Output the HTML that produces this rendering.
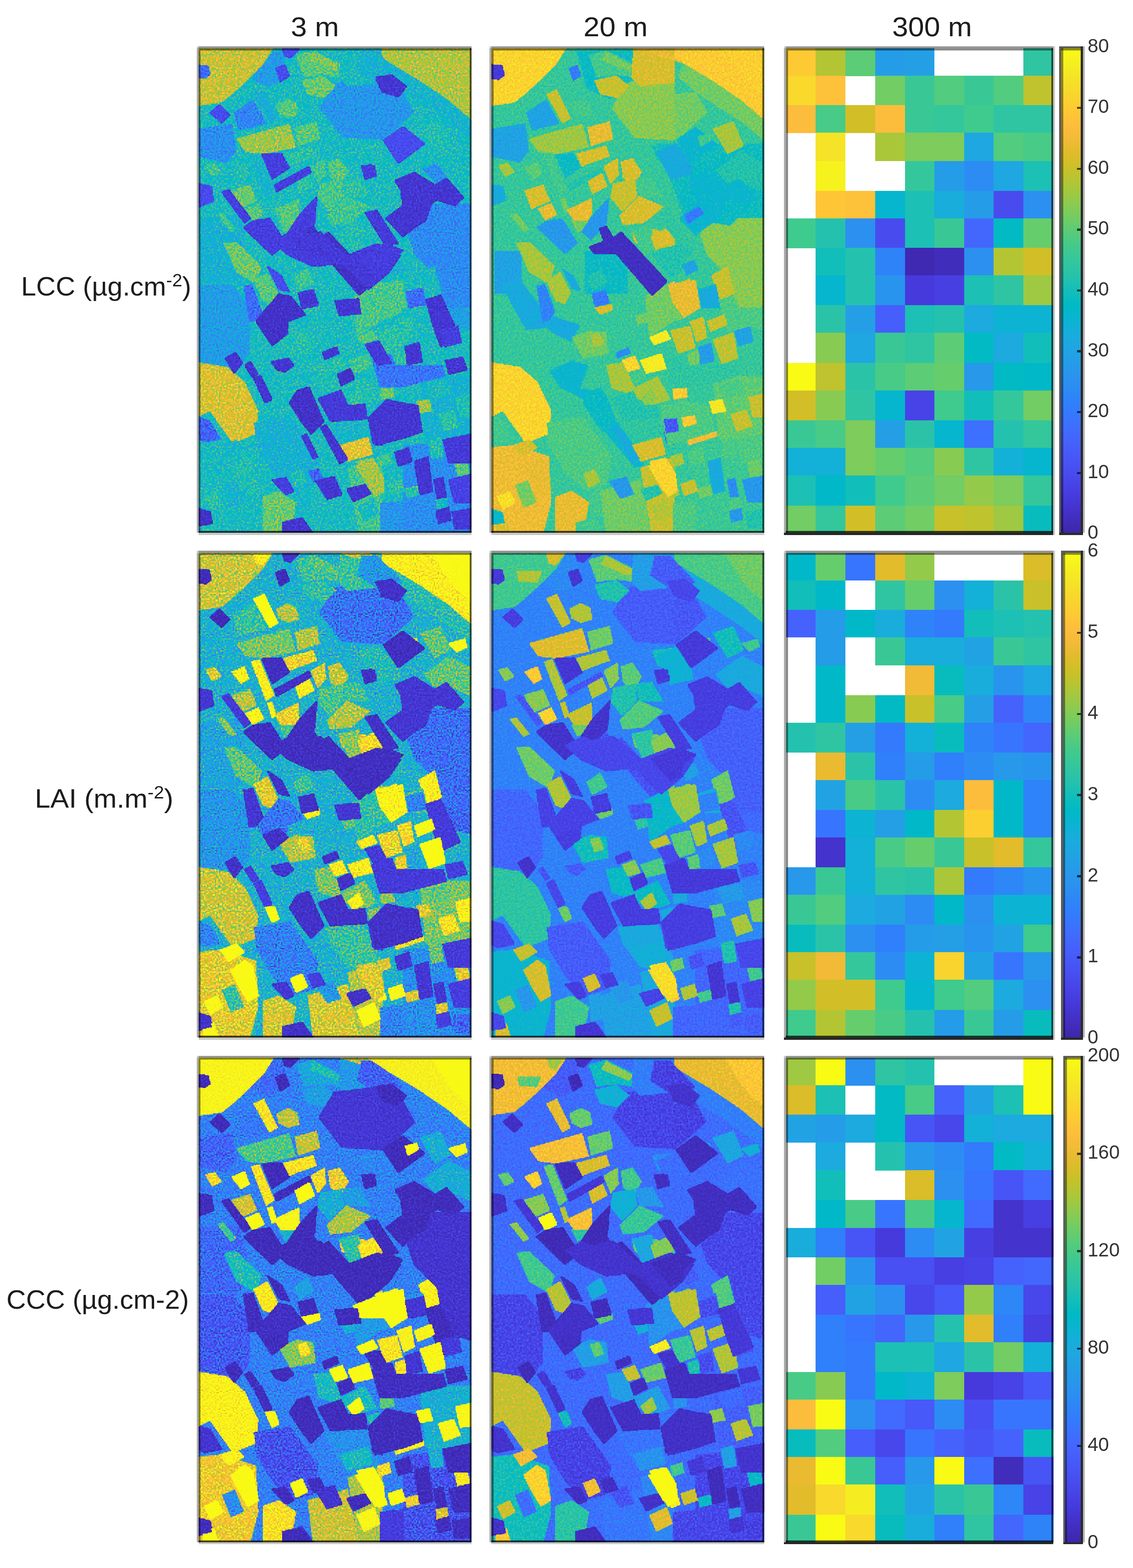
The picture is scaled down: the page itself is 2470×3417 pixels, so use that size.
<!DOCTYPE html>
<html lang="en"><head><meta charset="utf-8"><title>LCC, LAI and CCC maps at 3 m, 20 m and 300 m</title>
<style>html,body{margin:0;padding:0;background:#fff}body{width:2470px;height:3417px;overflow:hidden}svg{display:block}text{font-family:"Liberation Sans",sans-serif;fill:#1c1c1c}.t{font-size:59px}.l{font-size:57px}.k{font-size:42px;fill:#333}</style>
</head><body>
<svg width="2470" height="3417" viewBox="0 0 2470 3417">
<rect width="2470" height="3417" fill="#fff"/>
<defs><filter id="fNlcc3" filterUnits="userSpaceOnUse" primitiveUnits="userSpaceOnUse" x="0" y="0" width="600" height="1064" color-interpolation-filters="sRGB"><feTurbulence type="fractalNoise" baseFrequency="0.31" numOctaves="1" seed="3" stitchTiles="noStitch" result="t"/><feColorMatrix in="t" type="matrix" values="1 0 0 0 0 1 0 0 0 0 1 0 0 0 0 0 0 0 0 1" result="n"/><feComposite in="SourceGraphic" in2="n" operator="arithmetic" k1="0" k2="1" k3="0.75" k4="-0.375" result="s0"/><feComposite in="s0" in2="SourceGraphic" operator="in" result="s"/><feFlood x="1" y="1" width="1" height="1" flood-color="#fff" flood-opacity="1" result="d"/><feOffset in="d" dx="0" dy="0" x="0" y="0" width="4" height="4" result="c"/><feTile in="c" result="g"/><feComposite in="s" in2="g" operator="in" result="m"/><feMorphology in="m" operator="dilate" radius="1" result="b"/><feOffset in="b" dx="1" dy="0" result="b1"/><feMerge result="p"><feMergeNode in="b1"/><feMergeNode in="b"/></feMerge><feOffset in="p" dx="0" dy="1" result="p1"/><feMerge result="q"><feMergeNode in="p1"/><feMergeNode in="p"/></feMerge><feComponentTransfer in="q"><feFuncR type="table" tableValues="0.242 0.250 0.258 0.265 0.271 0.275 0.278 0.280 0.281 0.281 0.280 0.276 0.270 0.260 0.244 0.221 0.196 0.183 0.179 0.176 0.169 0.154 0.146 0.138 0.125 0.111 0.095 0.069 0.030 0.004 0.007 0.043 0.096 0.141 0.172 0.194 0.216 0.247 0.291 0.341 0.391 0.446 0.504 0.562 0.617 0.672 0.724 0.774 0.820 0.863 0.903 0.939 0.973 0.996 0.997 0.995 0.989 0.979 0.968 0.961 0.960 0.963 0.969 0.977"/><feFuncG type="table" tableValues="0.150 0.165 0.182 0.198 0.215 0.234 0.256 0.278 0.301 0.323 0.345 0.367 0.389 0.412 0.436 0.460 0.485 0.507 0.529 0.550 0.570 0.590 0.609 0.628 0.646 0.663 0.680 0.695 0.708 0.720 0.731 0.741 0.750 0.758 0.767 0.776 0.784 0.792 0.797 0.801 0.803 0.802 0.799 0.794 0.788 0.779 0.770 0.760 0.750 0.741 0.733 0.729 0.730 0.743 0.766 0.789 0.814 0.839 0.864 0.889 0.913 0.937 0.961 0.984"/><feFuncB type="table" tableValues="0.660 0.708 0.751 0.795 0.836 0.871 0.899 0.922 0.941 0.958 0.972 0.983 0.991 0.995 0.999 0.997 0.989 0.980 0.968 0.952 0.936 0.922 0.908 0.897 0.888 0.876 0.860 0.839 0.816 0.792 0.766 0.739 0.712 0.684 0.655 0.625 0.592 0.557 0.519 0.479 0.435 0.391 0.348 0.304 0.261 0.223 0.191 0.165 0.153 0.160 0.177 0.210 0.239 0.237 0.220 0.203 0.189 0.177 0.164 0.154 0.142 0.127 0.106 0.081"/></feComponentTransfer></filter><filter id="fQlcc3" filterUnits="userSpaceOnUse" primitiveUnits="userSpaceOnUse" x="0" y="0" width="600" height="1064" color-interpolation-filters="sRGB"><feTurbulence type="fractalNoise" baseFrequency="0.31" numOctaves="1" seed="4" stitchTiles="noStitch" result="t"/><feColorMatrix in="t" type="matrix" values="1 0 0 0 0 1 0 0 0 0 1 0 0 0 0 0 0 0 0 1" result="n"/><feComposite in="SourceGraphic" in2="n" operator="arithmetic" k1="0" k2="1" k3="0.28" k4="-0.14" result="s0"/><feComposite in="s0" in2="SourceGraphic" operator="in" result="s"/><feFlood x="1" y="1" width="1" height="1" flood-color="#fff" flood-opacity="1" result="d"/><feOffset in="d" dx="0" dy="0" x="0" y="0" width="4" height="4" result="c"/><feTile in="c" result="g"/><feComposite in="s" in2="g" operator="in" result="m"/><feMorphology in="m" operator="dilate" radius="1" result="b"/><feOffset in="b" dx="1" dy="0" result="b1"/><feMerge result="p"><feMergeNode in="b1"/><feMergeNode in="b"/></feMerge><feOffset in="p" dx="0" dy="1" result="p1"/><feMerge result="q"><feMergeNode in="p1"/><feMergeNode in="p"/></feMerge><feComponentTransfer in="q"><feFuncR type="table" tableValues="0.242 0.250 0.258 0.265 0.271 0.275 0.278 0.280 0.281 0.281 0.280 0.276 0.270 0.260 0.244 0.221 0.196 0.183 0.179 0.176 0.169 0.154 0.146 0.138 0.125 0.111 0.095 0.069 0.030 0.004 0.007 0.043 0.096 0.141 0.172 0.194 0.216 0.247 0.291 0.341 0.391 0.446 0.504 0.562 0.617 0.672 0.724 0.774 0.820 0.863 0.903 0.939 0.973 0.996 0.997 0.995 0.989 0.979 0.968 0.961 0.960 0.963 0.969 0.977"/><feFuncG type="table" tableValues="0.150 0.165 0.182 0.198 0.215 0.234 0.256 0.278 0.301 0.323 0.345 0.367 0.389 0.412 0.436 0.460 0.485 0.507 0.529 0.550 0.570 0.590 0.609 0.628 0.646 0.663 0.680 0.695 0.708 0.720 0.731 0.741 0.750 0.758 0.767 0.776 0.784 0.792 0.797 0.801 0.803 0.802 0.799 0.794 0.788 0.779 0.770 0.760 0.750 0.741 0.733 0.729 0.730 0.743 0.766 0.789 0.814 0.839 0.864 0.889 0.913 0.937 0.961 0.984"/><feFuncB type="table" tableValues="0.660 0.708 0.751 0.795 0.836 0.871 0.899 0.922 0.941 0.958 0.972 0.983 0.991 0.995 0.999 0.997 0.989 0.980 0.968 0.952 0.936 0.922 0.908 0.897 0.888 0.876 0.860 0.839 0.816 0.792 0.766 0.739 0.712 0.684 0.655 0.625 0.592 0.557 0.519 0.479 0.435 0.391 0.348 0.304 0.261 0.223 0.191 0.165 0.153 0.160 0.177 0.210 0.239 0.237 0.220 0.203 0.189 0.177 0.164 0.154 0.142 0.127 0.106 0.081"/></feComponentTransfer></filter><filter id="fNlai3" filterUnits="userSpaceOnUse" primitiveUnits="userSpaceOnUse" x="0" y="0" width="600" height="1064" color-interpolation-filters="sRGB"><feTurbulence type="fractalNoise" baseFrequency="0.31" numOctaves="1" seed="5" stitchTiles="noStitch" result="t"/><feColorMatrix in="t" type="matrix" values="1 0 0 0 0 1 0 0 0 0 1 0 0 0 0 0 0 0 0 1" result="n"/><feComposite in="SourceGraphic" in2="n" operator="arithmetic" k1="0" k2="1" k3="1.1" k4="-0.55" result="s0"/><feComposite in="s0" in2="SourceGraphic" operator="in" result="s"/><feFlood x="1" y="1" width="1" height="1" flood-color="#fff" flood-opacity="1" result="d"/><feOffset in="d" dx="0" dy="0" x="0" y="0" width="4" height="4" result="c"/><feTile in="c" result="g"/><feComposite in="s" in2="g" operator="in" result="m"/><feMorphology in="m" operator="dilate" radius="1" result="b"/><feOffset in="b" dx="1" dy="0" result="b1"/><feMerge result="p"><feMergeNode in="b1"/><feMergeNode in="b"/></feMerge><feOffset in="p" dx="0" dy="1" result="p1"/><feMerge result="q"><feMergeNode in="p1"/><feMergeNode in="p"/></feMerge><feComponentTransfer in="q"><feFuncR type="table" tableValues="0.242 0.250 0.258 0.265 0.271 0.275 0.278 0.280 0.281 0.281 0.280 0.276 0.270 0.260 0.244 0.221 0.196 0.183 0.179 0.176 0.169 0.154 0.146 0.138 0.125 0.111 0.095 0.069 0.030 0.004 0.007 0.043 0.096 0.141 0.172 0.194 0.216 0.247 0.291 0.341 0.391 0.446 0.504 0.562 0.617 0.672 0.724 0.774 0.820 0.863 0.903 0.939 0.973 0.996 0.997 0.995 0.989 0.979 0.968 0.961 0.960 0.963 0.969 0.977"/><feFuncG type="table" tableValues="0.150 0.165 0.182 0.198 0.215 0.234 0.256 0.278 0.301 0.323 0.345 0.367 0.389 0.412 0.436 0.460 0.485 0.507 0.529 0.550 0.570 0.590 0.609 0.628 0.646 0.663 0.680 0.695 0.708 0.720 0.731 0.741 0.750 0.758 0.767 0.776 0.784 0.792 0.797 0.801 0.803 0.802 0.799 0.794 0.788 0.779 0.770 0.760 0.750 0.741 0.733 0.729 0.730 0.743 0.766 0.789 0.814 0.839 0.864 0.889 0.913 0.937 0.961 0.984"/><feFuncB type="table" tableValues="0.660 0.708 0.751 0.795 0.836 0.871 0.899 0.922 0.941 0.958 0.972 0.983 0.991 0.995 0.999 0.997 0.989 0.980 0.968 0.952 0.936 0.922 0.908 0.897 0.888 0.876 0.860 0.839 0.816 0.792 0.766 0.739 0.712 0.684 0.655 0.625 0.592 0.557 0.519 0.479 0.435 0.391 0.348 0.304 0.261 0.223 0.191 0.165 0.153 0.160 0.177 0.210 0.239 0.237 0.220 0.203 0.189 0.177 0.164 0.154 0.142 0.127 0.106 0.081"/></feComponentTransfer></filter><filter id="fQlai3" filterUnits="userSpaceOnUse" primitiveUnits="userSpaceOnUse" x="0" y="0" width="600" height="1064" color-interpolation-filters="sRGB"><feTurbulence type="fractalNoise" baseFrequency="0.31" numOctaves="1" seed="6" stitchTiles="noStitch" result="t"/><feColorMatrix in="t" type="matrix" values="1 0 0 0 0 1 0 0 0 0 1 0 0 0 0 0 0 0 0 1" result="n"/><feComposite in="SourceGraphic" in2="n" operator="arithmetic" k1="0" k2="1" k3="0.28" k4="-0.14" result="s0"/><feComposite in="s0" in2="SourceGraphic" operator="in" result="s"/><feFlood x="1" y="1" width="1" height="1" flood-color="#fff" flood-opacity="1" result="d"/><feOffset in="d" dx="0" dy="0" x="0" y="0" width="4" height="4" result="c"/><feTile in="c" result="g"/><feComposite in="s" in2="g" operator="in" result="m"/><feMorphology in="m" operator="dilate" radius="1" result="b"/><feOffset in="b" dx="1" dy="0" result="b1"/><feMerge result="p"><feMergeNode in="b1"/><feMergeNode in="b"/></feMerge><feOffset in="p" dx="0" dy="1" result="p1"/><feMerge result="q"><feMergeNode in="p1"/><feMergeNode in="p"/></feMerge><feComponentTransfer in="q"><feFuncR type="table" tableValues="0.242 0.250 0.258 0.265 0.271 0.275 0.278 0.280 0.281 0.281 0.280 0.276 0.270 0.260 0.244 0.221 0.196 0.183 0.179 0.176 0.169 0.154 0.146 0.138 0.125 0.111 0.095 0.069 0.030 0.004 0.007 0.043 0.096 0.141 0.172 0.194 0.216 0.247 0.291 0.341 0.391 0.446 0.504 0.562 0.617 0.672 0.724 0.774 0.820 0.863 0.903 0.939 0.973 0.996 0.997 0.995 0.989 0.979 0.968 0.961 0.960 0.963 0.969 0.977"/><feFuncG type="table" tableValues="0.150 0.165 0.182 0.198 0.215 0.234 0.256 0.278 0.301 0.323 0.345 0.367 0.389 0.412 0.436 0.460 0.485 0.507 0.529 0.550 0.570 0.590 0.609 0.628 0.646 0.663 0.680 0.695 0.708 0.720 0.731 0.741 0.750 0.758 0.767 0.776 0.784 0.792 0.797 0.801 0.803 0.802 0.799 0.794 0.788 0.779 0.770 0.760 0.750 0.741 0.733 0.729 0.730 0.743 0.766 0.789 0.814 0.839 0.864 0.889 0.913 0.937 0.961 0.984"/><feFuncB type="table" tableValues="0.660 0.708 0.751 0.795 0.836 0.871 0.899 0.922 0.941 0.958 0.972 0.983 0.991 0.995 0.999 0.997 0.989 0.980 0.968 0.952 0.936 0.922 0.908 0.897 0.888 0.876 0.860 0.839 0.816 0.792 0.766 0.739 0.712 0.684 0.655 0.625 0.592 0.557 0.519 0.479 0.435 0.391 0.348 0.304 0.261 0.223 0.191 0.165 0.153 0.160 0.177 0.210 0.239 0.237 0.220 0.203 0.189 0.177 0.164 0.154 0.142 0.127 0.106 0.081"/></feComponentTransfer></filter><filter id="fNccc3" filterUnits="userSpaceOnUse" primitiveUnits="userSpaceOnUse" x="0" y="0" width="600" height="1064" color-interpolation-filters="sRGB"><feTurbulence type="fractalNoise" baseFrequency="0.31" numOctaves="1" seed="7" stitchTiles="noStitch" result="t"/><feColorMatrix in="t" type="matrix" values="1 0 0 0 0 1 0 0 0 0 1 0 0 0 0 0 0 0 0 1" result="n"/><feComposite in="SourceGraphic" in2="n" operator="arithmetic" k1="0" k2="1" k3="0.9" k4="-0.45" result="s0"/><feComposite in="s0" in2="SourceGraphic" operator="in" result="s"/><feFlood x="1" y="1" width="1" height="1" flood-color="#fff" flood-opacity="1" result="d"/><feOffset in="d" dx="0" dy="0" x="0" y="0" width="4" height="4" result="c"/><feTile in="c" result="g"/><feComposite in="s" in2="g" operator="in" result="m"/><feMorphology in="m" operator="dilate" radius="1" result="b"/><feOffset in="b" dx="1" dy="0" result="b1"/><feMerge result="p"><feMergeNode in="b1"/><feMergeNode in="b"/></feMerge><feOffset in="p" dx="0" dy="1" result="p1"/><feMerge result="q"><feMergeNode in="p1"/><feMergeNode in="p"/></feMerge><feComponentTransfer in="q"><feFuncR type="table" tableValues="0.242 0.250 0.258 0.265 0.271 0.275 0.278 0.280 0.281 0.281 0.280 0.276 0.270 0.260 0.244 0.221 0.196 0.183 0.179 0.176 0.169 0.154 0.146 0.138 0.125 0.111 0.095 0.069 0.030 0.004 0.007 0.043 0.096 0.141 0.172 0.194 0.216 0.247 0.291 0.341 0.391 0.446 0.504 0.562 0.617 0.672 0.724 0.774 0.820 0.863 0.903 0.939 0.973 0.996 0.997 0.995 0.989 0.979 0.968 0.961 0.960 0.963 0.969 0.977"/><feFuncG type="table" tableValues="0.150 0.165 0.182 0.198 0.215 0.234 0.256 0.278 0.301 0.323 0.345 0.367 0.389 0.412 0.436 0.460 0.485 0.507 0.529 0.550 0.570 0.590 0.609 0.628 0.646 0.663 0.680 0.695 0.708 0.720 0.731 0.741 0.750 0.758 0.767 0.776 0.784 0.792 0.797 0.801 0.803 0.802 0.799 0.794 0.788 0.779 0.770 0.760 0.750 0.741 0.733 0.729 0.730 0.743 0.766 0.789 0.814 0.839 0.864 0.889 0.913 0.937 0.961 0.984"/><feFuncB type="table" tableValues="0.660 0.708 0.751 0.795 0.836 0.871 0.899 0.922 0.941 0.958 0.972 0.983 0.991 0.995 0.999 0.997 0.989 0.980 0.968 0.952 0.936 0.922 0.908 0.897 0.888 0.876 0.860 0.839 0.816 0.792 0.766 0.739 0.712 0.684 0.655 0.625 0.592 0.557 0.519 0.479 0.435 0.391 0.348 0.304 0.261 0.223 0.191 0.165 0.153 0.160 0.177 0.210 0.239 0.237 0.220 0.203 0.189 0.177 0.164 0.154 0.142 0.127 0.106 0.081"/></feComponentTransfer></filter><filter id="fQccc3" filterUnits="userSpaceOnUse" primitiveUnits="userSpaceOnUse" x="0" y="0" width="600" height="1064" color-interpolation-filters="sRGB"><feTurbulence type="fractalNoise" baseFrequency="0.31" numOctaves="1" seed="8" stitchTiles="noStitch" result="t"/><feColorMatrix in="t" type="matrix" values="1 0 0 0 0 1 0 0 0 0 1 0 0 0 0 0 0 0 0 1" result="n"/><feComposite in="SourceGraphic" in2="n" operator="arithmetic" k1="0" k2="1" k3="0.28" k4="-0.14" result="s0"/><feComposite in="s0" in2="SourceGraphic" operator="in" result="s"/><feFlood x="1" y="1" width="1" height="1" flood-color="#fff" flood-opacity="1" result="d"/><feOffset in="d" dx="0" dy="0" x="0" y="0" width="4" height="4" result="c"/><feTile in="c" result="g"/><feComposite in="s" in2="g" operator="in" result="m"/><feMorphology in="m" operator="dilate" radius="1" result="b"/><feOffset in="b" dx="1" dy="0" result="b1"/><feMerge result="p"><feMergeNode in="b1"/><feMergeNode in="b"/></feMerge><feOffset in="p" dx="0" dy="1" result="p1"/><feMerge result="q"><feMergeNode in="p1"/><feMergeNode in="p"/></feMerge><feComponentTransfer in="q"><feFuncR type="table" tableValues="0.242 0.250 0.258 0.265 0.271 0.275 0.278 0.280 0.281 0.281 0.280 0.276 0.270 0.260 0.244 0.221 0.196 0.183 0.179 0.176 0.169 0.154 0.146 0.138 0.125 0.111 0.095 0.069 0.030 0.004 0.007 0.043 0.096 0.141 0.172 0.194 0.216 0.247 0.291 0.341 0.391 0.446 0.504 0.562 0.617 0.672 0.724 0.774 0.820 0.863 0.903 0.939 0.973 0.996 0.997 0.995 0.989 0.979 0.968 0.961 0.960 0.963 0.969 0.977"/><feFuncG type="table" tableValues="0.150 0.165 0.182 0.198 0.215 0.234 0.256 0.278 0.301 0.323 0.345 0.367 0.389 0.412 0.436 0.460 0.485 0.507 0.529 0.550 0.570 0.590 0.609 0.628 0.646 0.663 0.680 0.695 0.708 0.720 0.731 0.741 0.750 0.758 0.767 0.776 0.784 0.792 0.797 0.801 0.803 0.802 0.799 0.794 0.788 0.779 0.770 0.760 0.750 0.741 0.733 0.729 0.730 0.743 0.766 0.789 0.814 0.839 0.864 0.889 0.913 0.937 0.961 0.984"/><feFuncB type="table" tableValues="0.660 0.708 0.751 0.795 0.836 0.871 0.899 0.922 0.941 0.958 0.972 0.983 0.991 0.995 0.999 0.997 0.989 0.980 0.968 0.952 0.936 0.922 0.908 0.897 0.888 0.876 0.860 0.839 0.816 0.792 0.766 0.739 0.712 0.684 0.655 0.625 0.592 0.557 0.519 0.479 0.435 0.391 0.348 0.304 0.261 0.223 0.191 0.165 0.153 0.160 0.177 0.210 0.239 0.237 0.220 0.203 0.189 0.177 0.164 0.154 0.142 0.127 0.106 0.081"/></feComponentTransfer></filter><filter id="fNlcc20" filterUnits="userSpaceOnUse" primitiveUnits="userSpaceOnUse" x="0" y="0" width="600" height="1064" color-interpolation-filters="sRGB"><feTurbulence type="fractalNoise" baseFrequency="0.27" numOctaves="1" seed="9" stitchTiles="noStitch" result="t"/><feColorMatrix in="t" type="matrix" values="1 0 0 0 0 1 0 0 0 0 1 0 0 0 0 0 0 0 0 1" result="n"/><feComposite in="SourceGraphic" in2="n" operator="arithmetic" k1="0" k2="1" k3="0.35" k4="-0.175" result="s0"/><feComposite in="s0" in2="SourceGraphic" operator="in" result="s"/><feFlood x="1" y="1" width="1" height="1" flood-color="#fff" flood-opacity="1" result="d"/><feOffset in="d" dx="0" dy="0" x="0" y="0" width="4" height="4" result="c"/><feTile in="c" result="g"/><feComposite in="s" in2="g" operator="in" result="m"/><feMorphology in="m" operator="dilate" radius="1" result="b"/><feOffset in="b" dx="1" dy="0" result="b1"/><feMerge result="p"><feMergeNode in="b1"/><feMergeNode in="b"/></feMerge><feOffset in="p" dx="0" dy="1" result="p1"/><feMerge result="q"><feMergeNode in="p1"/><feMergeNode in="p"/></feMerge><feComponentTransfer in="q"><feFuncR type="table" tableValues="0.242 0.250 0.258 0.265 0.271 0.275 0.278 0.280 0.281 0.281 0.280 0.276 0.270 0.260 0.244 0.221 0.196 0.183 0.179 0.176 0.169 0.154 0.146 0.138 0.125 0.111 0.095 0.069 0.030 0.004 0.007 0.043 0.096 0.141 0.172 0.194 0.216 0.247 0.291 0.341 0.391 0.446 0.504 0.562 0.617 0.672 0.724 0.774 0.820 0.863 0.903 0.939 0.973 0.996 0.997 0.995 0.989 0.979 0.968 0.961 0.960 0.963 0.969 0.977"/><feFuncG type="table" tableValues="0.150 0.165 0.182 0.198 0.215 0.234 0.256 0.278 0.301 0.323 0.345 0.367 0.389 0.412 0.436 0.460 0.485 0.507 0.529 0.550 0.570 0.590 0.609 0.628 0.646 0.663 0.680 0.695 0.708 0.720 0.731 0.741 0.750 0.758 0.767 0.776 0.784 0.792 0.797 0.801 0.803 0.802 0.799 0.794 0.788 0.779 0.770 0.760 0.750 0.741 0.733 0.729 0.730 0.743 0.766 0.789 0.814 0.839 0.864 0.889 0.913 0.937 0.961 0.984"/><feFuncB type="table" tableValues="0.660 0.708 0.751 0.795 0.836 0.871 0.899 0.922 0.941 0.958 0.972 0.983 0.991 0.995 0.999 0.997 0.989 0.980 0.968 0.952 0.936 0.922 0.908 0.897 0.888 0.876 0.860 0.839 0.816 0.792 0.766 0.739 0.712 0.684 0.655 0.625 0.592 0.557 0.519 0.479 0.435 0.391 0.348 0.304 0.261 0.223 0.191 0.165 0.153 0.160 0.177 0.210 0.239 0.237 0.220 0.203 0.189 0.177 0.164 0.154 0.142 0.127 0.106 0.081"/></feComponentTransfer></filter><filter id="fQlcc20" filterUnits="userSpaceOnUse" primitiveUnits="userSpaceOnUse" x="0" y="0" width="600" height="1064" color-interpolation-filters="sRGB"><feTurbulence type="fractalNoise" baseFrequency="0.27" numOctaves="1" seed="10" stitchTiles="noStitch" result="t"/><feColorMatrix in="t" type="matrix" values="1 0 0 0 0 1 0 0 0 0 1 0 0 0 0 0 0 0 0 1" result="n"/><feComposite in="SourceGraphic" in2="n" operator="arithmetic" k1="0" k2="1" k3="0.15" k4="-0.075" result="s0"/><feComposite in="s0" in2="SourceGraphic" operator="in" result="s"/><feFlood x="1" y="1" width="1" height="1" flood-color="#fff" flood-opacity="1" result="d"/><feOffset in="d" dx="0" dy="0" x="0" y="0" width="4" height="4" result="c"/><feTile in="c" result="g"/><feComposite in="s" in2="g" operator="in" result="m"/><feMorphology in="m" operator="dilate" radius="1" result="b"/><feOffset in="b" dx="1" dy="0" result="b1"/><feMerge result="p"><feMergeNode in="b1"/><feMergeNode in="b"/></feMerge><feOffset in="p" dx="0" dy="1" result="p1"/><feMerge result="q"><feMergeNode in="p1"/><feMergeNode in="p"/></feMerge><feComponentTransfer in="q"><feFuncR type="table" tableValues="0.242 0.250 0.258 0.265 0.271 0.275 0.278 0.280 0.281 0.281 0.280 0.276 0.270 0.260 0.244 0.221 0.196 0.183 0.179 0.176 0.169 0.154 0.146 0.138 0.125 0.111 0.095 0.069 0.030 0.004 0.007 0.043 0.096 0.141 0.172 0.194 0.216 0.247 0.291 0.341 0.391 0.446 0.504 0.562 0.617 0.672 0.724 0.774 0.820 0.863 0.903 0.939 0.973 0.996 0.997 0.995 0.989 0.979 0.968 0.961 0.960 0.963 0.969 0.977"/><feFuncG type="table" tableValues="0.150 0.165 0.182 0.198 0.215 0.234 0.256 0.278 0.301 0.323 0.345 0.367 0.389 0.412 0.436 0.460 0.485 0.507 0.529 0.550 0.570 0.590 0.609 0.628 0.646 0.663 0.680 0.695 0.708 0.720 0.731 0.741 0.750 0.758 0.767 0.776 0.784 0.792 0.797 0.801 0.803 0.802 0.799 0.794 0.788 0.779 0.770 0.760 0.750 0.741 0.733 0.729 0.730 0.743 0.766 0.789 0.814 0.839 0.864 0.889 0.913 0.937 0.961 0.984"/><feFuncB type="table" tableValues="0.660 0.708 0.751 0.795 0.836 0.871 0.899 0.922 0.941 0.958 0.972 0.983 0.991 0.995 0.999 0.997 0.989 0.980 0.968 0.952 0.936 0.922 0.908 0.897 0.888 0.876 0.860 0.839 0.816 0.792 0.766 0.739 0.712 0.684 0.655 0.625 0.592 0.557 0.519 0.479 0.435 0.391 0.348 0.304 0.261 0.223 0.191 0.165 0.153 0.160 0.177 0.210 0.239 0.237 0.220 0.203 0.189 0.177 0.164 0.154 0.142 0.127 0.106 0.081"/></feComponentTransfer></filter><filter id="fNlai20" filterUnits="userSpaceOnUse" primitiveUnits="userSpaceOnUse" x="0" y="0" width="600" height="1064" color-interpolation-filters="sRGB"><feTurbulence type="fractalNoise" baseFrequency="0.27" numOctaves="1" seed="11" stitchTiles="noStitch" result="t"/><feColorMatrix in="t" type="matrix" values="1 0 0 0 0 1 0 0 0 0 1 0 0 0 0 0 0 0 0 1" result="n"/><feComposite in="SourceGraphic" in2="n" operator="arithmetic" k1="0" k2="1" k3="0.3" k4="-0.15" result="s0"/><feComposite in="s0" in2="SourceGraphic" operator="in" result="s"/><feFlood x="1" y="1" width="1" height="1" flood-color="#fff" flood-opacity="1" result="d"/><feOffset in="d" dx="0" dy="0" x="0" y="0" width="4" height="4" result="c"/><feTile in="c" result="g"/><feComposite in="s" in2="g" operator="in" result="m"/><feMorphology in="m" operator="dilate" radius="1" result="b"/><feOffset in="b" dx="1" dy="0" result="b1"/><feMerge result="p"><feMergeNode in="b1"/><feMergeNode in="b"/></feMerge><feOffset in="p" dx="0" dy="1" result="p1"/><feMerge result="q"><feMergeNode in="p1"/><feMergeNode in="p"/></feMerge><feComponentTransfer in="q"><feFuncR type="table" tableValues="0.242 0.250 0.258 0.265 0.271 0.275 0.278 0.280 0.281 0.281 0.280 0.276 0.270 0.260 0.244 0.221 0.196 0.183 0.179 0.176 0.169 0.154 0.146 0.138 0.125 0.111 0.095 0.069 0.030 0.004 0.007 0.043 0.096 0.141 0.172 0.194 0.216 0.247 0.291 0.341 0.391 0.446 0.504 0.562 0.617 0.672 0.724 0.774 0.820 0.863 0.903 0.939 0.973 0.996 0.997 0.995 0.989 0.979 0.968 0.961 0.960 0.963 0.969 0.977"/><feFuncG type="table" tableValues="0.150 0.165 0.182 0.198 0.215 0.234 0.256 0.278 0.301 0.323 0.345 0.367 0.389 0.412 0.436 0.460 0.485 0.507 0.529 0.550 0.570 0.590 0.609 0.628 0.646 0.663 0.680 0.695 0.708 0.720 0.731 0.741 0.750 0.758 0.767 0.776 0.784 0.792 0.797 0.801 0.803 0.802 0.799 0.794 0.788 0.779 0.770 0.760 0.750 0.741 0.733 0.729 0.730 0.743 0.766 0.789 0.814 0.839 0.864 0.889 0.913 0.937 0.961 0.984"/><feFuncB type="table" tableValues="0.660 0.708 0.751 0.795 0.836 0.871 0.899 0.922 0.941 0.958 0.972 0.983 0.991 0.995 0.999 0.997 0.989 0.980 0.968 0.952 0.936 0.922 0.908 0.897 0.888 0.876 0.860 0.839 0.816 0.792 0.766 0.739 0.712 0.684 0.655 0.625 0.592 0.557 0.519 0.479 0.435 0.391 0.348 0.304 0.261 0.223 0.191 0.165 0.153 0.160 0.177 0.210 0.239 0.237 0.220 0.203 0.189 0.177 0.164 0.154 0.142 0.127 0.106 0.081"/></feComponentTransfer></filter><filter id="fQlai20" filterUnits="userSpaceOnUse" primitiveUnits="userSpaceOnUse" x="0" y="0" width="600" height="1064" color-interpolation-filters="sRGB"><feTurbulence type="fractalNoise" baseFrequency="0.27" numOctaves="1" seed="12" stitchTiles="noStitch" result="t"/><feColorMatrix in="t" type="matrix" values="1 0 0 0 0 1 0 0 0 0 1 0 0 0 0 0 0 0 0 1" result="n"/><feComposite in="SourceGraphic" in2="n" operator="arithmetic" k1="0" k2="1" k3="0.15" k4="-0.075" result="s0"/><feComposite in="s0" in2="SourceGraphic" operator="in" result="s"/><feFlood x="1" y="1" width="1" height="1" flood-color="#fff" flood-opacity="1" result="d"/><feOffset in="d" dx="0" dy="0" x="0" y="0" width="4" height="4" result="c"/><feTile in="c" result="g"/><feComposite in="s" in2="g" operator="in" result="m"/><feMorphology in="m" operator="dilate" radius="1" result="b"/><feOffset in="b" dx="1" dy="0" result="b1"/><feMerge result="p"><feMergeNode in="b1"/><feMergeNode in="b"/></feMerge><feOffset in="p" dx="0" dy="1" result="p1"/><feMerge result="q"><feMergeNode in="p1"/><feMergeNode in="p"/></feMerge><feComponentTransfer in="q"><feFuncR type="table" tableValues="0.242 0.250 0.258 0.265 0.271 0.275 0.278 0.280 0.281 0.281 0.280 0.276 0.270 0.260 0.244 0.221 0.196 0.183 0.179 0.176 0.169 0.154 0.146 0.138 0.125 0.111 0.095 0.069 0.030 0.004 0.007 0.043 0.096 0.141 0.172 0.194 0.216 0.247 0.291 0.341 0.391 0.446 0.504 0.562 0.617 0.672 0.724 0.774 0.820 0.863 0.903 0.939 0.973 0.996 0.997 0.995 0.989 0.979 0.968 0.961 0.960 0.963 0.969 0.977"/><feFuncG type="table" tableValues="0.150 0.165 0.182 0.198 0.215 0.234 0.256 0.278 0.301 0.323 0.345 0.367 0.389 0.412 0.436 0.460 0.485 0.507 0.529 0.550 0.570 0.590 0.609 0.628 0.646 0.663 0.680 0.695 0.708 0.720 0.731 0.741 0.750 0.758 0.767 0.776 0.784 0.792 0.797 0.801 0.803 0.802 0.799 0.794 0.788 0.779 0.770 0.760 0.750 0.741 0.733 0.729 0.730 0.743 0.766 0.789 0.814 0.839 0.864 0.889 0.913 0.937 0.961 0.984"/><feFuncB type="table" tableValues="0.660 0.708 0.751 0.795 0.836 0.871 0.899 0.922 0.941 0.958 0.972 0.983 0.991 0.995 0.999 0.997 0.989 0.980 0.968 0.952 0.936 0.922 0.908 0.897 0.888 0.876 0.860 0.839 0.816 0.792 0.766 0.739 0.712 0.684 0.655 0.625 0.592 0.557 0.519 0.479 0.435 0.391 0.348 0.304 0.261 0.223 0.191 0.165 0.153 0.160 0.177 0.210 0.239 0.237 0.220 0.203 0.189 0.177 0.164 0.154 0.142 0.127 0.106 0.081"/></feComponentTransfer></filter><filter id="fNccc20" filterUnits="userSpaceOnUse" primitiveUnits="userSpaceOnUse" x="0" y="0" width="600" height="1064" color-interpolation-filters="sRGB"><feTurbulence type="fractalNoise" baseFrequency="0.27" numOctaves="1" seed="13" stitchTiles="noStitch" result="t"/><feColorMatrix in="t" type="matrix" values="1 0 0 0 0 1 0 0 0 0 1 0 0 0 0 0 0 0 0 1" result="n"/><feComposite in="SourceGraphic" in2="n" operator="arithmetic" k1="0" k2="1" k3="0.35" k4="-0.175" result="s0"/><feComposite in="s0" in2="SourceGraphic" operator="in" result="s"/><feFlood x="1" y="1" width="1" height="1" flood-color="#fff" flood-opacity="1" result="d"/><feOffset in="d" dx="0" dy="0" x="0" y="0" width="4" height="4" result="c"/><feTile in="c" result="g"/><feComposite in="s" in2="g" operator="in" result="m"/><feMorphology in="m" operator="dilate" radius="1" result="b"/><feOffset in="b" dx="1" dy="0" result="b1"/><feMerge result="p"><feMergeNode in="b1"/><feMergeNode in="b"/></feMerge><feOffset in="p" dx="0" dy="1" result="p1"/><feMerge result="q"><feMergeNode in="p1"/><feMergeNode in="p"/></feMerge><feComponentTransfer in="q"><feFuncR type="table" tableValues="0.242 0.250 0.258 0.265 0.271 0.275 0.278 0.280 0.281 0.281 0.280 0.276 0.270 0.260 0.244 0.221 0.196 0.183 0.179 0.176 0.169 0.154 0.146 0.138 0.125 0.111 0.095 0.069 0.030 0.004 0.007 0.043 0.096 0.141 0.172 0.194 0.216 0.247 0.291 0.341 0.391 0.446 0.504 0.562 0.617 0.672 0.724 0.774 0.820 0.863 0.903 0.939 0.973 0.996 0.997 0.995 0.989 0.979 0.968 0.961 0.960 0.963 0.969 0.977"/><feFuncG type="table" tableValues="0.150 0.165 0.182 0.198 0.215 0.234 0.256 0.278 0.301 0.323 0.345 0.367 0.389 0.412 0.436 0.460 0.485 0.507 0.529 0.550 0.570 0.590 0.609 0.628 0.646 0.663 0.680 0.695 0.708 0.720 0.731 0.741 0.750 0.758 0.767 0.776 0.784 0.792 0.797 0.801 0.803 0.802 0.799 0.794 0.788 0.779 0.770 0.760 0.750 0.741 0.733 0.729 0.730 0.743 0.766 0.789 0.814 0.839 0.864 0.889 0.913 0.937 0.961 0.984"/><feFuncB type="table" tableValues="0.660 0.708 0.751 0.795 0.836 0.871 0.899 0.922 0.941 0.958 0.972 0.983 0.991 0.995 0.999 0.997 0.989 0.980 0.968 0.952 0.936 0.922 0.908 0.897 0.888 0.876 0.860 0.839 0.816 0.792 0.766 0.739 0.712 0.684 0.655 0.625 0.592 0.557 0.519 0.479 0.435 0.391 0.348 0.304 0.261 0.223 0.191 0.165 0.153 0.160 0.177 0.210 0.239 0.237 0.220 0.203 0.189 0.177 0.164 0.154 0.142 0.127 0.106 0.081"/></feComponentTransfer></filter><filter id="fQccc20" filterUnits="userSpaceOnUse" primitiveUnits="userSpaceOnUse" x="0" y="0" width="600" height="1064" color-interpolation-filters="sRGB"><feTurbulence type="fractalNoise" baseFrequency="0.27" numOctaves="1" seed="14" stitchTiles="noStitch" result="t"/><feColorMatrix in="t" type="matrix" values="1 0 0 0 0 1 0 0 0 0 1 0 0 0 0 0 0 0 0 1" result="n"/><feComposite in="SourceGraphic" in2="n" operator="arithmetic" k1="0" k2="1" k3="0.15" k4="-0.075" result="s0"/><feComposite in="s0" in2="SourceGraphic" operator="in" result="s"/><feFlood x="1" y="1" width="1" height="1" flood-color="#fff" flood-opacity="1" result="d"/><feOffset in="d" dx="0" dy="0" x="0" y="0" width="4" height="4" result="c"/><feTile in="c" result="g"/><feComposite in="s" in2="g" operator="in" result="m"/><feMorphology in="m" operator="dilate" radius="1" result="b"/><feOffset in="b" dx="1" dy="0" result="b1"/><feMerge result="p"><feMergeNode in="b1"/><feMergeNode in="b"/></feMerge><feOffset in="p" dx="0" dy="1" result="p1"/><feMerge result="q"><feMergeNode in="p1"/><feMergeNode in="p"/></feMerge><feComponentTransfer in="q"><feFuncR type="table" tableValues="0.242 0.250 0.258 0.265 0.271 0.275 0.278 0.280 0.281 0.281 0.280 0.276 0.270 0.260 0.244 0.221 0.196 0.183 0.179 0.176 0.169 0.154 0.146 0.138 0.125 0.111 0.095 0.069 0.030 0.004 0.007 0.043 0.096 0.141 0.172 0.194 0.216 0.247 0.291 0.341 0.391 0.446 0.504 0.562 0.617 0.672 0.724 0.774 0.820 0.863 0.903 0.939 0.973 0.996 0.997 0.995 0.989 0.979 0.968 0.961 0.960 0.963 0.969 0.977"/><feFuncG type="table" tableValues="0.150 0.165 0.182 0.198 0.215 0.234 0.256 0.278 0.301 0.323 0.345 0.367 0.389 0.412 0.436 0.460 0.485 0.507 0.529 0.550 0.570 0.590 0.609 0.628 0.646 0.663 0.680 0.695 0.708 0.720 0.731 0.741 0.750 0.758 0.767 0.776 0.784 0.792 0.797 0.801 0.803 0.802 0.799 0.794 0.788 0.779 0.770 0.760 0.750 0.741 0.733 0.729 0.730 0.743 0.766 0.789 0.814 0.839 0.864 0.889 0.913 0.937 0.961 0.984"/><feFuncB type="table" tableValues="0.660 0.708 0.751 0.795 0.836 0.871 0.899 0.922 0.941 0.958 0.972 0.983 0.991 0.995 0.999 0.997 0.989 0.980 0.968 0.952 0.936 0.922 0.908 0.897 0.888 0.876 0.860 0.839 0.816 0.792 0.766 0.739 0.712 0.684 0.655 0.625 0.592 0.557 0.519 0.479 0.435 0.391 0.348 0.304 0.261 0.223 0.191 0.165 0.153 0.160 0.177 0.210 0.239 0.237 0.220 0.203 0.189 0.177 0.164 0.154 0.142 0.127 0.106 0.081"/></feComponentTransfer></filter></defs>
<svg x="432.8" y="105.3" width="595.2" height="1056" viewBox="0 0 595.2 1056" preserveAspectRatio="none" overflow="hidden">
<g shape-rendering="crispEdges" filter="url(#fNlcc3)"><rect width="600" height="1065" fill="#6c6c6c"/>
<polygon points="0,0 162.5,0 140,35 110,65 75,97.5 50,117.5 0,125" fill="#b2b2b2"/>
<polygon points="295,75 400,62.5 400,200 312.5,195 262.5,130" fill="#464646"/>
<polygon points="370,0 595,0 595,155 545,112.5 482.5,70 420,32.5" fill="#a9a9a9"/>
<polygon points="507.5,0 595,0 595,105 557.5,75" fill="#acacac"/>
<polygon points="400,100 445,95 470,140 432.5,175 400,200" fill="#464646"/>
<polygon points="445,375 507.5,337.5 595,337.5 595,567 532.5,567 520,500 470,450" fill="#3d3d3d"/>
<polygon points="0,515 75,515 112.5,565 112.5,665 75,715 0,685" fill="#4c4c4c"/>
<polygon points="0,685 62.5,695 100,727.5 130,790 125,840 75,860 25,790 0,802.5" fill="#b9b9b9"/>
<polygon points="0,870 50,865 125,890 130,990 112.5,1057 0,1057" fill="#6c6c6c"/>
<polygon points="482.5,715 595,715 595,852.5 495,852.5" fill="#606060"/>
<polygon points="445,865 595,852.5 595,1057 445,1057" fill="#404040"/>
<polygon points="0,175 75,162.5 82.5,225 62.5,250 0,237.5" fill="#404040"/>
<polygon points="-4,370.9 90,361.5 113.5,464.9 90,511.9 -4,511.9" fill="#606060"/>
<polygon points="0,35 22.5,37.5 27.5,57.5 15,67.5 0,65" fill="#262626"/>
<polygon points="110,65 140,35 162.5,5 182.5,7.5 197.5,60 175,75 150,85" fill="#4c4c4c"/>
<polygon points="212.5,15 250,5 310,35 305,62.5 275,57.5 230,62.5" fill="#8c8c8c"/>
<polygon points="250,7.5 307.5,37.5 300,50 240,25" fill="#999999"/>
<polygon points="225,70 272.5,60 300,82.5 275,107.5 237.5,100" fill="#939393"/>
<polygon points="310,0 400,0 400,75 325,82.5 305,62.5" fill="#6c6c6c"/>
<polygon points="75,140 120,110 150,165 87.5,180" fill="#393939"/>
<polygon points="120,100 142.5,90 172.5,152.5 155,162.5" fill="#5c5c5c"/>
<polygon points="170,122.5 195,110 215,120 220,145 195,152.5 175,142.5" fill="#8c8c8c"/>
<polygon points="82.5,197.5 197.5,165 212.5,215 140,230 102.5,225" fill="#a3a3a3"/>
<polygon points="210,172.5 257.5,160 265,197.5 217.5,212.5" fill="#8c8c8c"/>
<polygon points="185,230 250,212.5 257.5,235 215,250 197.5,257.5" fill="#797979"/>
<polygon points="72.5,260 100,247.5 110,275 92.5,285" fill="#737373"/>
<polygon points="115,237.5 132.5,232.5 165,310 147.5,322.5" fill="#636363"/>
<polygon points="15,255 35,250 50,270 30,280" fill="#838383"/>
<polygon points="72.5,310 112.5,297.5 127.5,332.5 87.5,350" fill="#939393"/>
<polygon points="210,287.5 240,270 252.5,300 220,317.5" fill="#797979"/>
<polygon points="245,257.5 275,240 277.5,275 260,295" fill="#838383"/>
<polygon points="282.5,247.5 307.5,240 327.5,270 310,297.5 287.5,282.5" fill="#8c8c8c"/>
<polygon points="265,295 312.5,285 317.5,322.5 285,355 260,325" fill="#868686"/>
<polygon points="312.5,285 350,282.5 375,325 322.5,322.5" fill="#797979"/>
<polygon points="350,212.5 400,207.5 400,262.5 362.5,245" fill="#737373"/>
<polygon points="102.5,350 130,337.5 142.5,362.5 117.5,375" fill="#8c8c8c"/>
<polygon points="150,327.5 160,325 170,355 160,360" fill="#737373"/>
<polygon points="165,352.5 217.5,327.5 220,360 210,375 180,375" fill="#8c8c8c"/>
<polygon points="175,375 210,375 207.5,392.5 187.5,400" fill="#8c8c8c"/>
<polygon points="280,365 322.5,322.5 375,345 332.5,380 287.5,385" fill="#838383"/>
<polygon points="307.5,400 355,395 400,410 400,430 350,437.5 312.5,422.5" fill="#797979"/>
<polygon points="40,362.5 55,360 82.5,395 70,400" fill="#838383"/>
<polygon points="55,425 82.5,422.5 137.5,475 125,512.5 82.5,487.5" fill="#939393"/>
<polygon points="120,505 150,487.5 172.5,532.5 160,557.5 140,550" fill="#8c8c8c"/>
<polygon points="207.5,500 237.5,480 252.5,510 220,527.5" fill="#838383"/>
<polygon points="340,537.5 400,507.5 400,567 350,567" fill="#838383"/>
<polygon points="420,32.5 482.5,70 545,112.5 595,155 595,200 545,160 507.5,135 445,95 407.5,62.5" fill="#636363"/>
<polygon points="355,5 390,5 445,62.5 420,100 382.5,75 345,50" fill="#606060"/>
<polygon points="450,192.5 475,186.2 480,200 456.2,213.8" fill="#737373"/>
<polygon points="482.5,175 527.5,160 550,212.5 515,230" fill="#737373"/>
<polygon points="357.5,225 402.5,205 435,250 440,275 390,287.5" fill="#6c6c6c"/>
<polygon points="490,265 545,225 595,250 595,312.5 532.5,287.5 515,295" fill="#6c6c6c"/>
<polygon points="485,262.5 520,250 542.5,280 517.5,295" fill="#404040"/>
<polygon points="305,395 350,385 357.5,440 330,450" fill="#737373"/>
<polygon points="347.5,410 380,392.5 400,417.5 357.5,440" fill="#6c6c6c"/>
<polygon points="480,495 515,475 530,532.5 497.5,552.5" fill="#6c6c6c"/>
<polygon points="337.5,540 432.5,502.5 450,567 345,567" fill="#797979"/>
<polygon points="415,470 442.5,460 452.5,482.5 425,497.5" fill="#606060"/>
<polygon points="450,525 490,512.5 502.5,567 457.5,567" fill="#6c6c6c"/>
<polygon points="120,815 200,802.5 262.5,890 250,952.5 205,965 162.5,927.5 125,865" fill="#606060"/>
<polygon points="250,690 287.5,685 312.5,740 362.5,715 390,765 350,777.5 300,752.5 262.5,740" fill="#737373"/>
<polygon points="275,815 362.5,810 400,890 375,915 325,902.5 287.5,852.5" fill="#666666"/>
<polygon points="237.5,965 325,940 350,1057 250,1057" fill="#6c6c6c"/>
<polygon points="175,630 215,615 250,620 255,665 200,675" fill="#737373"/>
<polygon points="325,915 400,890 400,1057 350,1057" fill="#838383"/>
<polygon points="97.5,517.5 117.5,512.5 140,575 125,595 110,597.5" fill="#262626"/>
<polygon points="225,565 262.5,557.5 265,570 237.5,580" fill="#737373"/>
<polygon points="337.5,540 400,515 400,590 362.5,577.5" fill="#838383"/>
<polygon points="312.5,582.5 350,572.5 355,592.5 320,602.5" fill="#737373"/>
<polygon points="345,630 380,615 390,632.5 355,645" fill="#8c8c8c"/>
<polygon points="215,625 235,620 245,645 225,652.5" fill="#797979"/>
<polygon points="285,680 312.5,670 325,697.5 297.5,705" fill="#797979"/>
<polygon points="325,680 370,665 380,697.5 337.5,707.5" fill="#838383"/>
<polygon points="325,760 350,740 360,765 337.5,780" fill="#797979"/>
<polygon points="0,802.5 25,810 50,852.5 12.5,860 0,852.5" fill="#202020"/>
<polygon points="47.5,865 82.5,852.5 100,870 65,890" fill="#666666"/>
<polygon points="70,910 100,887.5 117.5,900 130,965 107.5,977.5 85,940" fill="#737373"/>
<polygon points="12.5,977.5 40,965 52.5,990 25,1005" fill="#797979"/>
<polygon points="10,1035 32.5,1025 42.5,1057 10,1057" fill="#737373"/>
<polygon points="50,952.5 80,940 100,990 70,1002.5" fill="#636363"/>
<polygon points="200,927.5 225,917.5 237.5,945 212.5,957.5" fill="#737373"/>
<polygon points="307.5,865 370,847.5 380,885 325,900" fill="#bfbfbf"/>
<polygon points="342.5,910 380,895 400,927.5 400,960 375,965" fill="#a3a3a3"/>
<polygon points="345,997.5 382.5,980 395,1015 360,1032.5" fill="#6c6c6c"/>
<polygon points="237.5,920 262.5,915 275,940 250,947.5" fill="#202020"/>
<polygon points="140,977.5 175,965 212.5,990 200,1057 140,1057" fill="#939393"/>
<polygon points="212.5,965 237.5,960 245,1015 217.5,1022.5" fill="#666666"/>
<polygon points="540,565 595,565 595,615 550,602.5" fill="#505050"/>
<polygon points="395,990 445,985 445,1057 395,1057" fill="#464646"/>
<polygon points="335,540 385,515 395,552.5 420,587.5 395,595 345,630" fill="#868686"/>
<polygon points="385,515 445,505 455,565 420,587.5 395,552.5" fill="#868686"/>
<polygon points="450,530 490,520 497.5,560 457.5,567.5" fill="#262626"/>
<polygon points="432.5,595 462.5,585 470,630 447.5,640" fill="#797979"/>
<polygon points="470,595 507.5,580 515,602.5 477.5,617.5" fill="#6c6c6c"/>
<polygon points="390,615 432.5,605 445,652.5 407.5,665" fill="#797979"/>
<polygon points="482.5,635 527.5,620 537.5,675 502.5,687.5" fill="#6c6c6c"/>
<polygon points="427.5,665 450,657.5 457.5,685 432.5,692.5" fill="#797979"/>
<polygon points="377.5,680 420,665 430,690 532.5,690 540,715 482.5,730 445,740 395,740 387.5,715" fill="#2d2d2d"/>
<polygon points="490,727.5 545,722.5 550,752.5 507.5,765" fill="#6c6c6c"/>
<polygon points="475,770 502.5,765 510,790 482.5,795" fill="#a3a3a3"/>
<polygon points="560,760 595,752.5 595,802.5 570,805" fill="#737373"/>
<polygon points="522.5,797.5 555,787.5 570,822.5 535,835" fill="#797979"/>
<polygon points="395,742.5 425,740 427.5,760 397.5,765" fill="#939393"/>
<polygon points="367.5,780 395,772.5 402.5,797.5 375,805" fill="#666666"/>
<polygon points="415,805 442.5,800 447.5,817.5 420,825" fill="#999999"/>
<polygon points="500,852.5 527.5,845 535,890 507.5,895" fill="#737373"/>
<polygon points="390,890 415,882.5 420,905 395,912.5" fill="#838383"/>
<polygon points="557.5,902.5 585,897.5 592.5,930 565,935" fill="#8c8c8c"/>
<polygon points="412.5,950 442.5,940 450,965 420,975" fill="#797979"/>
<polygon points="387.5,967.5 407.5,960 410,972.5 392.5,980" fill="#797979"/>
<polygon points="450,960 477.5,952.5 482.5,972.5 455,980" fill="#797979"/>
<polygon points="517.5,985 542.5,980 545,1005 520,1010" fill="#6c6c6c"/>
<polygon points="427.5,855 490,835 492.5,845 430,865" fill="#737373"/>
<polygon points="345,900 380,892.5 402.5,930 405,965 385,977.5 365,940" fill="#a6a6a6"/></g>
<g shape-rendering="crispEdges" filter="url(#fQlcc3)"><polygon points="167.5,42.5 187.5,35 197.5,60 177.5,72.5" fill="#1a1a1a"/>
<polygon points="182.5,0 220,0 200,20 187.5,17.5" fill="#1a1a1a"/>
<polygon points="25,140 45,122.5 67.5,145 50,162.5" fill="#1a1a1a"/>
<polygon points="137.5,230 180,228.8 197.5,260 160,285" fill="#101010"/>
<polygon points="355,255 382.5,255 387.5,277.5 362.5,285" fill="#101010"/>
<polygon points="165,297.5 240,257.5 245,270 170,312.5" fill="#101010"/>
<polygon points="97.5,390 120,375 155,370 190,425 160,450" fill="#101010"/>
<polygon points="195,400 220,362.5 257.5,322.5 252.5,382.5 217.5,420" fill="#101010"/>
<polygon points="160,420 200,400 250,425 282.5,440 295,470 250,475 195,450" fill="#101010"/>
<polygon points="235,392.5 250,387.5 265,412.5 282.5,400 382.5,507.5 350,537.5 272.5,447.5 225,447.5 212.5,432.5 245,420" fill="#060606"/>
<polygon points="342.5,447.5 400,430 400,490 370,475" fill="#101010"/>
<polygon points="150,475 180,495 197.5,530 175,525" fill="#1a1a1a"/>
<polygon points="217.5,532.5 250,525 260,560 225,567" fill="#101010"/>
<polygon points="0,295 27.5,300 32.5,332.5 0,345" fill="#1a1a1a"/>
<polygon points="385,62.5 420,57.5 452.5,82.5 435,105 400,95" fill="#0a0a0a"/>
<polygon points="402.5,200 445,170 492.5,207.5 435,250" fill="#1a1a1a"/>
<polygon points="355,260 375,252.5 387.5,270 367.5,282.5" fill="#101010"/>
<polygon points="427.5,287.5 470,270 515,297.5 540,282.5 577.5,325 557.5,342.5 520,330 507.5,337.5 495,375 470,390 445,410 407.5,370 445,342.5 440,307.5" fill="#0a0a0a"/>
<polygon points="362.5,357.5 387.5,352.5 435,425 407.5,430" fill="#0d0d0d"/>
<polygon points="195,412.5 265,400 325,450 390,425 440,450 415,487.5 370,525 320,475 220,445" fill="#0d0d0d"/>
<polygon points="345,447.5 407.5,425 445,440 420,462.5 415,487.5 390,500" fill="#101010"/>
<polygon points="140,575 175,535 200,540 232.5,580 195,595 192.5,620 160,647.5 125,595" fill="#060606"/>
<polygon points="217.5,535 250,527.5 260,555 225,565" fill="#0a0a0a"/>
<polygon points="270,662.5 300,650 305,665 275,677.5" fill="#0a0a0a"/>
<polygon points="302.5,710 330,697.5 340,720 310,735" fill="#060606"/>
<polygon points="57.5,675 80,662.5 95,685 77.5,707.5" fill="#0a0a0a"/>
<polygon points="100,690 112.5,682.5 130,710 117.5,717.5" fill="#0a0a0a"/>
<polygon points="157.5,682.5 195,675 207.5,690 187.5,705 170,700" fill="#0a0a0a"/>
<polygon points="120,720 135,712.5 160,765 145,772.5" fill="#0a0a0a"/>
<polygon points="197.5,772.5 215,745 240,737.5 272.5,812.5 245,840 225,815" fill="#060606"/>
<polygon points="260,762.5 310,745 325,777.5 362.5,775 367.5,807.5 287.5,812.5" fill="#0d0d0d"/>
<polygon points="370,807.5 400,802.5 400,865 380,860" fill="#0a0a0a"/>
<polygon points="0,1002.5 25,1010 30,1035 0,1040" fill="#060606"/>
<polygon points="322.5,960 362.5,950 375,970 337.5,987.5" fill="#0a0a0a"/>
<polygon points="255,942.5 295,932.5 312.5,972.5 280,982.5" fill="#0a0a0a"/>
<polygon points="182.5,1032.5 225,1022.5 250,1057 182.5,1057" fill="#0a0a0a"/>
<polygon points="160,940 190,935 207.5,965 190,972.5" fill="#101010"/>
<polygon points="265,825 277.5,820 325,895 307.5,905" fill="#0a0a0a"/>
<polygon points="225,845 235,840 260,890 250,895" fill="#0d0d0d"/>
<polygon points="495,547.5 527.5,537.5 570,630 527.5,650 510,602.5" fill="#0a0a0a"/>
<polygon points="527.5,615 565,605 572.5,640 537.5,650" fill="#101010"/>
<polygon points="450,650 480,640 487.5,682.5 455,690" fill="#0a0a0a"/>
<polygon points="362.5,645 392.5,637.5 420,685 390,690" fill="#0d0d0d"/>
<polygon points="537.5,680 575,672.5 585,700 545,710" fill="#0a0a0a"/>
<polygon points="370,805 410,765 445,772.5 477.5,777.5 487.5,835 445,850 385,865" fill="#0a0a0a"/>
<polygon points="532.5,852.5 595,840 595,902.5 545,902.5" fill="#0d0d0d"/>
<polygon points="470,900 500,890 510,965 482.5,972.5" fill="#0a0a0a"/>
<polygon points="512.5,940 532.5,935 540,977.5 520,980" fill="#0a0a0a"/>
<polygon points="545,940 595,927.5 595,990 557.5,990" fill="#131313"/>
<polygon points="427.5,880 457.5,870 465,900 435,910" fill="#0a0a0a"/>
<polygon points="517.5,1007.5 545,1000 550,1027.5 522.5,1035" fill="#0a0a0a"/>
<polygon points="552.5,1010 595,1002.5 595,1047.5 557.5,1047.5" fill="#0d0d0d"/>
<polygon points="50,312.5 65,307.5 112.5,370 100,380" fill="#101010"/>
<polygon points="296.8,549.5 348.4,544.8 353.1,577.7 306.2,582.4" fill="#0a0a0a"/>
<polygon points="140,615 175,600 195,620 160,647.5" fill="#060606"/></g>
</svg>
<svg x="1071.3" y="105.3" width="595" height="1056" viewBox="0 0 595 1056" preserveAspectRatio="none" overflow="hidden">
<g shape-rendering="crispEdges" filter="url(#fNlcc20)"><rect width="600" height="1065" fill="#898989"/>
<polygon points="0,0 162.5,0 140,35 110,65 75,97.5 50,117.5 0,125" fill="#dfdfdf"/>
<polygon points="295,75 400,62.5 400,200 312.5,195 262.5,130" fill="#a6a6a6"/>
<polygon points="370,0 595,0 595,155 545,112.5 482.5,70 420,32.5" fill="#d9d9d9"/>
<polygon points="507.5,0 595,0 595,105 557.5,75" fill="#dcdcdc"/>
<polygon points="400,100 445,95 470,140 432.5,175 400,200" fill="#9f9f9f"/>
<polygon points="445,375 507.5,337.5 595,337.5 595,567 532.5,567 520,500 470,450" fill="#a6a6a6"/>
<polygon points="0,685 62.5,695 100,727.5 130,790 125,840 75,860 25,790 0,802.5" fill="#dfdfdf"/>
<polygon points="0,870 50,865 125,890 130,990 112.5,1057 0,1057" fill="#c9c9c9"/>
<polygon points="482.5,715 595,715 595,852.5 495,852.5" fill="#999999"/>
<polygon points="445,865 595,852.5 595,1057 445,1057" fill="#8c8c8c"/>
<polygon points="0,175 75,162.5 82.5,225 62.5,250 0,237.5" fill="#595959"/>
<polygon points="184,4.4 324.9,4.4 324.9,51.4 259.2,112.5 207.5,89" fill="#737373"/>
<polygon points="362.5,206.5 596.1,206.5 596.1,370.9 418.9,370.9" fill="#767676"/>
<polygon points="202.8,441.4 296.8,441.4 296.8,535.4 202.8,535.4" fill="#737373"/>
<polygon points="5.4,441.4 66.5,441.4 66.5,535.4 5.4,535.4" fill="#595959"/>
<polygon points="110,65 140,35 162.5,5 182.5,7.5 197.5,60 175,75 150,85" fill="#898989"/>
<polygon points="167.5,42.5 187.5,35 197.5,60 177.5,72.5" fill="#393939"/>
<polygon points="212.5,15 250,5 310,35 305,62.5 275,57.5 230,62.5" fill="#8f8f8f"/>
<polygon points="250,7.5 307.5,37.5 300,50 240,25" fill="#9f9f9f"/>
<polygon points="225,70 272.5,60 300,82.5 275,107.5 237.5,100" fill="#b9b9b9"/>
<polygon points="310,0 400,0 400,75 325,82.5 305,62.5" fill="#bfbfbf"/>
<polygon points="75,140 120,110 150,165 87.5,180" fill="#595959"/>
<polygon points="120,100 142.5,90 172.5,152.5 155,162.5" fill="#b9b9b9"/>
<polygon points="170,122.5 195,110 215,120 220,145 195,152.5 175,142.5" fill="#8f8f8f"/>
<polygon points="82.5,197.5 197.5,165 212.5,215 140,230 102.5,225" fill="#acacac"/>
<polygon points="210,172.5 257.5,160 265,197.5 217.5,212.5" fill="#c6c6c6"/>
<polygon points="137.5,230 180,228.8 197.5,260 160,285" fill="#737373"/>
<polygon points="185,230 250,212.5 257.5,235 215,250 197.5,257.5" fill="#bfbfbf"/>
<polygon points="72.5,260 100,247.5 110,275 92.5,285" fill="#999999"/>
<polygon points="115,237.5 132.5,232.5 165,310 147.5,322.5" fill="#8f8f8f"/>
<polygon points="15,255 35,250 50,270 30,280" fill="#afafaf"/>
<polygon points="72.5,310 112.5,297.5 127.5,332.5 87.5,350" fill="#bfbfbf"/>
<polygon points="210,287.5 240,270 252.5,300 220,317.5" fill="#bfbfbf"/>
<polygon points="245,257.5 275,240 277.5,275 260,295" fill="#bfbfbf"/>
<polygon points="282.5,247.5 307.5,240 327.5,270 310,297.5 287.5,282.5" fill="#bfbfbf"/>
<polygon points="265,295 312.5,285 317.5,322.5 285,355 260,325" fill="#b9b9b9"/>
<polygon points="312.5,285 350,282.5 375,325 322.5,322.5" fill="#8f8f8f"/>
<polygon points="165,297.5 240,257.5 245,270 170,312.5" fill="#808080"/>
<polygon points="350,212.5 400,207.5 400,262.5 362.5,245" fill="#797979"/>
<polygon points="102.5,350 130,337.5 142.5,362.5 117.5,375" fill="#c6c6c6"/>
<polygon points="150,327.5 160,325 170,355 160,360" fill="#9f9f9f"/>
<polygon points="165,352.5 217.5,327.5 220,360 210,375 180,375" fill="#c6c6c6"/>
<polygon points="175,375 210,375 207.5,392.5 187.5,400" fill="#9f9f9f"/>
<polygon points="97.5,390 120,375 155,370 190,425 160,450" fill="#505050"/>
<polygon points="195,400 220,362.5 257.5,322.5 252.5,382.5 217.5,420" fill="#505050"/>
<polygon points="280,365 322.5,322.5 375,345 332.5,380 287.5,385" fill="#bfbfbf"/>
<polygon points="307.5,400 355,395 400,410 400,430 350,437.5 312.5,422.5" fill="#bfbfbf"/>
<polygon points="342.5,447.5 400,430 400,490 370,475" fill="#707070"/>
<polygon points="40,362.5 55,360 82.5,395 70,400" fill="#9f9f9f"/>
<polygon points="55,425 82.5,422.5 137.5,475 125,512.5 82.5,487.5" fill="#afafaf"/>
<polygon points="120,505 150,487.5 172.5,532.5 160,557.5 140,550" fill="#afafaf"/>
<polygon points="150,475 180,495 197.5,530 175,525" fill="#606060"/>
<polygon points="207.5,500 237.5,480 252.5,510 220,527.5" fill="#808080"/>
<polygon points="217.5,532.5 250,525 260,560 225,567" fill="#505050"/>
<polygon points="340,537.5 400,507.5 400,567 350,567" fill="#c6c6c6"/>
<polygon points="0,295 27.5,300 32.5,332.5 0,345" fill="#606060"/>
<polygon points="307.5,0 370,0 420,32.5 357.5,15" fill="#c6c6c6"/>
<polygon points="420,32.5 482.5,70 545,112.5 595,155 595,200 545,160 507.5,135 445,95 407.5,62.5" fill="#9f9f9f"/>
<polygon points="445,250 520,237.5 582.5,325 520,387.5 445,375 407.5,325" fill="#737373"/>
<polygon points="402.5,200 445,170 492.5,207.5 435,250" fill="#6c6c6c"/>
<polygon points="450,192.5 475,186.2 480,200 456.2,213.8" fill="#8f8f8f"/>
<polygon points="482.5,175 527.5,160 550,212.5 515,230" fill="#afafaf"/>
<polygon points="357.5,225 402.5,205 435,250 440,275 390,287.5" fill="#606060"/>
<polygon points="490,265 545,225 595,250 595,312.5 532.5,287.5 515,295" fill="#808080"/>
<polygon points="427.5,287.5 470,270 515,297.5 540,282.5 577.5,325 557.5,342.5 520,330 507.5,337.5 495,375 470,390 445,410 407.5,370 445,342.5 440,307.5" fill="#6c6c6c"/>
<polygon points="420,362.5 452.5,342.5 465,360 427.5,385" fill="#393939"/>
<polygon points="362.5,357.5 387.5,352.5 435,425 407.5,430" fill="#868686"/>
<polygon points="305,395 350,385 357.5,440 330,450" fill="#8f8f8f"/>
<polygon points="347.5,410 380,392.5 400,417.5 357.5,440" fill="#bfbfbf"/>
<polygon points="345,447.5 407.5,425 445,440 420,462.5 415,487.5 390,500" fill="#808080"/>
<polygon points="480,495 515,475 530,532.5 497.5,552.5" fill="#b9b9b9"/>
<polygon points="337.5,540 432.5,502.5 450,567 345,567" fill="#bfbfbf"/>
<polygon points="415,470 442.5,460 452.5,482.5 425,497.5" fill="#595959"/>
<polygon points="450,525 490,512.5 502.5,567 457.5,567" fill="#696969"/>
<polygon points="120,815 200,802.5 262.5,890 250,952.5 205,965 162.5,927.5 125,865" fill="#939393"/>
<polygon points="250,690 287.5,685 312.5,740 362.5,715 390,765 350,777.5 300,752.5 262.5,740" fill="#afafaf"/>
<polygon points="275,815 362.5,810 400,890 375,915 325,902.5 287.5,852.5" fill="#868686"/>
<polygon points="237.5,965 325,940 350,1057 250,1057" fill="#9f9f9f"/>
<polygon points="20,515 62.5,502.5 100,552.5 120,577.5 195,602.5 175,640 140,625 120,610 75,615" fill="#606060"/>
<polygon points="125,702.5 175,680 212.5,690 195,740 250,752.5 275,815 312.5,865 332.5,910 312.5,915 250,840 200,765 150,740" fill="#6c6c6c"/>
<polygon points="175,630 215,615 250,620 255,665 200,675" fill="#9f9f9f"/>
<polygon points="325,915 400,890 400,1057 350,1057" fill="#b9b9b9"/>
<polygon points="97.5,517.5 117.5,512.5 140,575 125,595 110,597.5" fill="#404040"/>
<polygon points="217.5,535 250,527.5 260,555 225,565" fill="#393939"/>
<polygon points="225,565 262.5,557.5 265,570 237.5,580" fill="#bfbfbf"/>
<polygon points="337.5,540 400,515 400,590 362.5,577.5" fill="#d2d2d2"/>
<polygon points="312.5,582.5 350,572.5 355,592.5 320,602.5" fill="#9f9f9f"/>
<polygon points="215,625 235,620 245,645 225,652.5" fill="#afafaf"/>
<polygon points="270,662.5 300,650 305,665 275,677.5" fill="#464646"/>
<polygon points="285,680 312.5,670 325,697.5 297.5,705" fill="#dfdfdf"/>
<polygon points="302.5,710 330,697.5 340,720 310,735" fill="#8f8f8f"/>
<polygon points="325,760 350,740 360,765 337.5,780" fill="#a6a6a6"/>
<polygon points="197.5,772.5 215,745 240,737.5 272.5,812.5 245,840 225,815" fill="#737373"/>
<polygon points="260,762.5 310,745 325,777.5 362.5,775 367.5,807.5 287.5,812.5" fill="#808080"/>
<polygon points="370,807.5 400,802.5 400,865 380,860" fill="#1a1a1a"/>
<polygon points="0,802.5 25,810 50,852.5 12.5,860 0,852.5" fill="#8f8f8f"/>
<polygon points="47.5,865 82.5,852.5 100,870 65,890" fill="#bfbfbf"/>
<polygon points="70,910 100,887.5 117.5,900 130,965 107.5,977.5 85,940" fill="#c6c6c6"/>
<polygon points="12.5,977.5 40,965 52.5,990 25,1005" fill="#e6e6e6"/>
<polygon points="10,1035 32.5,1025 42.5,1057 10,1057" fill="#bfbfbf"/>
<polygon points="50,952.5 80,940 100,990 70,1002.5" fill="#9f9f9f"/>
<polygon points="0,1002.5 25,1010 30,1035 0,1040" fill="#707070"/>
<polygon points="200,927.5 225,917.5 237.5,945 212.5,957.5" fill="#afafaf"/>
<polygon points="307.5,865 370,847.5 380,885 325,900" fill="#bfbfbf"/>
<polygon points="342.5,910 380,895 400,927.5 400,960 375,965" fill="#dfdfdf"/>
<polygon points="345,997.5 382.5,980 395,1015 360,1032.5" fill="#b2b2b2"/>
<polygon points="322.5,960 362.5,950 375,970 337.5,987.5" fill="#808080"/>
<polygon points="255,942.5 295,932.5 312.5,972.5 280,982.5" fill="#505050"/>
<polygon points="140,977.5 175,965 212.5,990 200,1057 140,1057" fill="#c6c6c6"/>
<polygon points="182.5,1032.5 225,1022.5 250,1057 182.5,1057" fill="#8f8f8f"/>
<polygon points="212.5,965 237.5,960 245,1015 217.5,1022.5" fill="#8f8f8f"/>
<polygon points="265,825 277.5,820 325,895 307.5,905" fill="#606060"/>
<polygon points="540,565 595,565 595,615 550,602.5" fill="#939393"/>
<polygon points="395,990 445,985 445,1057 395,1057" fill="#939393"/>
<polygon points="335,540 385,515 395,552.5 420,587.5 395,595 345,630" fill="#9f9f9f"/>
<polygon points="385,515 445,505 455,565 420,587.5 395,552.5" fill="#c6c6c6"/>
<polygon points="450,530 490,520 497.5,560 457.5,567.5" fill="#606060"/>
<polygon points="495,547.5 527.5,537.5 570,630 527.5,650 510,602.5" fill="#939393"/>
<polygon points="432.5,595 462.5,585 470,630 447.5,640" fill="#b9b9b9"/>
<polygon points="470,595 507.5,580 515,602.5 477.5,617.5" fill="#b9b9b9"/>
<polygon points="390,615 432.5,605 445,652.5 407.5,665" fill="#b9b9b9"/>
<polygon points="482.5,635 527.5,620 537.5,675 502.5,687.5" fill="#b6b6b6"/>
<polygon points="427.5,665 450,657.5 457.5,685 432.5,692.5" fill="#9f9f9f"/>
<polygon points="527.5,615 565,605 572.5,640 537.5,650" fill="#595959"/>
<polygon points="450,650 480,640 487.5,682.5 455,690" fill="#535353"/>
<polygon points="377.5,680 420,665 430,690 532.5,690 540,715 482.5,730 445,740 395,740 387.5,715" fill="#868686"/>
<polygon points="490,727.5 545,722.5 550,752.5 507.5,765" fill="#939393"/>
<polygon points="560,760 595,752.5 595,802.5 570,805" fill="#b9b9b9"/>
<polygon points="522.5,797.5 555,787.5 570,822.5 535,835" fill="#b9b9b9"/>
<polygon points="395,742.5 425,740 427.5,760 397.5,765" fill="#d9d9d9"/>
<polygon points="370,805 410,765 445,772.5 477.5,777.5 487.5,835 445,850 385,865" fill="#939393"/>
<polygon points="367.5,780 395,772.5 402.5,797.5 375,805" fill="#939393"/>
<polygon points="415,805 442.5,800 447.5,817.5 420,825" fill="#d9d9d9"/>
<polygon points="375,807.5 405,805 410,835 380,840" fill="#202020"/>
<polygon points="500,852.5 527.5,845 535,890 507.5,895" fill="#939393"/>
<polygon points="532.5,852.5 595,840 595,902.5 545,902.5" fill="#939393"/>
<polygon points="470,900 500,890 510,965 482.5,972.5" fill="#606060"/>
<polygon points="512.5,940 532.5,935 540,977.5 520,980" fill="#464646"/>
<polygon points="545,940 595,927.5 595,990 557.5,990" fill="#505050"/>
<polygon points="427.5,880 457.5,870 465,900 435,910" fill="#939393"/>
<polygon points="390,890 415,882.5 420,905 395,912.5" fill="#afafaf"/>
<polygon points="557.5,902.5 585,897.5 592.5,930 565,935" fill="#9f9f9f"/>
<polygon points="412.5,950 442.5,940 450,965 420,975" fill="#b9b9b9"/>
<polygon points="387.5,967.5 407.5,960 410,972.5 392.5,980" fill="#afafaf"/>
<polygon points="450,960 477.5,952.5 482.5,972.5 455,980" fill="#9f9f9f"/>
<polygon points="517.5,985 542.5,980 545,1005 520,1010" fill="#939393"/>
<polygon points="427.5,855 490,835 492.5,845 430,865" fill="#cccccc"/>
<polygon points="517.5,1007.5 545,1000 550,1027.5 522.5,1035" fill="#505050"/>
<polygon points="552.5,1010 595,1002.5 595,1047.5 557.5,1047.5" fill="#808080"/>
<polygon points="345,900 380,892.5 402.5,930 405,965 385,977.5 365,940" fill="#dfdfdf"/></g>
<g shape-rendering="crispEdges" filter="url(#fQlcc20)"><polygon points="0,35 22.5,37.5 27.5,57.5 15,67.5 0,65" fill="#101010"/>
<polygon points="235,392.5 250,387.5 265,412.5 282.5,400 382.5,507.5 350,537.5 272.5,447.5 225,447.5 212.5,432.5 245,420" fill="#060606"/>
<polygon points="345,630 380,615 390,632.5 355,645" fill="#f2f2f2"/>
<polygon points="325,680 370,665 380,697.5 337.5,707.5" fill="#f2f2f2"/>
<polygon points="475,770 502.5,765 510,790 482.5,795" fill="#efefef"/></g>
</svg>
<svg x="432.8" y="1204.6" width="595.2" height="1056.6" viewBox="0 0 595.2 1056.6" preserveAspectRatio="none" overflow="hidden">
<g shape-rendering="crispEdges" filter="url(#fNlai3)"><rect width="600" height="1065" fill="#595959"/>
<polygon points="0,0 162.5,0 140,35 110,65 75,97.5 50,117.5 0,125" fill="#afafaf"/>
<polygon points="295,75 400,62.5 400,200 312.5,195 262.5,130" fill="#232323"/>
<polygon points="370,0 595,0 595,155 545,112.5 482.5,70 420,32.5" fill="#e6e6e6"/>
<polygon points="400,100 445,95 470,140 432.5,175 400,200" fill="#202020"/>
<polygon points="445,375 507.5,337.5 595,337.5 595,567 532.5,567 520,500 470,450" fill="#202020"/>
<polygon points="0,515 75,515 112.5,565 112.5,665 75,715 0,685" fill="#404040"/>
<polygon points="0,685 62.5,695 100,727.5 130,790 125,840 75,860 25,790 0,802.5" fill="#afafaf"/>
<polygon points="0,870 50,865 125,890 130,990 112.5,1057 0,1057" fill="#bcbcbc"/>
<polygon points="482.5,715 595,715 595,852.5 495,852.5" fill="#8f8f8f"/>
<polygon points="445,865 595,852.5 595,1057 445,1057" fill="#393939"/>
<polygon points="0,175 75,162.5 82.5,225 62.5,250 0,237.5" fill="#595959"/>
<polygon points="-4,370.9 90,361.5 113.5,464.9 90,511.9 -4,511.9" fill="#4c4c4c"/>
<polygon points="120,0 160,0 140,27.5 125,22.5" fill="#e6e6e6"/>
<polygon points="110,65 140,35 162.5,5 182.5,7.5 197.5,60 175,75 150,85" fill="#595959"/>
<polygon points="212.5,15 250,5 310,35 305,62.5 275,57.5 230,62.5" fill="#767676"/>
<polygon points="250,7.5 307.5,37.5 300,50 240,25" fill="#868686"/>
<polygon points="225,70 272.5,60 300,82.5 275,107.5 237.5,100" fill="#707070"/>
<polygon points="310,0 400,0 400,75 325,82.5 305,62.5" fill="#767676"/>
<polygon points="75,140 120,110 150,165 87.5,180" fill="#767676"/>
<polygon points="170,122.5 195,110 215,120 220,145 195,152.5 175,142.5" fill="#a6a6a6"/>
<polygon points="82.5,197.5 197.5,165 212.5,215 140,230 102.5,225" fill="#8f8f8f"/>
<polygon points="210,172.5 257.5,160 265,197.5 217.5,212.5" fill="#a6a6a6"/>
<polygon points="185,230 250,212.5 257.5,235 215,250 197.5,257.5" fill="#c6c6c6"/>
<polygon points="72.5,260 100,247.5 110,275 92.5,285" fill="#efefef"/>
<polygon points="115,237.5 132.5,232.5 165,310 147.5,322.5" fill="#e6e6e6"/>
<polygon points="15,255 35,250 50,270 30,280" fill="#bcbcbc"/>
<polygon points="72.5,310 112.5,297.5 127.5,332.5 87.5,350" fill="#a6a6a6"/>
<polygon points="210,287.5 240,270 252.5,300 220,317.5" fill="#e6e6e6"/>
<polygon points="245,257.5 275,240 277.5,275 260,295" fill="#bcbcbc"/>
<polygon points="282.5,247.5 307.5,240 327.5,270 310,297.5 287.5,282.5" fill="#afafaf"/>
<polygon points="265,295 312.5,285 317.5,322.5 285,355 260,325" fill="#7c7c7c"/>
<polygon points="312.5,285 350,282.5 375,325 322.5,322.5" fill="#767676"/>
<polygon points="350,212.5 400,207.5 400,262.5 362.5,245" fill="#707070"/>
<polygon points="102.5,350 130,337.5 142.5,362.5 117.5,375" fill="#efefef"/>
<polygon points="150,327.5 160,325 170,355 160,360" fill="#efefef"/>
<polygon points="165,352.5 217.5,327.5 220,360 210,375 180,375" fill="#c6c6c6"/>
<polygon points="175,375 210,375 207.5,392.5 187.5,400" fill="#7c7c7c"/>
<polygon points="280,365 322.5,322.5 375,345 332.5,380 287.5,385" fill="#a6a6a6"/>
<polygon points="307.5,400 355,395 400,410 400,430 350,437.5 312.5,422.5" fill="#bcbcbc"/>
<polygon points="40,362.5 55,360 82.5,395 70,400" fill="#969696"/>
<polygon points="55,425 82.5,422.5 137.5,475 125,512.5 82.5,487.5" fill="#868686"/>
<polygon points="120,505 150,487.5 172.5,532.5 160,557.5 140,550" fill="#bcbcbc"/>
<polygon points="207.5,500 237.5,480 252.5,510 220,527.5" fill="#767676"/>
<polygon points="340,537.5 400,507.5 400,567 350,567" fill="#c6c6c6"/>
<polygon points="307.5,0 370,0 420,32.5 357.5,15" fill="#b6b6b6"/>
<polygon points="420,32.5 482.5,70 545,112.5 595,155 595,200 545,160 507.5,135 445,95 407.5,62.5" fill="#696969"/>
<polygon points="355,5 390,5 445,62.5 420,100 382.5,75 345,50" fill="#404040"/>
<polygon points="450,192.5 475,186.2 480,200 456.2,213.8" fill="#efefef"/>
<polygon points="482.5,175 527.5,160 550,212.5 515,230" fill="#868686"/>
<polygon points="357.5,225 402.5,205 435,250 440,275 390,287.5" fill="#666666"/>
<polygon points="490,265 545,225 595,250 595,312.5 532.5,287.5 515,295" fill="#868686"/>
<polygon points="305,395 350,385 357.5,440 330,450" fill="#969696"/>
<polygon points="347.5,410 380,392.5 400,417.5 357.5,440" fill="#cfcfcf"/>
<polygon points="480,495 515,475 530,532.5 497.5,552.5" fill="#e6e6e6"/>
<polygon points="337.5,540 432.5,502.5 450,567 345,567" fill="#efefef"/>
<polygon points="415,470 442.5,460 452.5,482.5 425,497.5" fill="#606060"/>
<polygon points="450,525 490,512.5 502.5,567 457.5,567" fill="#767676"/>
<polygon points="120,815 200,802.5 262.5,890 250,952.5 205,965 162.5,927.5 125,865" fill="#2d2d2d"/>
<polygon points="250,690 287.5,685 312.5,740 362.5,715 390,765 350,777.5 300,752.5 262.5,740" fill="#8f8f8f"/>
<polygon points="275,815 362.5,810 400,890 375,915 325,902.5 287.5,852.5" fill="#737373"/>
<polygon points="237.5,965 325,940 350,1057 250,1057" fill="#b6b6b6"/>
<polygon points="175,630 215,615 250,620 255,665 200,675" fill="#a6a6a6"/>
<polygon points="325,915 400,890 400,1057 350,1057" fill="#a6a6a6"/>
<polygon points="140,575 175,535 200,540 232.5,580 195,595 192.5,620 160,647.5 125,595" fill="#262626"/>
<polygon points="225,565 262.5,557.5 265,570 237.5,580" fill="#efefef"/>
<polygon points="337.5,540 400,515 400,590 362.5,577.5" fill="#c6c6c6"/>
<polygon points="312.5,582.5 350,572.5 355,592.5 320,602.5" fill="#868686"/>
<polygon points="345,630 380,615 390,632.5 355,645" fill="#e6e6e6"/>
<polygon points="215,625 235,620 245,645 225,652.5" fill="#c6c6c6"/>
<polygon points="285,680 312.5,670 325,697.5 297.5,705" fill="#e6e6e6"/>
<polygon points="325,680 370,665 380,697.5 337.5,707.5" fill="#e6e6e6"/>
<polygon points="325,760 350,740 360,765 337.5,780" fill="#efefef"/>
<polygon points="0,802.5 25,810 50,852.5 12.5,860 0,852.5" fill="#303030"/>
<polygon points="50,952.5 80,940 100,990 70,1002.5" fill="#707070"/>
<polygon points="307.5,865 370,847.5 380,885 325,900" fill="#767676"/>
<polygon points="342.5,910 380,895 400,927.5 400,960 375,965" fill="#bcbcbc"/>
<polygon points="255,942.5 295,932.5 312.5,972.5 280,982.5" fill="#404040"/>
<polygon points="140,977.5 175,965 212.5,990 200,1057 140,1057" fill="#b6b6b6"/>
<polygon points="212.5,965 237.5,960 245,1015 217.5,1022.5" fill="#606060"/>
<polygon points="540,565 595,565 595,615 550,602.5" fill="#1a1a1a"/>
<polygon points="395,990 445,985 445,1057 395,1057" fill="#303030"/>
<polygon points="335,540 385,515 395,552.5 420,587.5 395,595 345,630" fill="#707070"/>
<polygon points="385,515 445,505 455,565 420,587.5 395,552.5" fill="#efefef"/>
<polygon points="450,530 490,520 497.5,560 457.5,567.5" fill="#303030"/>
<polygon points="432.5,595 462.5,585 470,630 447.5,640" fill="#cfcfcf"/>
<polygon points="390,615 432.5,605 445,652.5 407.5,665" fill="#c6c6c6"/>
<polygon points="427.5,665 450,657.5 457.5,685 432.5,692.5" fill="#c6c6c6"/>
<polygon points="527.5,615 565,605 572.5,640 537.5,650" fill="#666666"/>
<polygon points="450,650 480,640 487.5,682.5 455,690" fill="#505050"/>
<polygon points="490,727.5 545,722.5 550,752.5 507.5,765" fill="#868686"/>
<polygon points="475,770 502.5,765 510,790 482.5,795" fill="#bcbcbc"/>
<polygon points="560,760 595,752.5 595,802.5 570,805" fill="#e6e6e6"/>
<polygon points="522.5,797.5 555,787.5 570,822.5 535,835" fill="#d6d6d6"/>
<polygon points="395,742.5 425,740 427.5,760 397.5,765" fill="#969696"/>
<polygon points="367.5,780 395,772.5 402.5,797.5 375,805" fill="#969696"/>
<polygon points="415,805 442.5,800 447.5,817.5 420,825" fill="#8f8f8f"/>
<polygon points="500,852.5 527.5,845 535,890 507.5,895" fill="#868686"/>
<polygon points="390,890 415,882.5 420,905 395,912.5" fill="#bcbcbc"/>
<polygon points="557.5,902.5 585,897.5 592.5,930 565,935" fill="#bcbcbc"/>
<polygon points="387.5,967.5 407.5,960 410,972.5 392.5,980" fill="#efefef"/>
<polygon points="450,960 477.5,952.5 482.5,972.5 455,980" fill="#bcbcbc"/>
<polygon points="517.5,985 542.5,980 545,1005 520,1010" fill="#bcbcbc"/>
<polygon points="427.5,855 490,835 492.5,845 430,865" fill="#d6d6d6"/>
<polygon points="552.5,1010 595,1002.5 595,1047.5 557.5,1047.5" fill="#1a1a1a"/>
<polygon points="345,900 380,892.5 402.5,930 405,965 385,977.5 365,940" fill="#bcbcbc"/></g>
<g shape-rendering="crispEdges" filter="url(#fQlai3)"><polygon points="507.5,0 595,0 595,105 557.5,75" fill="#fcfcfc"/>
<polygon points="0,35 22.5,37.5 27.5,57.5 15,67.5 0,65" fill="#000000"/>
<polygon points="167.5,42.5 187.5,35 197.5,60 177.5,72.5" fill="#000000"/>
<polygon points="182.5,0 220,0 200,20 187.5,17.5" fill="#060606"/>
<polygon points="25,140 45,122.5 67.5,145 50,162.5" fill="#000000"/>
<polygon points="120,100 142.5,90 172.5,152.5 155,162.5" fill="#ffffff"/>
<polygon points="137.5,230 180,228.8 197.5,260 160,285" fill="#030303"/>
<polygon points="355,255 382.5,255 387.5,277.5 362.5,285" fill="#060606"/>
<polygon points="165,297.5 240,257.5 245,270 170,312.5" fill="#060606"/>
<polygon points="97.5,390 120,375 155,370 190,425 160,450" fill="#030303"/>
<polygon points="195,400 220,362.5 257.5,322.5 252.5,382.5 217.5,420" fill="#030303"/>
<polygon points="160,420 200,400 250,425 282.5,440 295,470 250,475 195,450" fill="#030303"/>
<polygon points="235,392.5 250,387.5 265,412.5 282.5,400 382.5,507.5 350,537.5 272.5,447.5 225,447.5 212.5,432.5 245,420" fill="#030303"/>
<polygon points="342.5,447.5 400,430 400,490 370,475" fill="#030303"/>
<polygon points="150,475 180,495 197.5,530 175,525" fill="#060606"/>
<polygon points="217.5,532.5 250,525 260,560 225,567" fill="#060606"/>
<polygon points="0,295 27.5,300 32.5,332.5 0,345" fill="#0a0a0a"/>
<polygon points="385,62.5 420,57.5 452.5,82.5 435,105 400,95" fill="#060606"/>
<polygon points="402.5,200 445,170 492.5,207.5 435,250" fill="#030303"/>
<polygon points="355,260 375,252.5 387.5,270 367.5,282.5" fill="#030303"/>
<polygon points="427.5,287.5 470,270 515,297.5 540,282.5 577.5,325 557.5,342.5 520,330 507.5,337.5 495,375 470,390 445,410 407.5,370 445,342.5 440,307.5" fill="#0a0a0a"/>
<polygon points="362.5,357.5 387.5,352.5 435,425 407.5,430" fill="#060606"/>
<polygon points="195,412.5 265,400 325,450 390,425 440,450 415,487.5 370,525 320,475 220,445" fill="#030303"/>
<polygon points="345,447.5 407.5,425 445,440 420,462.5 415,487.5 390,500" fill="#030303"/>
<polygon points="545,197.5 580,187.5 585,205 562.5,215" fill="#f9f9f9"/>
<polygon points="97.5,517.5 117.5,512.5 140,575 125,595 110,597.5" fill="#0a0a0a"/>
<polygon points="217.5,535 250,527.5 260,555 225,565" fill="#060606"/>
<polygon points="270,662.5 300,650 305,665 275,677.5" fill="#060606"/>
<polygon points="302.5,710 330,697.5 340,720 310,735" fill="#060606"/>
<polygon points="57.5,675 80,662.5 95,685 77.5,707.5" fill="#060606"/>
<polygon points="100,690 112.5,682.5 130,710 117.5,717.5" fill="#101010"/>
<polygon points="157.5,682.5 195,675 207.5,690 187.5,705 170,700" fill="#0a0a0a"/>
<polygon points="120,720 135,712.5 160,765 145,772.5" fill="#101010"/>
<polygon points="145,772.5 165,770 175,797.5 160,805" fill="#ffffff"/>
<polygon points="197.5,772.5 215,745 240,737.5 272.5,812.5 245,840 225,815" fill="#060606"/>
<polygon points="260,762.5 310,745 325,777.5 362.5,775 367.5,807.5 287.5,812.5" fill="#060606"/>
<polygon points="370,807.5 400,802.5 400,865 380,860" fill="#0a0a0a"/>
<polygon points="47.5,865 82.5,852.5 100,870 65,890" fill="#ffffff"/>
<polygon points="70,910 100,887.5 117.5,900 130,965 107.5,977.5 85,940" fill="#ffffff"/>
<polygon points="12.5,977.5 40,965 52.5,990 25,1005" fill="#f9f9f9"/>
<polygon points="10,1035 32.5,1025 42.5,1057 10,1057" fill="#f9f9f9"/>
<polygon points="0,1002.5 25,1010 30,1035 0,1040" fill="#060606"/>
<polygon points="200,927.5 225,917.5 237.5,945 212.5,957.5" fill="#ffffff"/>
<polygon points="345,997.5 382.5,980 395,1015 360,1032.5" fill="#fcfcfc"/>
<polygon points="322.5,960 362.5,950 375,970 337.5,987.5" fill="#060606"/>
<polygon points="237.5,920 262.5,915 275,940 250,947.5" fill="#101010"/>
<polygon points="182.5,1032.5 225,1022.5 250,1057 182.5,1057" fill="#060606"/>
<polygon points="160,940 190,935 207.5,965 190,972.5" fill="#0a0a0a"/>
<polygon points="495,547.5 527.5,537.5 570,630 527.5,650 510,602.5" fill="#0d0d0d"/>
<polygon points="470,595 507.5,580 515,602.5 477.5,617.5" fill="#f9f9f9"/>
<polygon points="482.5,635 527.5,620 537.5,675 502.5,687.5" fill="#ffffff"/>
<polygon points="362.5,645 392.5,637.5 420,685 390,690" fill="#0d0d0d"/>
<polygon points="537.5,680 575,672.5 585,700 545,710" fill="#101010"/>
<polygon points="377.5,680 420,665 430,690 532.5,690 540,715 482.5,730 445,740 395,740 387.5,715" fill="#0d0d0d"/>
<polygon points="370,805 410,765 445,772.5 477.5,777.5 487.5,835 445,850 385,865" fill="#060606"/>
<polygon points="532.5,852.5 595,840 595,902.5 545,902.5" fill="#0d0d0d"/>
<polygon points="470,900 500,890 510,965 482.5,972.5" fill="#0a0a0a"/>
<polygon points="512.5,940 532.5,935 540,977.5 520,980" fill="#0a0a0a"/>
<polygon points="545,940 595,927.5 595,990 557.5,990" fill="#101010"/>
<polygon points="427.5,880 457.5,870 465,900 435,910" fill="#0a0a0a"/>
<polygon points="412.5,950 442.5,940 450,965 420,975" fill="#f9f9f9"/>
<polygon points="517.5,1007.5 545,1000 550,1027.5 522.5,1035" fill="#101010"/>
<polygon points="50,312.5 65,307.5 112.5,370 100,380" fill="#0d0d0d"/>
<polygon points="296.8,549.5 348.4,544.8 353.1,577.7 306.2,582.4" fill="#0a0a0a"/>
<polygon points="140,615 175,600 195,620 160,647.5" fill="#060606"/></g>
</svg>
<svg x="1071.3" y="1204.6" width="595" height="1056.6" viewBox="0 0 595 1056.6" preserveAspectRatio="none" overflow="hidden">
<g shape-rendering="crispEdges" filter="url(#fNlai20)"><rect width="600" height="1065" fill="#404040"/>
<polygon points="0,0 162.5,0 140,35 110,65 75,97.5 50,117.5 0,125" fill="#8f8f8f"/>
<polygon points="295,75 400,62.5 400,200 312.5,195 262.5,130" fill="#262626"/>
<polygon points="370,0 595,0 595,155 545,112.5 482.5,70 420,32.5" fill="#939393"/>
<polygon points="507.5,0 595,0 595,105 557.5,75" fill="#9f9f9f"/>
<polygon points="400,100 445,95 470,140 432.5,175 400,200" fill="#232323"/>
<polygon points="445,375 507.5,337.5 595,337.5 595,567 532.5,567 520,500 470,450" fill="#292929"/>
<polygon points="0,515 75,515 112.5,565 112.5,665 75,715 0,685" fill="#2d2d2d"/>
<polygon points="0,685 62.5,695 100,727.5 130,790 125,840 75,860 25,790 0,802.5" fill="#868686"/>
<polygon points="0,870 50,865 125,890 130,990 112.5,1057 0,1057" fill="#6c6c6c"/>
<polygon points="482.5,715 595,715 595,852.5 495,852.5" fill="#464646"/>
<polygon points="445,865 595,852.5 595,1057 445,1057" fill="#2d2d2d"/>
<polygon points="55,40 110,40 100,65 60,62.5" fill="#b2b2b2"/>
<polygon points="120,0 160,0 140,27.5 125,22.5" fill="#bfbfbf"/>
<polygon points="110,65 140,35 162.5,5 182.5,7.5 197.5,60 175,75 150,85" fill="#464646"/>
<polygon points="212.5,15 250,5 310,35 305,62.5 275,57.5 230,62.5" fill="#999999"/>
<polygon points="250,7.5 307.5,37.5 300,50 240,25" fill="#b2b2b2"/>
<polygon points="225,70 272.5,60 300,82.5 275,107.5 237.5,100" fill="#808080"/>
<polygon points="310,0 400,0 400,75 325,82.5 305,62.5" fill="#565656"/>
<polygon points="120,100 142.5,90 172.5,152.5 155,162.5" fill="#b9b9b9"/>
<polygon points="170,122.5 195,110 215,120 220,145 195,152.5 175,142.5" fill="#b2b2b2"/>
<polygon points="82.5,197.5 197.5,165 212.5,215 140,230 102.5,225" fill="#c2c2c2"/>
<polygon points="210,172.5 257.5,160 265,197.5 217.5,212.5" fill="#9f9f9f"/>
<polygon points="185,230 250,212.5 257.5,235 215,250 197.5,257.5" fill="#b2b2b2"/>
<polygon points="72.5,260 100,247.5 110,275 92.5,285" fill="#d9d9d9"/>
<polygon points="115,237.5 132.5,232.5 165,310 147.5,322.5" fill="#b2b2b2"/>
<polygon points="15,255 35,250 50,270 30,280" fill="#a6a6a6"/>
<polygon points="72.5,310 112.5,297.5 127.5,332.5 87.5,350" fill="#a6a6a6"/>
<polygon points="210,287.5 240,270 252.5,300 220,317.5" fill="#b2b2b2"/>
<polygon points="245,257.5 275,240 277.5,275 260,295" fill="#a6a6a6"/>
<polygon points="282.5,247.5 307.5,240 327.5,270 310,297.5 287.5,282.5" fill="#999999"/>
<polygon points="265,295 312.5,285 317.5,322.5 285,355 260,325" fill="#808080"/>
<polygon points="312.5,285 350,282.5 375,325 322.5,322.5" fill="#797979"/>
<polygon points="165,297.5 240,257.5 245,270 170,312.5" fill="#202020"/>
<polygon points="350,212.5 400,207.5 400,262.5 362.5,245" fill="#797979"/>
<polygon points="102.5,350 130,337.5 142.5,362.5 117.5,375" fill="#dfdfdf"/>
<polygon points="150,327.5 160,325 170,355 160,360" fill="#b9b9b9"/>
<polygon points="165,352.5 217.5,327.5 220,360 210,375 180,375" fill="#b9b9b9"/>
<polygon points="175,375 210,375 207.5,392.5 187.5,400" fill="#9f9f9f"/>
<polygon points="235,392.5 250,387.5 265,412.5 282.5,400 382.5,507.5 350,537.5 272.5,447.5 225,447.5 212.5,432.5 245,420" fill="#202020"/>
<polygon points="280,365 322.5,322.5 375,345 332.5,380 287.5,385" fill="#969696"/>
<polygon points="307.5,400 355,395 400,410 400,430 350,437.5 312.5,422.5" fill="#9f9f9f"/>
<polygon points="40,362.5 55,360 82.5,395 70,400" fill="#b2b2b2"/>
<polygon points="55,425 82.5,422.5 137.5,475 125,512.5 82.5,487.5" fill="#9f9f9f"/>
<polygon points="120,505 150,487.5 172.5,532.5 160,557.5 140,550" fill="#b2b2b2"/>
<polygon points="207.5,500 237.5,480 252.5,510 220,527.5" fill="#8f8f8f"/>
<polygon points="340,537.5 400,507.5 400,567 350,567" fill="#9f9f9f"/>
<polygon points="420,32.5 482.5,70 545,112.5 595,155 595,200 545,160 507.5,135 445,95 407.5,62.5" fill="#606060"/>
<polygon points="355,5 390,5 445,62.5 420,100 382.5,75 345,50" fill="#262626"/>
<polygon points="450,192.5 475,186.2 480,200 456.2,213.8" fill="#8f8f8f"/>
<polygon points="482.5,175 527.5,160 550,212.5 515,230" fill="#797979"/>
<polygon points="357.5,225 402.5,205 435,250 440,275 390,287.5" fill="#696969"/>
<polygon points="490,265 545,225 595,250 595,312.5 532.5,287.5 515,295" fill="#606060"/>
<polygon points="305,395 350,385 357.5,440 330,450" fill="#868686"/>
<polygon points="347.5,410 380,392.5 400,417.5 357.5,440" fill="#a6a6a6"/>
<polygon points="480,495 515,475 530,532.5 497.5,552.5" fill="#9f9f9f"/>
<polygon points="337.5,540 432.5,502.5 450,567 345,567" fill="#a6a6a6"/>
<polygon points="415,470 442.5,460 452.5,482.5 425,497.5" fill="#595959"/>
<polygon points="450,525 490,512.5 502.5,567 457.5,567" fill="#606060"/>
<polygon points="545,197.5 580,187.5 585,205 562.5,215" fill="#8f8f8f"/>
<polygon points="120,815 200,802.5 262.5,890 250,952.5 205,965 162.5,927.5 125,865" fill="#262626"/>
<polygon points="250,690 287.5,685 312.5,740 362.5,715 390,765 350,777.5 300,752.5 262.5,740" fill="#737373"/>
<polygon points="275,815 362.5,810 400,890 375,915 325,902.5 287.5,852.5" fill="#606060"/>
<polygon points="237.5,965 325,940 350,1057 250,1057" fill="#595959"/>
<polygon points="175,630 215,615 250,620 255,665 200,675" fill="#797979"/>
<polygon points="325,915 400,890 400,1057 350,1057" fill="#606060"/>
<polygon points="225,565 262.5,557.5 265,570 237.5,580" fill="#9f9f9f"/>
<polygon points="337.5,540 400,515 400,590 362.5,577.5" fill="#999999"/>
<polygon points="312.5,582.5 350,572.5 355,592.5 320,602.5" fill="#868686"/>
<polygon points="345,630 380,615 390,632.5 355,645" fill="#b9b9b9"/>
<polygon points="215,625 235,620 245,645 225,652.5" fill="#a6a6a6"/>
<polygon points="285,680 312.5,670 325,697.5 297.5,705" fill="#a6a6a6"/>
<polygon points="325,680 370,665 380,697.5 337.5,707.5" fill="#939393"/>
<polygon points="325,760 350,740 360,765 337.5,780" fill="#b2b2b2"/>
<polygon points="100,690 112.5,682.5 130,710 117.5,717.5" fill="#202020"/>
<polygon points="157.5,682.5 195,675 207.5,690 187.5,705 170,700" fill="#262626"/>
<polygon points="145,772.5 165,770 175,797.5 160,805" fill="#9f9f9f"/>
<polygon points="47.5,865 82.5,852.5 100,870 65,890" fill="#b9b9b9"/>
<polygon points="70,910 100,887.5 117.5,900 130,965 107.5,977.5 85,940" fill="#bfbfbf"/>
<polygon points="12.5,977.5 40,965 52.5,990 25,1005" fill="#a6a6a6"/>
<polygon points="10,1035 32.5,1025 42.5,1057 10,1057" fill="#bfbfbf"/>
<polygon points="50,952.5 80,940 100,990 70,1002.5" fill="#505050"/>
<polygon points="200,927.5 225,917.5 237.5,945 212.5,957.5" fill="#bfbfbf"/>
<polygon points="307.5,865 370,847.5 380,885 325,900" fill="#666666"/>
<polygon points="342.5,910 380,895 400,927.5 400,960 375,965" fill="#e6e6e6"/>
<polygon points="345,997.5 382.5,980 395,1015 360,1032.5" fill="#b9b9b9"/>
<polygon points="255,942.5 295,932.5 312.5,972.5 280,982.5" fill="#505050"/>
<polygon points="140,977.5 175,965 212.5,990 200,1057 140,1057" fill="#8f8f8f"/>
<polygon points="212.5,965 237.5,960 245,1015 217.5,1022.5" fill="#595959"/>
<polygon points="540,565 595,565 595,615 550,602.5" fill="#303030"/>
<polygon points="395,990 445,985 445,1057 395,1057" fill="#2d2d2d"/>
<polygon points="335,540 385,515 395,552.5 420,587.5 395,595 345,630" fill="#707070"/>
<polygon points="385,515 445,505 455,565 420,587.5 395,552.5" fill="#acacac"/>
<polygon points="450,530 490,520 497.5,560 457.5,567.5" fill="#404040"/>
<polygon points="495,547.5 527.5,537.5 570,630 527.5,650 510,602.5" fill="#202020"/>
<polygon points="432.5,595 462.5,585 470,630 447.5,640" fill="#afafaf"/>
<polygon points="470,595 507.5,580 515,602.5 477.5,617.5" fill="#afafaf"/>
<polygon points="390,615 432.5,605 445,652.5 407.5,665" fill="#999999"/>
<polygon points="482.5,635 527.5,620 537.5,675 502.5,687.5" fill="#afafaf"/>
<polygon points="427.5,665 450,657.5 457.5,685 432.5,692.5" fill="#999999"/>
<polygon points="527.5,615 565,605 572.5,640 537.5,650" fill="#464646"/>
<polygon points="450,650 480,640 487.5,682.5 455,690" fill="#464646"/>
<polygon points="537.5,680 575,672.5 585,700 545,710" fill="#202020"/>
<polygon points="490,727.5 545,722.5 550,752.5 507.5,765" fill="#535353"/>
<polygon points="475,770 502.5,765 510,790 482.5,795" fill="#999999"/>
<polygon points="560,760 595,752.5 595,802.5 570,805" fill="#a6a6a6"/>
<polygon points="522.5,797.5 555,787.5 570,822.5 535,835" fill="#afafaf"/>
<polygon points="395,742.5 425,740 427.5,760 397.5,765" fill="#606060"/>
<polygon points="367.5,780 395,772.5 402.5,797.5 375,805" fill="#606060"/>
<polygon points="415,805 442.5,800 447.5,817.5 420,825" fill="#606060"/>
<polygon points="500,852.5 527.5,845 535,890 507.5,895" fill="#808080"/>
<polygon points="427.5,880 457.5,870 465,900 435,910" fill="#202020"/>
<polygon points="390,890 415,882.5 420,905 395,912.5" fill="#9f9f9f"/>
<polygon points="557.5,902.5 585,897.5 592.5,930 565,935" fill="#8f8f8f"/>
<polygon points="412.5,950 442.5,940 450,965 420,975" fill="#b2b2b2"/>
<polygon points="387.5,967.5 407.5,960 410,972.5 392.5,980" fill="#d9d9d9"/>
<polygon points="450,960 477.5,952.5 482.5,972.5 455,980" fill="#8f8f8f"/>
<polygon points="517.5,985 542.5,980 545,1005 520,1010" fill="#808080"/>
<polygon points="427.5,855 490,835 492.5,845 430,865" fill="#404040"/>
<polygon points="517.5,1007.5 545,1000 550,1027.5 522.5,1035" fill="#262626"/>
<polygon points="552.5,1010 595,1002.5 595,1047.5 557.5,1047.5" fill="#262626"/>
<polygon points="345,900 380,892.5 402.5,930 405,965 385,977.5 365,940" fill="#e6e6e6"/>
<polygon points="50,312.5 65,307.5 112.5,370 100,380" fill="#202020"/>
<polygon points="296.8,549.5 348.4,544.8 353.1,577.7 306.2,582.4" fill="#202020"/></g>
<g shape-rendering="crispEdges" filter="url(#fQlai20)"><polygon points="0,35 22.5,37.5 27.5,57.5 15,67.5 0,65" fill="#101010"/>
<polygon points="167.5,42.5 187.5,35 197.5,60 177.5,72.5" fill="#0d0d0d"/>
<polygon points="182.5,0 220,0 200,20 187.5,17.5" fill="#131313"/>
<polygon points="25,140 45,122.5 67.5,145 50,162.5" fill="#131313"/>
<polygon points="137.5,230 180,228.8 197.5,260 160,285" fill="#0d0d0d"/>
<polygon points="355,255 382.5,255 387.5,277.5 362.5,285" fill="#131313"/>
<polygon points="97.5,390 120,375 155,370 190,425 160,450" fill="#0a0a0a"/>
<polygon points="195,400 220,362.5 257.5,322.5 252.5,382.5 217.5,420" fill="#0a0a0a"/>
<polygon points="160,420 200,400 250,425 282.5,440 295,470 250,475 195,450" fill="#1a1a1a"/>
<polygon points="342.5,447.5 400,430 400,490 370,475" fill="#131313"/>
<polygon points="150,475 180,495 197.5,530 175,525" fill="#131313"/>
<polygon points="217.5,532.5 250,525 260,560 225,567" fill="#0d0d0d"/>
<polygon points="0,295 27.5,300 32.5,332.5 0,345" fill="#1a1a1a"/>
<polygon points="385,62.5 420,57.5 452.5,82.5 435,105 400,95" fill="#1a1a1a"/>
<polygon points="402.5,200 445,170 492.5,207.5 435,250" fill="#101010"/>
<polygon points="355,260 375,252.5 387.5,270 367.5,282.5" fill="#101010"/>
<polygon points="427.5,287.5 470,270 515,297.5 540,282.5 577.5,325 557.5,342.5 520,330 507.5,337.5 495,375 470,390 445,410 407.5,370 445,342.5 440,307.5" fill="#131313"/>
<polygon points="362.5,357.5 387.5,352.5 435,425 407.5,430" fill="#131313"/>
<polygon points="195,412.5 265,400 325,450 390,425 440,450 415,487.5 370,525 320,475 220,445" fill="#1a1a1a"/>
<polygon points="345,447.5 407.5,425 445,440 420,462.5 415,487.5 390,500" fill="#101010"/>
<polygon points="140,575 175,535 200,540 232.5,580 195,595 192.5,620 160,647.5 125,595" fill="#161616"/>
<polygon points="97.5,517.5 117.5,512.5 140,575 125,595 110,597.5" fill="#161616"/>
<polygon points="217.5,535 250,527.5 260,555 225,565" fill="#131313"/>
<polygon points="270,662.5 300,650 305,665 275,677.5" fill="#161616"/>
<polygon points="302.5,710 330,697.5 340,720 310,735" fill="#101010"/>
<polygon points="57.5,675 80,662.5 95,685 77.5,707.5" fill="#0a0a0a"/>
<polygon points="120,720 135,712.5 160,765 145,772.5" fill="#1a1a1a"/>
<polygon points="197.5,772.5 215,745 240,737.5 272.5,812.5 245,840 225,815" fill="#131313"/>
<polygon points="260,762.5 310,745 325,777.5 362.5,775 367.5,807.5 287.5,812.5" fill="#131313"/>
<polygon points="370,807.5 400,802.5 400,865 380,860" fill="#1a1a1a"/>
<polygon points="0,802.5 25,810 50,852.5 12.5,860 0,852.5" fill="#1a1a1a"/>
<polygon points="0,1002.5 25,1010 30,1035 0,1040" fill="#1a1a1a"/>
<polygon points="322.5,960 362.5,950 375,970 337.5,987.5" fill="#161616"/>
<polygon points="237.5,920 262.5,915 275,940 250,947.5" fill="#131313"/>
<polygon points="182.5,1032.5 225,1022.5 250,1057 182.5,1057" fill="#0d0d0d"/>
<polygon points="160,940 190,935 207.5,965 190,972.5" fill="#131313"/>
<polygon points="362.5,645 392.5,637.5 420,685 390,690" fill="#1a1a1a"/>
<polygon points="377.5,680 420,665 430,690 532.5,690 540,715 482.5,730 445,740 395,740 387.5,715" fill="#101010"/>
<polygon points="370,805 410,765 445,772.5 477.5,777.5 487.5,835 445,850 385,865" fill="#131313"/>
<polygon points="532.5,852.5 595,840 595,902.5 545,902.5" fill="#1a1a1a"/>
<polygon points="470,900 500,890 510,965 482.5,972.5" fill="#0d0d0d"/>
<polygon points="512.5,940 532.5,935 540,977.5 520,980" fill="#0d0d0d"/>
<polygon points="545,940 595,927.5 595,990 557.5,990" fill="#161616"/>
<polygon points="140,615 175,600 195,620 160,647.5" fill="#131313"/></g>
</svg>
<svg x="432.8" y="2304.9" width="595.2" height="1056" viewBox="0 0 595.2 1056" preserveAspectRatio="none" overflow="hidden">
<g shape-rendering="crispEdges" filter="url(#fNccc3)"><rect width="600" height="1065" fill="#333333"/>
<polygon points="0,515 75,515 112.5,565 112.5,665 75,715 0,685" fill="#171717"/>
<polygon points="0,685 62.5,695 100,727.5 130,790 125,840 75,860 25,790 0,802.5" fill="#ececec"/>
<polygon points="0,870 50,865 125,890 130,990 112.5,1057 0,1057" fill="#c6c6c6"/>
<polygon points="482.5,715 595,715 595,852.5 495,852.5" fill="#5c5c5c"/>
<polygon points="445,865 595,852.5 595,1057 445,1057" fill="#121212"/>
<polygon points="0,175 75,162.5 82.5,225 62.5,250 0,237.5" fill="#1f1f1f"/>
<polygon points="-4,370.9 90,361.5 113.5,464.9 90,511.9 -4,511.9" fill="#212121"/>
<polygon points="120,0 160,0 140,27.5 125,22.5" fill="#eeeeee"/>
<polygon points="110,65 140,35 162.5,5 182.5,7.5 197.5,60 175,75 150,85" fill="#242424"/>
<polygon points="212.5,15 250,5 310,35 305,62.5 275,57.5 230,62.5" fill="#535353"/>
<polygon points="250,7.5 307.5,37.5 300,50 240,25" fill="#717171"/>
<polygon points="225,70 272.5,60 300,82.5 275,107.5 237.5,100" fill="#4d4d4d"/>
<polygon points="310,0 400,0 400,75 325,82.5 305,62.5" fill="#464646"/>
<polygon points="75,140 120,110 150,165 87.5,180" fill="#2d2d2d"/>
<polygon points="120,100 142.5,90 172.5,152.5 155,162.5" fill="#dedede"/>
<polygon points="170,122.5 195,110 215,120 220,145 195,152.5 175,142.5" fill="#aeaeae"/>
<polygon points="82.5,197.5 197.5,165 212.5,215 140,230 102.5,225" fill="#858585"/>
<polygon points="210,172.5 257.5,160 265,197.5 217.5,212.5" fill="#aeaeae"/>
<polygon points="185,230 250,212.5 257.5,235 215,250 197.5,257.5" fill="#dfdfdf"/>
<polygon points="115,237.5 132.5,232.5 165,310 147.5,322.5" fill="#dfdfdf"/>
<polygon points="15,255 35,250 50,270 30,280" fill="#d7d7d7"/>
<polygon points="72.5,310 112.5,297.5 127.5,332.5 87.5,350" fill="#b4b4b4"/>
<polygon points="245,257.5 275,240 277.5,275 260,295" fill="#d7d7d7"/>
<polygon points="282.5,247.5 307.5,240 327.5,270 310,297.5 287.5,282.5" fill="#c6c6c6"/>
<polygon points="265,295 312.5,285 317.5,322.5 285,355 260,325" fill="#5a5a5a"/>
<polygon points="312.5,285 350,282.5 375,325 322.5,322.5" fill="#4b4b4b"/>
<polygon points="350,212.5 400,207.5 400,262.5 362.5,245" fill="#404040"/>
<polygon points="175,375 210,375 207.5,392.5 187.5,400" fill="#5d5d5d"/>
<polygon points="280,365 322.5,322.5 375,345 332.5,380 287.5,385" fill="#a6a6a6"/>
<polygon points="307.5,400 355,395 400,410 400,430 350,437.5 312.5,422.5" fill="#cccccc"/>
<polygon points="40,362.5 55,360 82.5,395 70,400" fill="#818181"/>
<polygon points="55,425 82.5,422.5 137.5,475 125,512.5 82.5,487.5" fill="#6e6e6e"/>
<polygon points="120,505 150,487.5 172.5,532.5 160,557.5 140,550" fill="#e2e2e2"/>
<polygon points="207.5,500 237.5,480 252.5,510 220,527.5" fill="#4f4f4f"/>
<polygon points="340,537.5 400,507.5 400,567 350,567" fill="#ebebeb"/>
<polygon points="307.5,0 370,0 420,32.5 357.5,15" fill="#b1b1b1"/>
<polygon points="420,32.5 482.5,70 545,112.5 595,155 595,200 545,160 507.5,135 445,95 407.5,62.5" fill="#363636"/>
<polygon points="355,5 390,5 445,62.5 420,100 382.5,75 345,50" fill="#1b1b1b"/>
<polygon points="482.5,175 527.5,160 550,212.5 515,230" fill="#5c5c5c"/>
<polygon points="357.5,225 402.5,205 435,250 440,275 390,287.5" fill="#373737"/>
<polygon points="490,265 545,225 595,250 595,312.5 532.5,287.5 515,295" fill="#595959"/>
<polygon points="305,395 350,385 357.5,440 330,450" fill="#767676"/>
<polygon points="347.5,410 380,392.5 400,417.5 357.5,440" fill="#e0e0e0"/>
<polygon points="480,495 515,475 530,532.5 497.5,552.5" fill="#eeeeee"/>
<polygon points="415,470 442.5,460 452.5,482.5 425,497.5" fill="#2e2e2e"/>
<polygon points="450,525 490,512.5 502.5,567 457.5,567" fill="#464646"/>
<polygon points="120,815 200,802.5 262.5,890 250,952.5 205,965 162.5,927.5 125,865" fill="#121212"/>
<polygon points="250,690 287.5,685 312.5,740 362.5,715 390,765 350,777.5 300,752.5 262.5,740" fill="#686868"/>
<polygon points="275,815 362.5,810 400,890 375,915 325,902.5 287.5,852.5" fill="#3f3f3f"/>
<polygon points="237.5,965 325,940 350,1057 250,1057" fill="#b1b1b1"/>
<polygon points="175,630 215,615 250,620 255,665 200,675" fill="#989898"/>
<polygon points="325,915 400,890 400,1057 350,1057" fill="#a6a6a6"/>
<polygon points="337.5,540 400,515 400,590 362.5,577.5" fill="#ebebeb"/>
<polygon points="312.5,582.5 350,572.5 355,592.5 320,602.5" fill="#5c5c5c"/>
<polygon points="215,625 235,620 245,645 225,652.5" fill="#dfdfdf"/>
<polygon points="47.5,865 82.5,852.5 100,870 65,890" fill="#ededed"/>
<polygon points="50,952.5 80,940 100,990 70,1002.5" fill="#3a3a3a"/>
<polygon points="307.5,865 370,847.5 380,885 325,900" fill="#686868"/>
<polygon points="140,977.5 175,965 212.5,990 200,1057 140,1057" fill="#dbdbdb"/>
<polygon points="212.5,965 237.5,960 245,1015 217.5,1022.5" fill="#303030"/>
<polygon points="335,540 385,515 395,552.5 420,587.5 395,595 345,630" fill="#484848"/>
<polygon points="390,615 432.5,605 445,652.5 407.5,665" fill="#dfdfdf"/>
<polygon points="427.5,665 450,657.5 457.5,685 432.5,692.5" fill="#dfdfdf"/>
<polygon points="490,727.5 545,722.5 550,752.5 507.5,765" fill="#595959"/>
<polygon points="395,742.5 425,740 427.5,760 397.5,765" fill="#8c8c8c"/>
<polygon points="367.5,780 395,772.5 402.5,797.5 375,805" fill="#6d6d6d"/>
<polygon points="415,805 442.5,800 447.5,817.5 420,825" fill="#808080"/>
<polygon points="500,852.5 527.5,845 535,890 507.5,895" fill="#5c5c5c"/>
<polygon points="390,890 415,882.5 420,905 395,912.5" fill="#d7d7d7"/>
<polygon points="557.5,902.5 585,897.5 592.5,930 565,935" fill="#e2e2e2"/>
<polygon points="450,960 477.5,952.5 482.5,972.5 455,980" fill="#cccccc"/>
<polygon points="517.5,985 542.5,980 545,1005 520,1010" fill="#bdbdbd"/>
<polygon points="427.5,855 490,835 492.5,845 430,865" fill="#eeeeee"/></g>
<g shape-rendering="crispEdges" filter="url(#fQccc3)"><polygon points="0,0 162.5,0 140,35 110,65 75,97.5 50,117.5 0,125" fill="#f5f5f5"/>
<polygon points="295,75 400,62.5 400,200 312.5,195 262.5,130" fill="#0b0b0b"/>
<polygon points="370,0 595,0 595,155 545,112.5 482.5,70 420,32.5" fill="#f2f2f2"/>
<polygon points="507.5,0 595,0 595,105 557.5,75" fill="#ffffff"/>
<polygon points="400,100 445,95 470,140 432.5,175 400,200" fill="#0a0a0a"/>
<polygon points="445,375 507.5,337.5 595,337.5 595,567 532.5,567 520,500 470,450" fill="#090909"/>
<polygon points="0,35 22.5,37.5 27.5,57.5 15,67.5 0,65" fill="#000000"/>
<polygon points="167.5,42.5 187.5,35 197.5,60 177.5,72.5" fill="#000000"/>
<polygon points="182.5,0 220,0 200,20 187.5,17.5" fill="#010101"/>
<polygon points="25,140 45,122.5 67.5,145 50,162.5" fill="#000000"/>
<polygon points="137.5,230 180,228.8 197.5,260 160,285" fill="#000000"/>
<polygon points="72.5,260 100,247.5 110,275 92.5,285" fill="#fcfcfc"/>
<polygon points="210,287.5 240,270 252.5,300 220,317.5" fill="#ffffff"/>
<polygon points="355,255 382.5,255 387.5,277.5 362.5,285" fill="#010101"/>
<polygon points="165,297.5 240,257.5 245,270 170,312.5" fill="#010101"/>
<polygon points="102.5,350 130,337.5 142.5,362.5 117.5,375" fill="#ffffff"/>
<polygon points="150,327.5 160,325 170,355 160,360" fill="#fcfcfc"/>
<polygon points="165,352.5 217.5,327.5 220,360 210,375 180,375" fill="#f7f7f7"/>
<polygon points="97.5,390 120,375 155,370 190,425 160,450" fill="#000000"/>
<polygon points="195,400 220,362.5 257.5,322.5 252.5,382.5 217.5,420" fill="#000000"/>
<polygon points="160,420 200,400 250,425 282.5,440 295,470 250,475 195,450" fill="#000000"/>
<polygon points="235,392.5 250,387.5 265,412.5 282.5,400 382.5,507.5 350,537.5 272.5,447.5 225,447.5 212.5,432.5 245,420" fill="#000000"/>
<polygon points="342.5,447.5 400,430 400,490 370,475" fill="#000000"/>
<polygon points="150,475 180,495 197.5,530 175,525" fill="#010101"/>
<polygon points="217.5,532.5 250,525 260,560 225,567" fill="#010101"/>
<polygon points="0,295 27.5,300 32.5,332.5 0,345" fill="#010101"/>
<polygon points="385,62.5 420,57.5 452.5,82.5 435,105 400,95" fill="#010101"/>
<polygon points="402.5,200 445,170 492.5,207.5 435,250" fill="#000000"/>
<polygon points="450,192.5 475,186.2 480,200 456.2,213.8" fill="#fcfcfc"/>
<polygon points="355,260 375,252.5 387.5,270 367.5,282.5" fill="#000000"/>
<polygon points="427.5,287.5 470,270 515,297.5 540,282.5 577.5,325 557.5,342.5 520,330 507.5,337.5 495,375 470,390 445,410 407.5,370 445,342.5 440,307.5" fill="#010101"/>
<polygon points="362.5,357.5 387.5,352.5 435,425 407.5,430" fill="#010101"/>
<polygon points="195,412.5 265,400 325,450 390,425 440,450 415,487.5 370,525 320,475 220,445" fill="#000000"/>
<polygon points="345,447.5 407.5,425 445,440 420,462.5 415,487.5 390,500" fill="#000000"/>
<polygon points="337.5,540 432.5,502.5 450,567 345,567" fill="#ffffff"/>
<polygon points="545,197.5 580,187.5 585,205 562.5,215" fill="#f5f5f5"/>
<polygon points="140,575 175,535 200,540 232.5,580 195,595 192.5,620 160,647.5 125,595" fill="#040404"/>
<polygon points="97.5,517.5 117.5,512.5 140,575 125,595 110,597.5" fill="#020202"/>
<polygon points="217.5,535 250,527.5 260,555 225,565" fill="#010101"/>
<polygon points="225,565 262.5,557.5 265,570 237.5,580" fill="#fcfcfc"/>
<polygon points="345,630 380,615 390,632.5 355,645" fill="#ffffff"/>
<polygon points="270,662.5 300,650 305,665 275,677.5" fill="#010101"/>
<polygon points="285,680 312.5,670 325,697.5 297.5,705" fill="#ffffff"/>
<polygon points="325,680 370,665 380,697.5 337.5,707.5" fill="#ffffff"/>
<polygon points="302.5,710 330,697.5 340,720 310,735" fill="#010101"/>
<polygon points="325,760 350,740 360,765 337.5,780" fill="#ffffff"/>
<polygon points="57.5,675 80,662.5 95,685 77.5,707.5" fill="#010101"/>
<polygon points="100,690 112.5,682.5 130,710 117.5,717.5" fill="#020202"/>
<polygon points="157.5,682.5 195,675 207.5,690 187.5,705 170,700" fill="#010101"/>
<polygon points="120,720 135,712.5 160,765 145,772.5" fill="#020202"/>
<polygon points="145,772.5 165,770 175,797.5 160,805" fill="#f8f8f8"/>
<polygon points="197.5,772.5 215,745 240,737.5 272.5,812.5 245,840 225,815" fill="#010101"/>
<polygon points="260,762.5 310,745 325,777.5 362.5,775 367.5,807.5 287.5,812.5" fill="#010101"/>
<polygon points="370,807.5 400,802.5 400,865 380,860" fill="#010101"/>
<polygon points="0,802.5 25,810 50,852.5 12.5,860 0,852.5" fill="#090909"/>
<polygon points="70,910 100,887.5 117.5,900 130,965 107.5,977.5 85,940" fill="#ffffff"/>
<polygon points="12.5,977.5 40,965 52.5,990 25,1005" fill="#ffffff"/>
<polygon points="10,1035 32.5,1025 42.5,1057 10,1057" fill="#ffffff"/>
<polygon points="0,1002.5 25,1010 30,1035 0,1040" fill="#010101"/>
<polygon points="200,927.5 225,917.5 237.5,945 212.5,957.5" fill="#ffffff"/>
<polygon points="342.5,910 380,895 400,927.5 400,960 375,965" fill="#fbfbfb"/>
<polygon points="345,997.5 382.5,980 395,1015 360,1032.5" fill="#f7f7f7"/>
<polygon points="322.5,960 362.5,950 375,970 337.5,987.5" fill="#010101"/>
<polygon points="237.5,920 262.5,915 275,940 250,947.5" fill="#030303"/>
<polygon points="255,942.5 295,932.5 312.5,972.5 280,982.5" fill="#080808"/>
<polygon points="182.5,1032.5 225,1022.5 250,1057 182.5,1057" fill="#010101"/>
<polygon points="160,940 190,935 207.5,965 190,972.5" fill="#010101"/>
<polygon points="540,565 595,565 595,615 550,602.5" fill="#080808"/>
<polygon points="395,990 445,985 445,1057 395,1057" fill="#0f0f0f"/>
<polygon points="385,515 445,505 455,565 420,587.5 395,552.5" fill="#ffffff"/>
<polygon points="450,530 490,520 497.5,560 457.5,567.5" fill="#0a0a0a"/>
<polygon points="495,547.5 527.5,537.5 570,630 527.5,650 510,602.5" fill="#010101"/>
<polygon points="432.5,595 462.5,585 470,630 447.5,640" fill="#f2f2f2"/>
<polygon points="470,595 507.5,580 515,602.5 477.5,617.5" fill="#f5f5f5"/>
<polygon points="482.5,635 527.5,620 537.5,675 502.5,687.5" fill="#f8f8f8"/>
<polygon points="527.5,615 565,605 572.5,640 537.5,650" fill="#0e0e0e"/>
<polygon points="450,650 480,640 487.5,682.5 455,690" fill="#0a0a0a"/>
<polygon points="362.5,645 392.5,637.5 420,685 390,690" fill="#010101"/>
<polygon points="537.5,680 575,672.5 585,700 545,710" fill="#020202"/>
<polygon points="377.5,680 420,665 430,690 532.5,690 540,715 482.5,730 445,740 395,740 387.5,715" fill="#030303"/>
<polygon points="475,770 502.5,765 510,790 482.5,795" fill="#fbfbfb"/>
<polygon points="560,760 595,752.5 595,802.5 570,805" fill="#f8f8f8"/>
<polygon points="522.5,797.5 555,787.5 570,822.5 535,835" fill="#f7f7f7"/>
<polygon points="370,805 410,765 445,772.5 477.5,777.5 487.5,835 445,850 385,865" fill="#010101"/>
<polygon points="532.5,852.5 595,840 595,902.5 545,902.5" fill="#010101"/>
<polygon points="470,900 500,890 510,965 482.5,972.5" fill="#010101"/>
<polygon points="512.5,940 532.5,935 540,977.5 520,980" fill="#010101"/>
<polygon points="545,940 595,927.5 595,990 557.5,990" fill="#020202"/>
<polygon points="427.5,880 457.5,870 465,900 435,910" fill="#010101"/>
<polygon points="412.5,950 442.5,940 450,965 420,975" fill="#ffffff"/>
<polygon points="387.5,967.5 407.5,960 410,972.5 392.5,980" fill="#ffffff"/>
<polygon points="517.5,1007.5 545,1000 550,1027.5 522.5,1035" fill="#020202"/>
<polygon points="552.5,1010 595,1002.5 595,1047.5 557.5,1047.5" fill="#030303"/>
<polygon points="345,900 380,892.5 402.5,930 405,965 385,977.5 365,940" fill="#fefefe"/>
<polygon points="50,312.5 65,307.5 112.5,370 100,380" fill="#010101"/>
<polygon points="296.8,549.5 348.4,544.8 353.1,577.7 306.2,582.4" fill="#010101"/>
<polygon points="140,615 175,600 195,620 160,647.5" fill="#010101"/></g>
</svg>
<svg x="1071.3" y="2304.9" width="595" height="1056" viewBox="0 0 595 1056" preserveAspectRatio="none" overflow="hidden">
<g shape-rendering="crispEdges" filter="url(#fNccc20)"><rect width="600" height="1065" fill="#303030"/>
<polygon points="0,0 162.5,0 140,35 110,65 75,97.5 50,117.5 0,125" fill="#cccccc"/>
<polygon points="295,75 400,62.5 400,200 312.5,195 262.5,130" fill="#141414"/>
<polygon points="370,0 595,0 595,155 545,112.5 482.5,70 420,32.5" fill="#c6c6c6"/>
<polygon points="507.5,0 595,0 595,105 557.5,75" fill="#d6d6d6"/>
<polygon points="400,100 445,95 470,140 432.5,175 400,200" fill="#121212"/>
<polygon points="445,375 507.5,337.5 595,337.5 595,567 532.5,567 520,500 470,450" fill="#161616"/>
<polygon points="0,515 75,515 112.5,565 112.5,665 75,715 0,685" fill="#151515"/>
<polygon points="0,685 62.5,695 100,727.5 130,790 125,840 75,860 25,790 0,802.5" fill="#b9b9b9"/>
<polygon points="0,870 50,865 125,890 130,990 112.5,1057 0,1057" fill="#797979"/>
<polygon points="482.5,715 595,715 595,852.5 495,852.5" fill="#282828"/>
<polygon points="445,865 595,852.5 595,1057 445,1057" fill="#161616"/>
<polygon points="55,40 110,40 100,65 60,62.5" fill="#979797"/>
<polygon points="120,0 160,0 140,27.5 125,22.5" fill="#acacac"/>
<polygon points="110,65 140,35 162.5,5 182.5,7.5 197.5,60 175,75 150,85" fill="#252525"/>
<polygon points="212.5,15 250,5 310,35 305,62.5 275,57.5 230,62.5" fill="#757575"/>
<polygon points="250,7.5 307.5,37.5 300,50 240,25" fill="#a8a8a8"/>
<polygon points="225,70 272.5,60 300,82.5 275,107.5 237.5,100" fill="#676767"/>
<polygon points="310,0 400,0 400,75 325,82.5 305,62.5" fill="#3d3d3d"/>
<polygon points="120,100 142.5,90 172.5,152.5 155,162.5" fill="#c7c7c7"/>
<polygon points="170,122.5 195,110 215,120 220,145 195,152.5 175,142.5" fill="#9c9c9c"/>
<polygon points="82.5,197.5 197.5,165 212.5,215 140,230 102.5,225" fill="#cfcfcf"/>
<polygon points="210,172.5 257.5,160 265,197.5 217.5,212.5" fill="#9c9c9c"/>
<polygon points="185,230 250,212.5 257.5,235 215,250 197.5,257.5" fill="#bfbfbf"/>
<polygon points="72.5,260 100,247.5 110,275 92.5,285" fill="#dddddd"/>
<polygon points="115,237.5 132.5,232.5 165,310 147.5,322.5" fill="#9c9c9c"/>
<polygon points="15,255 35,250 50,270 30,280" fill="#9b9b9b"/>
<polygon points="72.5,310 112.5,297.5 127.5,332.5 87.5,350" fill="#a5a5a5"/>
<polygon points="210,287.5 240,270 252.5,300 220,317.5" fill="#bfbfbf"/>
<polygon points="245,257.5 275,240 277.5,275 260,295" fill="#a5a5a5"/>
<polygon points="282.5,247.5 307.5,240 327.5,270 310,297.5 287.5,282.5" fill="#8f8f8f"/>
<polygon points="265,295 312.5,285 317.5,322.5 285,355 260,325" fill="#676767"/>
<polygon points="312.5,285 350,282.5 375,325 322.5,322.5" fill="#505050"/>
<polygon points="350,212.5 400,207.5 400,262.5 362.5,245" fill="#474747"/>
<polygon points="150,327.5 160,325 170,355 160,360" fill="#b4b4b4"/>
<polygon points="165,352.5 217.5,327.5 220,360 210,375 180,375" fill="#d1d1d1"/>
<polygon points="175,375 210,375 207.5,392.5 187.5,400" fill="#868686"/>
<polygon points="280,365 322.5,322.5 375,345 332.5,380 287.5,385" fill="#8a8a8a"/>
<polygon points="307.5,400 355,395 400,410 400,430 350,437.5 312.5,422.5" fill="#989898"/>
<polygon points="40,362.5 55,360 82.5,395 70,400" fill="#a8a8a8"/>
<polygon points="55,425 82.5,422.5 137.5,475 125,512.5 82.5,487.5" fill="#8f8f8f"/>
<polygon points="120,505 150,487.5 172.5,532.5 160,557.5 140,550" fill="#b4b4b4"/>
<polygon points="207.5,500 237.5,480 252.5,510 220,527.5" fill="#616161"/>
<polygon points="340,537.5 400,507.5 400,567 350,567" fill="#9c9c9c"/>
<polygon points="420,32.5 482.5,70 545,112.5 595,155 595,200 545,160 507.5,135 445,95 407.5,62.5" fill="#3d3d3d"/>
<polygon points="355,5 390,5 445,62.5 420,100 382.5,75 345,50" fill="#121212"/>
<polygon points="450,192.5 475,186.2 480,200 456.2,213.8" fill="#696969"/>
<polygon points="482.5,175 527.5,160 550,212.5 515,230" fill="#5c5c5c"/>
<polygon points="357.5,225 402.5,205 435,250 440,275 390,287.5" fill="#313131"/>
<polygon points="490,265 545,225 595,250 595,312.5 532.5,287.5 515,295" fill="#343434"/>
<polygon points="305,395 350,385 357.5,440 330,450" fill="#5e5e5e"/>
<polygon points="347.5,410 380,392.5 400,417.5 357.5,440" fill="#a5a5a5"/>
<polygon points="480,495 515,475 530,532.5 497.5,552.5" fill="#959595"/>
<polygon points="337.5,540 432.5,502.5 450,567 345,567" fill="#a5a5a5"/>
<polygon points="415,470 442.5,460 452.5,482.5 425,497.5" fill="#252525"/>
<polygon points="450,525 490,512.5 502.5,567 457.5,567" fill="#2d2d2d"/>
<polygon points="545,197.5 580,187.5 585,205 562.5,215" fill="#666666"/>
<polygon points="120,815 200,802.5 262.5,890 250,952.5 205,965 162.5,927.5 125,865" fill="#131313"/>
<polygon points="250,690 287.5,685 312.5,740 362.5,715 390,765 350,777.5 300,752.5 262.5,740" fill="#555555"/>
<polygon points="275,815 362.5,810 400,890 375,915 325,902.5 287.5,852.5" fill="#363636"/>
<polygon points="237.5,965 325,940 350,1057 250,1057" fill="#383838"/>
<polygon points="175,630 215,615 250,620 255,665 200,675" fill="#565656"/>
<polygon points="325,915 400,890 400,1057 350,1057" fill="#434343"/>
<polygon points="225,565 262.5,557.5 265,570 237.5,580" fill="#989898"/>
<polygon points="337.5,540 400,515 400,590 362.5,577.5" fill="#999999"/>
<polygon points="312.5,582.5 350,572.5 355,592.5 320,602.5" fill="#656565"/>
<polygon points="345,630 380,615 390,632.5 355,645" fill="#f1f1f1"/>
<polygon points="215,625 235,620 245,645 225,652.5" fill="#9b9b9b"/>
<polygon points="285,680 312.5,670 325,697.5 297.5,705" fill="#b8b8b8"/>
<polygon points="325,680 370,665 380,697.5 337.5,707.5" fill="#9d9d9d"/>
<polygon points="325,760 350,740 360,765 337.5,780" fill="#adadad"/>
<polygon points="157.5,682.5 195,675 207.5,690 187.5,705 170,700" fill="#121212"/>
<polygon points="145,772.5 165,770 175,797.5 160,805" fill="#787878"/>
<polygon points="47.5,865 82.5,852.5 100,870 65,890" fill="#cccccc"/>
<polygon points="70,910 100,887.5 117.5,900 130,965 107.5,977.5 85,940" fill="#dedede"/>
<polygon points="12.5,977.5 40,965 52.5,990 25,1005" fill="#bcbcbc"/>
<polygon points="10,1035 32.5,1025 42.5,1057 10,1057" fill="#d9d9d9"/>
<polygon points="50,952.5 80,940 100,990 70,1002.5" fill="#313131"/>
<polygon points="200,927.5 225,917.5 237.5,945 212.5,957.5" fill="#cccccc"/>
<polygon points="307.5,865 370,847.5 380,885 325,900" fill="#4c4c4c"/>
<polygon points="345,997.5 382.5,980 395,1015 360,1032.5" fill="#c3c3c3"/>
<polygon points="255,942.5 295,932.5 312.5,972.5 280,982.5" fill="#1e1e1e"/>
<polygon points="140,977.5 175,965 212.5,990 200,1057 140,1057" fill="#848484"/>
<polygon points="212.5,965 237.5,960 245,1015 217.5,1022.5" fill="#343434"/>
<polygon points="540,565 595,565 595,615 550,602.5" fill="#181818"/>
<polygon points="395,990 445,985 445,1057 395,1057" fill="#161616"/>
<polygon points="335,540 385,515 395,552.5 420,587.5 395,595 345,630" fill="#4c4c4c"/>
<polygon points="385,515 445,505 455,565 420,587.5 395,552.5" fill="#b6b6b6"/>
<polygon points="450,530 490,520 497.5,560 457.5,567.5" fill="#1a1a1a"/>
<polygon points="432.5,595 462.5,585 470,630 447.5,640" fill="#b4b4b4"/>
<polygon points="470,595 507.5,580 515,602.5 477.5,617.5" fill="#b4b4b4"/>
<polygon points="390,615 432.5,605 445,652.5 407.5,665" fill="#8b8b8b"/>
<polygon points="482.5,635 527.5,620 537.5,675 502.5,687.5" fill="#b2b2b2"/>
<polygon points="427.5,665 450,657.5 457.5,685 432.5,692.5" fill="#7e7e7e"/>
<polygon points="527.5,615 565,605 572.5,640 537.5,650" fill="#1c1c1c"/>
<polygon points="450,650 480,640 487.5,682.5 455,690" fill="#1a1a1a"/>
<polygon points="490,727.5 545,722.5 550,752.5 507.5,765" fill="#303030"/>
<polygon points="475,770 502.5,765 510,790 482.5,795" fill="#a7a7a7"/>
<polygon points="560,760 595,752.5 595,802.5 570,805" fill="#a1a1a1"/>
<polygon points="522.5,797.5 555,787.5 570,822.5 535,835" fill="#b4b4b4"/>
<polygon points="395,742.5 425,740 427.5,760 397.5,765" fill="#4b4b4b"/>
<polygon points="367.5,780 395,772.5 402.5,797.5 375,805" fill="#393939"/>
<polygon points="415,805 442.5,800 447.5,817.5 420,825" fill="#4b4b4b"/>
<polygon points="500,852.5 527.5,845 535,890 507.5,895" fill="#575757"/>
<polygon points="390,890 415,882.5 420,905 395,912.5" fill="#8f8f8f"/>
<polygon points="557.5,902.5 585,897.5 592.5,930 565,935" fill="#717171"/>
<polygon points="412.5,950 442.5,940 450,965 420,975" fill="#bbbbbb"/>
<polygon points="450,960 477.5,952.5 482.5,972.5 455,980" fill="#717171"/>
<polygon points="517.5,985 542.5,980 545,1005 520,1010" fill="#575757"/>
<polygon points="427.5,855 490,835 492.5,845 430,865" fill="#2c2c2c"/>
<polygon points="552.5,1010 595,1002.5 595,1047.5 557.5,1047.5" fill="#111111"/></g>
<g shape-rendering="crispEdges" filter="url(#fQccc20)"><polygon points="0,35 22.5,37.5 27.5,57.5 15,67.5 0,65" fill="#010101"/>
<polygon points="167.5,42.5 187.5,35 197.5,60 177.5,72.5" fill="#020202"/>
<polygon points="182.5,0 220,0 200,20 187.5,17.5" fill="#070707"/>
<polygon points="25,140 45,122.5 67.5,145 50,162.5" fill="#070707"/>
<polygon points="137.5,230 180,228.8 197.5,260 160,285" fill="#040404"/>
<polygon points="355,255 382.5,255 387.5,277.5 362.5,285" fill="#070707"/>
<polygon points="165,297.5 240,257.5 245,270 170,312.5" fill="#0e0e0e"/>
<polygon points="102.5,350 130,337.5 142.5,362.5 117.5,375" fill="#ffffff"/>
<polygon points="97.5,390 120,375 155,370 190,425 160,450" fill="#020202"/>
<polygon points="195,400 220,362.5 257.5,322.5 252.5,382.5 217.5,420" fill="#020202"/>
<polygon points="160,420 200,400 250,425 282.5,440 295,470 250,475 195,450" fill="#0b0b0b"/>
<polygon points="235,392.5 250,387.5 265,412.5 282.5,400 382.5,507.5 350,537.5 272.5,447.5 225,447.5 212.5,432.5 245,420" fill="#030303"/>
<polygon points="342.5,447.5 400,430 400,490 370,475" fill="#060606"/>
<polygon points="150,475 180,495 197.5,530 175,525" fill="#060606"/>
<polygon points="217.5,532.5 250,525 260,560 225,567" fill="#030303"/>
<polygon points="0,295 27.5,300 32.5,332.5 0,345" fill="#080808"/>
<polygon points="385,62.5 420,57.5 452.5,82.5 435,105 400,95" fill="#0b0b0b"/>
<polygon points="402.5,200 445,170 492.5,207.5 435,250" fill="#050505"/>
<polygon points="355,260 375,252.5 387.5,270 367.5,282.5" fill="#060606"/>
<polygon points="427.5,287.5 470,270 515,297.5 540,282.5 577.5,325 557.5,342.5 520,330 507.5,337.5 495,375 470,390 445,410 407.5,370 445,342.5 440,307.5" fill="#060606"/>
<polygon points="362.5,357.5 387.5,352.5 435,425 407.5,430" fill="#070707"/>
<polygon points="195,412.5 265,400 325,450 390,425 440,450 415,487.5 370,525 320,475 220,445" fill="#0b0b0b"/>
<polygon points="345,447.5 407.5,425 445,440 420,462.5 415,487.5 390,500" fill="#050505"/>
<polygon points="140,575 175,535 200,540 232.5,580 195,595 192.5,620 160,647.5 125,595" fill="#090909"/>
<polygon points="97.5,517.5 117.5,512.5 140,575 125,595 110,597.5" fill="#050505"/>
<polygon points="217.5,535 250,527.5 260,555 225,565" fill="#040404"/>
<polygon points="270,662.5 300,650 305,665 275,677.5" fill="#060606"/>
<polygon points="302.5,710 330,697.5 340,720 310,735" fill="#060606"/>
<polygon points="57.5,675 80,662.5 95,685 77.5,707.5" fill="#030303"/>
<polygon points="100,690 112.5,682.5 130,710 117.5,717.5" fill="#0e0e0e"/>
<polygon points="120,720 135,712.5 160,765 145,772.5" fill="#0b0b0b"/>
<polygon points="197.5,772.5 215,745 240,737.5 272.5,812.5 245,840 225,815" fill="#070707"/>
<polygon points="260,762.5 310,745 325,777.5 362.5,775 367.5,807.5 287.5,812.5" fill="#070707"/>
<polygon points="370,807.5 400,802.5 400,865 380,860" fill="#030303"/>
<polygon points="0,802.5 25,810 50,852.5 12.5,860 0,852.5" fill="#0b0b0b"/>
<polygon points="0,1002.5 25,1010 30,1035 0,1040" fill="#090909"/>
<polygon points="342.5,910 380,895 400,927.5 400,960 375,965" fill="#ffffff"/>
<polygon points="322.5,960 362.5,950 375,970 337.5,987.5" fill="#090909"/>
<polygon points="237.5,920 262.5,915 275,940 250,947.5" fill="#070707"/>
<polygon points="182.5,1032.5 225,1022.5 250,1057 182.5,1057" fill="#050505"/>
<polygon points="160,940 190,935 207.5,965 190,972.5" fill="#070707"/>
<polygon points="495,547.5 527.5,537.5 570,630 527.5,650 510,602.5" fill="#0f0f0f"/>
<polygon points="362.5,645 392.5,637.5 420,685 390,690" fill="#0b0b0b"/>
<polygon points="537.5,680 575,672.5 585,700 545,710" fill="#0e0e0e"/>
<polygon points="377.5,680 420,665 430,690 532.5,690 540,715 482.5,730 445,740 395,740 387.5,715" fill="#060606"/>
<polygon points="370,805 410,765 445,772.5 477.5,777.5 487.5,835 445,850 385,865" fill="#080808"/>
<polygon points="532.5,852.5 595,840 595,902.5 545,902.5" fill="#0b0b0b"/>
<polygon points="470,900 500,890 510,965 482.5,972.5" fill="#040404"/>
<polygon points="512.5,940 532.5,935 540,977.5 520,980" fill="#030303"/>
<polygon points="545,940 595,927.5 595,990 557.5,990" fill="#060606"/>
<polygon points="427.5,880 457.5,870 465,900 435,910" fill="#0f0f0f"/>
<polygon points="387.5,967.5 407.5,960 410,972.5 392.5,980" fill="#f3f3f3"/>
<polygon points="517.5,1007.5 545,1000 550,1027.5 522.5,1035" fill="#0c0c0c"/>
<polygon points="345,900 380,892.5 402.5,930 405,965 385,977.5 365,940" fill="#ffffff"/>
<polygon points="50,312.5 65,307.5 112.5,370 100,380" fill="#0e0e0e"/>
<polygon points="296.8,549.5 348.4,544.8 353.1,577.7 306.2,582.4" fill="#0e0e0e"/>
<polygon points="140,615 175,600 195,620 160,647.5" fill="#070707"/></g>
</svg>
<g shape-rendering="crispEdges">
<rect x="1713.5" y="104.4" width="65.3" height="61.5" fill="#feca33"/>
<rect x="1778.3" y="104.4" width="64.9" height="61.5" fill="#b4c533"/>
<rect x="1842.7" y="104.4" width="65.4" height="61.5" fill="#5ccc76"/>
<rect x="1907.6" y="104.4" width="65.4" height="61.5" fill="#259ce7"/>
<rect x="1972.5" y="104.4" width="64.9" height="61.5" fill="#249fe5"/>
<rect x="2231" y="104.4" width="65.5" height="61.5" fill="#2fc5a2"/>
<rect x="1713.5" y="165.4" width="65.3" height="64.5" fill="#f8d92c"/>
<rect x="1778.3" y="165.4" width="64.9" height="64.5" fill="#fec13a"/>
<rect x="1907.6" y="165.4" width="65.4" height="64.5" fill="#71cd64"/>
<rect x="1972.5" y="165.4" width="64.9" height="64.5" fill="#39c895"/>
<rect x="2036.9" y="165.4" width="65.3" height="64.5" fill="#52cc7e"/>
<rect x="2101.7" y="165.4" width="64.9" height="64.5" fill="#39c895"/>
<rect x="2166.1" y="165.4" width="65.4" height="64.5" fill="#52cc7e"/>
<rect x="2231" y="165.4" width="65.5" height="64.5" fill="#bfc32e"/>
<rect x="1713.5" y="229.4" width="65.3" height="60.5" fill="#fcbd3d"/>
<rect x="1778.3" y="229.4" width="64.9" height="60.5" fill="#48cb86"/>
<rect x="1842.7" y="229.4" width="65.4" height="60.5" fill="#d2bf27"/>
<rect x="1907.6" y="229.4" width="65.4" height="60.5" fill="#fcbd3d"/>
<rect x="1972.5" y="229.4" width="64.9" height="60.5" fill="#39c895"/>
<rect x="2036.9" y="229.4" width="65.3" height="60.5" fill="#34c79c"/>
<rect x="2101.7" y="229.4" width="64.9" height="60.5" fill="#3fca8e"/>
<rect x="2166.1" y="229.4" width="65.4" height="60.5" fill="#2fc5a2"/>
<rect x="2231" y="229.4" width="65.5" height="60.5" fill="#2fc5a2"/>
<rect x="1778.3" y="289.4" width="64.9" height="61.6" fill="#f5e327"/>
<rect x="1907.6" y="289.4" width="65.4" height="61.6" fill="#aac73a"/>
<rect x="1972.5" y="289.4" width="64.9" height="61.6" fill="#7dcc5c"/>
<rect x="2036.9" y="289.4" width="65.3" height="61.6" fill="#7dcc5c"/>
<rect x="2101.7" y="289.4" width="64.9" height="61.6" fill="#1ea7e1"/>
<rect x="2166.1" y="289.4" width="65.4" height="61.6" fill="#52cc7e"/>
<rect x="2231" y="289.4" width="65.5" height="61.6" fill="#48cb86"/>
<rect x="1778.3" y="350.5" width="64.9" height="65.8" fill="#f6f21e"/>
<rect x="1972.5" y="350.5" width="64.9" height="65.8" fill="#34c79c"/>
<rect x="2036.9" y="350.5" width="65.3" height="65.8" fill="#259ce7"/>
<rect x="2101.7" y="350.5" width="64.9" height="65.8" fill="#2d8cf3"/>
<rect x="2166.1" y="350.5" width="65.4" height="65.8" fill="#1ea7e1"/>
<rect x="2231" y="350.5" width="65.5" height="65.8" fill="#1cc0b4"/>
<rect x="1778.3" y="415.8" width="64.9" height="60.6" fill="#fec537"/>
<rect x="1842.7" y="415.8" width="65.4" height="60.6" fill="#fec13a"/>
<rect x="1907.6" y="415.8" width="65.4" height="60.6" fill="#05b6ce"/>
<rect x="1972.5" y="415.8" width="64.9" height="60.6" fill="#1cc0b4"/>
<rect x="2036.9" y="415.8" width="65.3" height="60.6" fill="#18addb"/>
<rect x="2101.7" y="415.8" width="64.9" height="60.6" fill="#259ce7"/>
<rect x="2166.1" y="415.8" width="65.4" height="60.6" fill="#484cef"/>
<rect x="2231" y="415.8" width="65.5" height="60.6" fill="#2c90f0"/>
<rect x="1713.5" y="475.9" width="65.3" height="64.9" fill="#3fca8e"/>
<rect x="1778.3" y="475.9" width="64.9" height="64.9" fill="#24c2ae"/>
<rect x="1842.7" y="475.9" width="65.4" height="64.9" fill="#2c90f0"/>
<rect x="1907.6" y="475.9" width="65.4" height="64.9" fill="#484cef"/>
<rect x="1972.5" y="475.9" width="64.9" height="64.9" fill="#1cc0b4"/>
<rect x="2036.9" y="475.9" width="65.3" height="64.9" fill="#39c895"/>
<rect x="2101.7" y="475.9" width="64.9" height="64.9" fill="#4367fd"/>
<rect x="2166.1" y="475.9" width="65.4" height="64.9" fill="#02bac4"/>
<rect x="2231" y="475.9" width="65.5" height="64.9" fill="#66cd6d"/>
<rect x="1778.3" y="540.3" width="64.9" height="60.5" fill="#12beb9"/>
<rect x="1842.7" y="540.3" width="65.4" height="60.5" fill="#24c2ae"/>
<rect x="1907.6" y="540.3" width="65.4" height="60.5" fill="#2e83f9"/>
<rect x="1972.5" y="540.3" width="64.9" height="60.5" fill="#3f29b2"/>
<rect x="2036.9" y="540.3" width="65.3" height="60.5" fill="#412dbb"/>
<rect x="2101.7" y="540.3" width="64.9" height="60.5" fill="#2c90f0"/>
<rect x="2166.1" y="540.3" width="65.4" height="60.5" fill="#b4c533"/>
<rect x="2231" y="540.3" width="65.5" height="60.5" fill="#d2bf27"/>
<rect x="1778.3" y="600.3" width="64.9" height="65.4" fill="#05b6ce"/>
<rect x="1842.7" y="600.3" width="65.4" height="65.4" fill="#24c2ae"/>
<rect x="1907.6" y="600.3" width="65.4" height="65.4" fill="#2994ed"/>
<rect x="1972.5" y="600.3" width="64.9" height="65.4" fill="#463adc"/>
<rect x="2036.9" y="600.3" width="65.3" height="65.4" fill="#473fe2"/>
<rect x="2101.7" y="600.3" width="64.9" height="65.4" fill="#1cc0b4"/>
<rect x="2166.1" y="600.3" width="65.4" height="65.4" fill="#2fc5a2"/>
<rect x="2231" y="600.3" width="65.5" height="65.4" fill="#9fc942"/>
<rect x="1778.3" y="665.2" width="64.9" height="60.6" fill="#2bc3a8"/>
<rect x="1842.7" y="665.2" width="65.4" height="60.6" fill="#249fe5"/>
<rect x="1907.6" y="665.2" width="65.4" height="60.6" fill="#465efb"/>
<rect x="1972.5" y="665.2" width="64.9" height="60.6" fill="#1cc0b4"/>
<rect x="2036.9" y="665.2" width="65.3" height="60.6" fill="#24c2ae"/>
<rect x="2101.7" y="665.2" width="64.9" height="60.6" fill="#1caadf"/>
<rect x="2166.1" y="665.2" width="65.4" height="60.6" fill="#0cb3d3"/>
<rect x="2231" y="665.2" width="65.5" height="60.6" fill="#0cb3d3"/>
<rect x="1778.3" y="725.3" width="64.9" height="65.8" fill="#88cb53"/>
<rect x="1842.7" y="725.3" width="65.4" height="65.8" fill="#1ea7e1"/>
<rect x="1907.6" y="725.3" width="65.4" height="65.8" fill="#39c895"/>
<rect x="1972.5" y="725.3" width="64.9" height="65.8" fill="#2fc5a2"/>
<rect x="2036.9" y="725.3" width="65.3" height="65.8" fill="#5ccc76"/>
<rect x="2101.7" y="725.3" width="64.9" height="65.8" fill="#02bac4"/>
<rect x="2166.1" y="725.3" width="65.4" height="65.8" fill="#1caadf"/>
<rect x="2231" y="725.3" width="65.5" height="65.8" fill="#12beb9"/>
<rect x="1713.5" y="790.6" width="65.3" height="60.6" fill="#f9fb15"/>
<rect x="1778.3" y="790.6" width="64.9" height="60.6" fill="#bfc32e"/>
<rect x="1842.7" y="790.6" width="65.4" height="60.6" fill="#2bc3a8"/>
<rect x="1907.6" y="790.6" width="65.4" height="60.6" fill="#48cb86"/>
<rect x="1972.5" y="790.6" width="64.9" height="60.6" fill="#5ccc76"/>
<rect x="2036.9" y="790.6" width="65.3" height="60.6" fill="#66cd6d"/>
<rect x="2101.7" y="790.6" width="64.9" height="60.6" fill="#2798ea"/>
<rect x="2166.1" y="790.6" width="65.4" height="60.6" fill="#02bac4"/>
<rect x="2231" y="790.6" width="65.5" height="60.6" fill="#01b8c9"/>
<rect x="1713.5" y="850.7" width="65.3" height="65.4" fill="#d2bf27"/>
<rect x="1778.3" y="850.7" width="64.9" height="65.4" fill="#88cb53"/>
<rect x="1842.7" y="850.7" width="65.4" height="65.4" fill="#2fc5a2"/>
<rect x="1907.6" y="850.7" width="65.4" height="65.4" fill="#05b6ce"/>
<rect x="1972.5" y="850.7" width="64.9" height="65.4" fill="#4743e7"/>
<rect x="2036.9" y="850.7" width="65.3" height="65.4" fill="#3fca8e"/>
<rect x="2101.7" y="850.7" width="64.9" height="65.4" fill="#12beb9"/>
<rect x="2166.1" y="850.7" width="65.4" height="65.4" fill="#34c79c"/>
<rect x="2231" y="850.7" width="65.5" height="65.4" fill="#71cd64"/>
<rect x="1713.5" y="915.6" width="65.3" height="60.5" fill="#39c895"/>
<rect x="1778.3" y="915.6" width="64.9" height="60.5" fill="#48cb86"/>
<rect x="1842.7" y="915.6" width="65.4" height="60.5" fill="#7dcc5c"/>
<rect x="1907.6" y="915.6" width="65.4" height="60.5" fill="#249fe5"/>
<rect x="1972.5" y="915.6" width="64.9" height="60.5" fill="#2bc3a8"/>
<rect x="2036.9" y="915.6" width="65.3" height="60.5" fill="#05b6ce"/>
<rect x="2101.7" y="915.6" width="64.9" height="60.5" fill="#3d70ff"/>
<rect x="2166.1" y="915.6" width="65.4" height="60.5" fill="#24c2ae"/>
<rect x="2231" y="915.6" width="65.5" height="60.5" fill="#34c79c"/>
<rect x="1713.5" y="975.6" width="65.3" height="60.6" fill="#13b0d7"/>
<rect x="1778.3" y="975.6" width="64.9" height="60.6" fill="#13b0d7"/>
<rect x="1842.7" y="975.6" width="65.4" height="60.6" fill="#7dcc5c"/>
<rect x="1907.6" y="975.6" width="65.4" height="60.6" fill="#66cd6d"/>
<rect x="1972.5" y="975.6" width="64.9" height="60.6" fill="#52cc7e"/>
<rect x="2036.9" y="975.6" width="65.3" height="60.6" fill="#88cb53"/>
<rect x="2101.7" y="975.6" width="64.9" height="60.6" fill="#2fc5a2"/>
<rect x="2166.1" y="975.6" width="65.4" height="60.6" fill="#13b0d7"/>
<rect x="2231" y="975.6" width="65.5" height="60.6" fill="#05b6ce"/>
<rect x="1713.5" y="1035.7" width="65.3" height="66.3" fill="#1cc0b4"/>
<rect x="1778.3" y="1035.7" width="64.9" height="66.3" fill="#01b8c9"/>
<rect x="1842.7" y="1035.7" width="65.4" height="66.3" fill="#12beb9"/>
<rect x="1907.6" y="1035.7" width="65.4" height="66.3" fill="#3fca8e"/>
<rect x="1972.5" y="1035.7" width="64.9" height="66.3" fill="#5ccc76"/>
<rect x="2036.9" y="1035.7" width="65.3" height="66.3" fill="#71cd64"/>
<rect x="2101.7" y="1035.7" width="64.9" height="66.3" fill="#94ca4a"/>
<rect x="2166.1" y="1035.7" width="65.4" height="66.3" fill="#7dcc5c"/>
<rect x="2231" y="1035.7" width="65.5" height="66.3" fill="#34c79c"/>
<rect x="1713.5" y="1101.5" width="65.3" height="60.6" fill="#71cd64"/>
<rect x="1778.3" y="1101.5" width="64.9" height="60.6" fill="#34c79c"/>
<rect x="1842.7" y="1101.5" width="65.4" height="60.6" fill="#d2bf27"/>
<rect x="1907.6" y="1101.5" width="65.4" height="60.6" fill="#5ccc76"/>
<rect x="1972.5" y="1101.5" width="64.9" height="60.6" fill="#71cd64"/>
<rect x="2036.9" y="1101.5" width="65.3" height="60.6" fill="#c8c129"/>
<rect x="2101.7" y="1101.5" width="64.9" height="60.6" fill="#bfc32e"/>
<rect x="2166.1" y="1101.5" width="65.4" height="60.6" fill="#9fc942"/>
<rect x="2231" y="1101.5" width="65.5" height="60.6" fill="#08bcbe"/>
</g>
<g shape-rendering="crispEdges">
<rect x="1713.5" y="1203.7" width="65.3" height="61.5" fill="#01b8c9"/>
<rect x="1778.3" y="1203.7" width="64.9" height="61.5" fill="#66cd6d"/>
<rect x="1842.7" y="1203.7" width="65.4" height="61.5" fill="#3875fe"/>
<rect x="1907.6" y="1203.7" width="65.4" height="61.5" fill="#e2bc2b"/>
<rect x="1972.5" y="1203.7" width="64.9" height="61.5" fill="#94ca4a"/>
<rect x="2231" y="1203.7" width="65.5" height="61.5" fill="#dabd28"/>
<rect x="1713.5" y="1264.7" width="65.3" height="64.5" fill="#12beb9"/>
<rect x="1778.3" y="1264.7" width="64.9" height="64.5" fill="#01b8c9"/>
<rect x="1907.6" y="1264.7" width="65.4" height="64.5" fill="#2fc5a2"/>
<rect x="1972.5" y="1264.7" width="64.9" height="64.5" fill="#66cd6d"/>
<rect x="2036.9" y="1264.7" width="65.3" height="64.5" fill="#2c90f0"/>
<rect x="2101.7" y="1264.7" width="64.9" height="64.5" fill="#13b0d7"/>
<rect x="2166.1" y="1264.7" width="65.4" height="64.5" fill="#2bc3a8"/>
<rect x="2231" y="1264.7" width="65.5" height="64.5" fill="#c8c129"/>
<rect x="1713.5" y="1328.7" width="65.3" height="60.5" fill="#4562fc"/>
<rect x="1778.3" y="1328.7" width="64.9" height="60.5" fill="#259ce7"/>
<rect x="1842.7" y="1328.7" width="65.4" height="60.5" fill="#01b8c9"/>
<rect x="1907.6" y="1328.7" width="65.4" height="60.5" fill="#18addb"/>
<rect x="1972.5" y="1328.7" width="64.9" height="60.5" fill="#2e83f9"/>
<rect x="2036.9" y="1328.7" width="65.3" height="60.5" fill="#347afd"/>
<rect x="2101.7" y="1328.7" width="64.9" height="60.5" fill="#12beb9"/>
<rect x="2166.1" y="1328.7" width="65.4" height="60.5" fill="#1cc0b4"/>
<rect x="2231" y="1328.7" width="65.5" height="60.5" fill="#24c2ae"/>
<rect x="1778.3" y="1388.7" width="64.9" height="61.6" fill="#259ce7"/>
<rect x="1907.6" y="1388.7" width="65.4" height="61.6" fill="#39c895"/>
<rect x="1972.5" y="1388.7" width="64.9" height="61.6" fill="#18addb"/>
<rect x="2036.9" y="1388.7" width="65.3" height="61.6" fill="#18addb"/>
<rect x="2101.7" y="1388.7" width="64.9" height="61.6" fill="#21a3e3"/>
<rect x="2166.1" y="1388.7" width="65.4" height="61.6" fill="#39c895"/>
<rect x="2231" y="1388.7" width="65.5" height="61.6" fill="#2fc5a2"/>
<rect x="1778.3" y="1449.8" width="64.9" height="65.8" fill="#01b8c9"/>
<rect x="1972.5" y="1449.8" width="64.9" height="65.8" fill="#f1ba37"/>
<rect x="2036.9" y="1449.8" width="65.3" height="65.8" fill="#08bcbe"/>
<rect x="2101.7" y="1449.8" width="64.9" height="65.8" fill="#18addb"/>
<rect x="2166.1" y="1449.8" width="65.4" height="65.8" fill="#2994ed"/>
<rect x="2231" y="1449.8" width="65.5" height="65.8" fill="#1ea7e1"/>
<rect x="1778.3" y="1515.1" width="64.9" height="60.6" fill="#01b8c9"/>
<rect x="1842.7" y="1515.1" width="65.4" height="60.6" fill="#88cb53"/>
<rect x="1907.6" y="1515.1" width="65.4" height="60.6" fill="#02bac4"/>
<rect x="1972.5" y="1515.1" width="64.9" height="60.6" fill="#c8c129"/>
<rect x="2036.9" y="1515.1" width="65.3" height="60.6" fill="#48cb86"/>
<rect x="2101.7" y="1515.1" width="64.9" height="60.6" fill="#249fe5"/>
<rect x="2166.1" y="1515.1" width="65.4" height="60.6" fill="#4562fc"/>
<rect x="2231" y="1515.1" width="65.5" height="60.6" fill="#2d87f6"/>
<rect x="1713.5" y="1575.2" width="65.3" height="64.9" fill="#24c2ae"/>
<rect x="1778.3" y="1575.2" width="64.9" height="64.9" fill="#2fc5a2"/>
<rect x="1842.7" y="1575.2" width="65.4" height="64.9" fill="#249fe5"/>
<rect x="1907.6" y="1575.2" width="65.4" height="64.9" fill="#347afd"/>
<rect x="1972.5" y="1575.2" width="64.9" height="64.9" fill="#13b0d7"/>
<rect x="2036.9" y="1575.2" width="65.3" height="64.9" fill="#08bcbe"/>
<rect x="2101.7" y="1575.2" width="64.9" height="64.9" fill="#2e83f9"/>
<rect x="2166.1" y="1575.2" width="65.4" height="64.9" fill="#3875fe"/>
<rect x="2231" y="1575.2" width="65.5" height="64.9" fill="#4367fd"/>
<rect x="1778.3" y="1639.6" width="64.9" height="60.5" fill="#eaba31"/>
<rect x="1842.7" y="1639.6" width="65.4" height="60.5" fill="#2bc3a8"/>
<rect x="1907.6" y="1639.6" width="65.4" height="60.5" fill="#307ffb"/>
<rect x="1972.5" y="1639.6" width="64.9" height="60.5" fill="#259ce7"/>
<rect x="2036.9" y="1639.6" width="65.3" height="60.5" fill="#307ffb"/>
<rect x="2101.7" y="1639.6" width="64.9" height="60.5" fill="#2d8cf3"/>
<rect x="2166.1" y="1639.6" width="65.4" height="60.5" fill="#2798ea"/>
<rect x="2231" y="1639.6" width="65.5" height="60.5" fill="#2994ed"/>
<rect x="1778.3" y="1699.6" width="64.9" height="65.4" fill="#21a3e3"/>
<rect x="1842.7" y="1699.6" width="65.4" height="65.4" fill="#48cb86"/>
<rect x="1907.6" y="1699.6" width="65.4" height="65.4" fill="#2bc3a8"/>
<rect x="1972.5" y="1699.6" width="64.9" height="65.4" fill="#2d8cf3"/>
<rect x="2036.9" y="1699.6" width="65.3" height="65.4" fill="#1caadf"/>
<rect x="2101.7" y="1699.6" width="64.9" height="65.4" fill="#fcbd3d"/>
<rect x="2166.1" y="1699.6" width="65.4" height="65.4" fill="#01b8c9"/>
<rect x="2231" y="1699.6" width="65.5" height="65.4" fill="#2e83f9"/>
<rect x="1778.3" y="1764.5" width="64.9" height="60.6" fill="#3875fe"/>
<rect x="1842.7" y="1764.5" width="65.4" height="60.6" fill="#0cb3d3"/>
<rect x="1907.6" y="1764.5" width="65.4" height="60.6" fill="#249fe5"/>
<rect x="1972.5" y="1764.5" width="64.9" height="60.6" fill="#01b8c9"/>
<rect x="2036.9" y="1764.5" width="65.3" height="60.6" fill="#b4c533"/>
<rect x="2101.7" y="1764.5" width="64.9" height="60.6" fill="#fccf30"/>
<rect x="2166.1" y="1764.5" width="65.4" height="60.6" fill="#01b8c9"/>
<rect x="2231" y="1764.5" width="65.5" height="60.6" fill="#2e83f9"/>
<rect x="1778.3" y="1824.6" width="64.9" height="65.8" fill="#4433cc"/>
<rect x="1842.7" y="1824.6" width="65.4" height="65.8" fill="#13b0d7"/>
<rect x="1907.6" y="1824.6" width="65.4" height="65.8" fill="#48cb86"/>
<rect x="1972.5" y="1824.6" width="64.9" height="65.8" fill="#66cd6d"/>
<rect x="2036.9" y="1824.6" width="65.3" height="65.8" fill="#39c895"/>
<rect x="2101.7" y="1824.6" width="64.9" height="65.8" fill="#c8c129"/>
<rect x="2166.1" y="1824.6" width="65.4" height="65.8" fill="#e2bc2b"/>
<rect x="2231" y="1824.6" width="65.5" height="65.8" fill="#34c79c"/>
<rect x="1713.5" y="1889.9" width="65.3" height="60.6" fill="#2798ea"/>
<rect x="1778.3" y="1889.9" width="64.9" height="60.6" fill="#39c895"/>
<rect x="1842.7" y="1889.9" width="65.4" height="60.6" fill="#13b0d7"/>
<rect x="1907.6" y="1889.9" width="65.4" height="60.6" fill="#2fc5a2"/>
<rect x="1972.5" y="1889.9" width="64.9" height="60.6" fill="#2bc3a8"/>
<rect x="2036.9" y="1889.9" width="65.3" height="60.6" fill="#aac73a"/>
<rect x="2101.7" y="1889.9" width="64.9" height="60.6" fill="#347afd"/>
<rect x="2166.1" y="1889.9" width="65.4" height="60.6" fill="#2d87f6"/>
<rect x="2231" y="1889.9" width="65.5" height="60.6" fill="#2994ed"/>
<rect x="1713.5" y="1950" width="65.3" height="65.4" fill="#39c895"/>
<rect x="1778.3" y="1950" width="64.9" height="65.4" fill="#52cc7e"/>
<rect x="1842.7" y="1950" width="65.4" height="65.4" fill="#1caadf"/>
<rect x="1907.6" y="1950" width="65.4" height="65.4" fill="#21a3e3"/>
<rect x="1972.5" y="1950" width="64.9" height="65.4" fill="#2d8cf3"/>
<rect x="2036.9" y="1950" width="65.3" height="65.4" fill="#01b8c9"/>
<rect x="2101.7" y="1950" width="64.9" height="65.4" fill="#2c90f0"/>
<rect x="2166.1" y="1950" width="65.4" height="65.4" fill="#0cb3d3"/>
<rect x="2231" y="1950" width="65.5" height="65.4" fill="#0cb3d3"/>
<rect x="1713.5" y="2014.9" width="65.3" height="60.5" fill="#08bcbe"/>
<rect x="1778.3" y="2014.9" width="64.9" height="60.5" fill="#2bc3a8"/>
<rect x="1842.7" y="2014.9" width="65.4" height="60.5" fill="#2c90f0"/>
<rect x="1907.6" y="2014.9" width="65.4" height="60.5" fill="#307ffb"/>
<rect x="1972.5" y="2014.9" width="64.9" height="60.5" fill="#259ce7"/>
<rect x="2036.9" y="2014.9" width="65.3" height="60.5" fill="#249fe5"/>
<rect x="2101.7" y="2014.9" width="64.9" height="60.5" fill="#2994ed"/>
<rect x="2166.1" y="2014.9" width="65.4" height="60.5" fill="#21a3e3"/>
<rect x="2231" y="2014.9" width="65.5" height="60.5" fill="#3fca8e"/>
<rect x="1713.5" y="2074.9" width="65.3" height="60.6" fill="#c8c129"/>
<rect x="1778.3" y="2074.9" width="64.9" height="60.6" fill="#f1ba37"/>
<rect x="1842.7" y="2074.9" width="65.4" height="60.6" fill="#34c79c"/>
<rect x="1907.6" y="2074.9" width="65.4" height="60.6" fill="#2d8cf3"/>
<rect x="1972.5" y="2074.9" width="64.9" height="60.6" fill="#0cb3d3"/>
<rect x="2036.9" y="2074.9" width="65.3" height="60.6" fill="#fad42e"/>
<rect x="2101.7" y="2074.9" width="64.9" height="60.6" fill="#21a3e3"/>
<rect x="2166.1" y="2074.9" width="65.4" height="60.6" fill="#3875fe"/>
<rect x="2231" y="2074.9" width="65.5" height="60.6" fill="#2798ea"/>
<rect x="1713.5" y="2135" width="65.3" height="66.3" fill="#94ca4a"/>
<rect x="1778.3" y="2135" width="64.9" height="66.3" fill="#d2bf27"/>
<rect x="1842.7" y="2135" width="65.4" height="66.3" fill="#d2bf27"/>
<rect x="1907.6" y="2135" width="65.4" height="66.3" fill="#3fca8e"/>
<rect x="1972.5" y="2135" width="64.9" height="66.3" fill="#05b6ce"/>
<rect x="2036.9" y="2135" width="65.3" height="66.3" fill="#3fca8e"/>
<rect x="2101.7" y="2135" width="64.9" height="66.3" fill="#52cc7e"/>
<rect x="2166.1" y="2135" width="65.4" height="66.3" fill="#1caadf"/>
<rect x="2231" y="2135" width="65.5" height="66.3" fill="#2c90f0"/>
<rect x="1713.5" y="2200.8" width="65.3" height="60.6" fill="#3fca8e"/>
<rect x="1778.3" y="2200.8" width="64.9" height="60.6" fill="#b4c533"/>
<rect x="1842.7" y="2200.8" width="65.4" height="60.6" fill="#66cd6d"/>
<rect x="1907.6" y="2200.8" width="65.4" height="60.6" fill="#48cb86"/>
<rect x="1972.5" y="2200.8" width="64.9" height="60.6" fill="#24c2ae"/>
<rect x="2036.9" y="2200.8" width="65.3" height="60.6" fill="#259ce7"/>
<rect x="2101.7" y="2200.8" width="64.9" height="60.6" fill="#39c895"/>
<rect x="2166.1" y="2200.8" width="65.4" height="60.6" fill="#259ce7"/>
<rect x="2231" y="2200.8" width="65.5" height="60.6" fill="#08bcbe"/>
</g>
<g shape-rendering="crispEdges">
<rect x="1713.5" y="2304" width="65.3" height="61.5" fill="#9fc942"/>
<rect x="1778.3" y="2304" width="64.9" height="61.5" fill="#f9fb15"/>
<rect x="1842.7" y="2304" width="65.4" height="61.5" fill="#2c90f0"/>
<rect x="1907.6" y="2304" width="65.4" height="61.5" fill="#2fc5a2"/>
<rect x="1972.5" y="2304" width="64.9" height="61.5" fill="#24c2ae"/>
<rect x="2231" y="2304" width="65.5" height="61.5" fill="#f9fb15"/>
<rect x="1713.5" y="2365" width="65.3" height="64.5" fill="#dabd28"/>
<rect x="1778.3" y="2365" width="64.9" height="64.5" fill="#1cc0b4"/>
<rect x="1907.6" y="2365" width="65.4" height="64.5" fill="#02bac4"/>
<rect x="1972.5" y="2365" width="64.9" height="64.5" fill="#48cb86"/>
<rect x="2036.9" y="2365" width="65.3" height="64.5" fill="#4562fc"/>
<rect x="2101.7" y="2365" width="64.9" height="64.5" fill="#21a3e3"/>
<rect x="2166.1" y="2365" width="65.4" height="64.5" fill="#1cc0b4"/>
<rect x="2231" y="2365" width="65.5" height="64.5" fill="#f9fb15"/>
<rect x="1713.5" y="2429" width="65.3" height="60.5" fill="#21a3e3"/>
<rect x="1778.3" y="2429" width="64.9" height="60.5" fill="#259ce7"/>
<rect x="1842.7" y="2429" width="65.4" height="60.5" fill="#1caadf"/>
<rect x="1907.6" y="2429" width="65.4" height="60.5" fill="#02bac4"/>
<rect x="1972.5" y="2429" width="64.9" height="60.5" fill="#4755f6"/>
<rect x="2036.9" y="2429" width="65.3" height="60.5" fill="#4747ec"/>
<rect x="2101.7" y="2429" width="64.9" height="60.5" fill="#13b0d7"/>
<rect x="2166.1" y="2429" width="65.4" height="60.5" fill="#1caadf"/>
<rect x="2231" y="2429" width="65.5" height="60.5" fill="#1caadf"/>
<rect x="1778.3" y="2489" width="64.9" height="61.6" fill="#1caadf"/>
<rect x="1907.6" y="2489" width="65.4" height="61.6" fill="#24c2ae"/>
<rect x="1972.5" y="2489" width="64.9" height="61.6" fill="#2798ea"/>
<rect x="2036.9" y="2489" width="65.3" height="61.6" fill="#2d8cf3"/>
<rect x="2101.7" y="2489" width="64.9" height="61.6" fill="#347afd"/>
<rect x="2166.1" y="2489" width="65.4" height="61.6" fill="#02bac4"/>
<rect x="2231" y="2489" width="65.5" height="61.6" fill="#13b0d7"/>
<rect x="1778.3" y="2550.1" width="64.9" height="65.8" fill="#12beb9"/>
<rect x="1972.5" y="2550.1" width="64.9" height="65.8" fill="#dabd28"/>
<rect x="2036.9" y="2550.1" width="65.3" height="65.8" fill="#2c90f0"/>
<rect x="2101.7" y="2550.1" width="64.9" height="65.8" fill="#3875fe"/>
<rect x="2166.1" y="2550.1" width="65.4" height="65.8" fill="#4755f6"/>
<rect x="2231" y="2550.1" width="65.5" height="65.8" fill="#416bfe"/>
<rect x="1778.3" y="2615.4" width="64.9" height="60.6" fill="#01b8c9"/>
<rect x="1842.7" y="2615.4" width="65.4" height="60.6" fill="#48cb86"/>
<rect x="1907.6" y="2615.4" width="65.4" height="60.6" fill="#3875fe"/>
<rect x="1972.5" y="2615.4" width="64.9" height="60.6" fill="#48cb86"/>
<rect x="2036.9" y="2615.4" width="65.3" height="60.6" fill="#05b6ce"/>
<rect x="2101.7" y="2615.4" width="64.9" height="60.6" fill="#416bfe"/>
<rect x="2166.1" y="2615.4" width="65.4" height="60.6" fill="#4433cc"/>
<rect x="2231" y="2615.4" width="65.5" height="60.6" fill="#473fe2"/>
<rect x="1713.5" y="2675.5" width="65.3" height="64.9" fill="#18addb"/>
<rect x="1778.3" y="2675.5" width="64.9" height="64.9" fill="#307ffb"/>
<rect x="1842.7" y="2675.5" width="65.4" height="64.9" fill="#4755f6"/>
<rect x="1907.6" y="2675.5" width="65.4" height="64.9" fill="#463adc"/>
<rect x="1972.5" y="2675.5" width="64.9" height="64.9" fill="#2d8cf3"/>
<rect x="2036.9" y="2675.5" width="65.3" height="64.9" fill="#21a3e3"/>
<rect x="2101.7" y="2675.5" width="64.9" height="64.9" fill="#473fe2"/>
<rect x="2166.1" y="2675.5" width="65.4" height="64.9" fill="#4433cc"/>
<rect x="2231" y="2675.5" width="65.5" height="64.9" fill="#4433cc"/>
<rect x="1778.3" y="2739.9" width="64.9" height="60.5" fill="#71cd64"/>
<rect x="1842.7" y="2739.9" width="65.4" height="60.5" fill="#2994ed"/>
<rect x="1907.6" y="2739.9" width="65.4" height="60.5" fill="#4850f3"/>
<rect x="1972.5" y="2739.9" width="64.9" height="60.5" fill="#4850f3"/>
<rect x="2036.9" y="2739.9" width="65.3" height="60.5" fill="#473fe2"/>
<rect x="2101.7" y="2739.9" width="64.9" height="60.5" fill="#4743e7"/>
<rect x="2166.1" y="2739.9" width="65.4" height="60.5" fill="#4562fc"/>
<rect x="2231" y="2739.9" width="65.5" height="60.5" fill="#4367fd"/>
<rect x="1778.3" y="2799.9" width="64.9" height="65.4" fill="#465efb"/>
<rect x="1842.7" y="2799.9" width="65.4" height="65.4" fill="#21a3e3"/>
<rect x="1907.6" y="2799.9" width="65.4" height="65.4" fill="#2c90f0"/>
<rect x="1972.5" y="2799.9" width="64.9" height="65.4" fill="#4747ec"/>
<rect x="2036.9" y="2799.9" width="65.3" height="65.4" fill="#4759f8"/>
<rect x="2101.7" y="2799.9" width="64.9" height="65.4" fill="#94ca4a"/>
<rect x="2166.1" y="2799.9" width="65.4" height="65.4" fill="#2d87f6"/>
<rect x="2231" y="2799.9" width="65.5" height="65.4" fill="#4747ec"/>
<rect x="1778.3" y="2864.8" width="64.9" height="60.6" fill="#307ffb"/>
<rect x="1842.7" y="2864.8" width="65.4" height="60.6" fill="#3875fe"/>
<rect x="1907.6" y="2864.8" width="65.4" height="60.6" fill="#4367fd"/>
<rect x="1972.5" y="2864.8" width="64.9" height="60.6" fill="#2798ea"/>
<rect x="2036.9" y="2864.8" width="65.3" height="60.6" fill="#24c2ae"/>
<rect x="2101.7" y="2864.8" width="64.9" height="60.6" fill="#e2bc2b"/>
<rect x="2166.1" y="2864.8" width="65.4" height="60.6" fill="#307ffb"/>
<rect x="2231" y="2864.8" width="65.5" height="60.6" fill="#473fe2"/>
<rect x="1778.3" y="2924.9" width="64.9" height="65.8" fill="#307ffb"/>
<rect x="1842.7" y="2924.9" width="65.4" height="65.8" fill="#347afd"/>
<rect x="1907.6" y="2924.9" width="65.4" height="65.8" fill="#1cc0b4"/>
<rect x="1972.5" y="2924.9" width="64.9" height="65.8" fill="#1cc0b4"/>
<rect x="2036.9" y="2924.9" width="65.3" height="65.8" fill="#1ea7e1"/>
<rect x="2101.7" y="2924.9" width="64.9" height="65.8" fill="#2bc3a8"/>
<rect x="2166.1" y="2924.9" width="65.4" height="65.8" fill="#71cd64"/>
<rect x="2231" y="2924.9" width="65.5" height="65.8" fill="#13b0d7"/>
<rect x="1713.5" y="2990.2" width="65.3" height="60.6" fill="#48cb86"/>
<rect x="1778.3" y="2990.2" width="64.9" height="60.6" fill="#88cb53"/>
<rect x="1842.7" y="2990.2" width="65.4" height="60.6" fill="#347afd"/>
<rect x="1907.6" y="2990.2" width="65.4" height="60.6" fill="#01b8c9"/>
<rect x="1972.5" y="2990.2" width="64.9" height="60.6" fill="#0cb3d3"/>
<rect x="2036.9" y="2990.2" width="65.3" height="60.6" fill="#7dcc5c"/>
<rect x="2101.7" y="2990.2" width="64.9" height="60.6" fill="#463adc"/>
<rect x="2166.1" y="2990.2" width="65.4" height="60.6" fill="#4743e7"/>
<rect x="2231" y="2990.2" width="65.5" height="60.6" fill="#4759f8"/>
<rect x="1713.5" y="3050.3" width="65.3" height="65.4" fill="#fcbd3d"/>
<rect x="1778.3" y="3050.3" width="64.9" height="65.4" fill="#f9fb15"/>
<rect x="1842.7" y="3050.3" width="65.4" height="65.4" fill="#2c90f0"/>
<rect x="1907.6" y="3050.3" width="65.4" height="65.4" fill="#416bfe"/>
<rect x="1972.5" y="3050.3" width="64.9" height="65.4" fill="#4759f8"/>
<rect x="2036.9" y="3050.3" width="65.3" height="65.4" fill="#2d8cf3"/>
<rect x="2101.7" y="3050.3" width="64.9" height="65.4" fill="#4850f3"/>
<rect x="2166.1" y="3050.3" width="65.4" height="65.4" fill="#3875fe"/>
<rect x="2231" y="3050.3" width="65.5" height="65.4" fill="#3875fe"/>
<rect x="1713.5" y="3115.2" width="65.3" height="60.5" fill="#08bcbe"/>
<rect x="1778.3" y="3115.2" width="64.9" height="60.5" fill="#52cc7e"/>
<rect x="1842.7" y="3115.2" width="65.4" height="60.5" fill="#465efb"/>
<rect x="1907.6" y="3115.2" width="65.4" height="60.5" fill="#4747ec"/>
<rect x="1972.5" y="3115.2" width="64.9" height="60.5" fill="#3875fe"/>
<rect x="2036.9" y="3115.2" width="65.3" height="60.5" fill="#4562fc"/>
<rect x="2101.7" y="3115.2" width="64.9" height="60.5" fill="#4755f6"/>
<rect x="2166.1" y="3115.2" width="65.4" height="60.5" fill="#4562fc"/>
<rect x="2231" y="3115.2" width="65.5" height="60.5" fill="#08bcbe"/>
<rect x="1713.5" y="3175.2" width="65.3" height="60.6" fill="#eaba31"/>
<rect x="1778.3" y="3175.2" width="64.9" height="60.6" fill="#f9fb15"/>
<rect x="1842.7" y="3175.2" width="65.4" height="60.6" fill="#39c895"/>
<rect x="1907.6" y="3175.2" width="65.4" height="60.6" fill="#465efb"/>
<rect x="1972.5" y="3175.2" width="64.9" height="60.6" fill="#2798ea"/>
<rect x="2036.9" y="3175.2" width="65.3" height="60.6" fill="#f9fb15"/>
<rect x="2101.7" y="3175.2" width="64.9" height="60.6" fill="#3d70ff"/>
<rect x="2166.1" y="3175.2" width="65.4" height="60.6" fill="#412dbb"/>
<rect x="2231" y="3175.2" width="65.5" height="60.6" fill="#4755f6"/>
<rect x="1713.5" y="3235.3" width="65.3" height="66.3" fill="#e2bc2b"/>
<rect x="1778.3" y="3235.3" width="64.9" height="66.3" fill="#f8d92c"/>
<rect x="1842.7" y="3235.3" width="65.4" height="66.3" fill="#f5ed22"/>
<rect x="1907.6" y="3235.3" width="65.4" height="66.3" fill="#12beb9"/>
<rect x="1972.5" y="3235.3" width="64.9" height="66.3" fill="#21a3e3"/>
<rect x="2036.9" y="3235.3" width="65.3" height="66.3" fill="#2bc3a8"/>
<rect x="2101.7" y="3235.3" width="64.9" height="66.3" fill="#39c895"/>
<rect x="2166.1" y="3235.3" width="65.4" height="66.3" fill="#2d87f6"/>
<rect x="2231" y="3235.3" width="65.5" height="66.3" fill="#4743e7"/>
<rect x="1713.5" y="3301.1" width="65.3" height="60.6" fill="#39c895"/>
<rect x="1778.3" y="3301.1" width="64.9" height="60.6" fill="#f9fb15"/>
<rect x="1842.7" y="3301.1" width="65.4" height="60.6" fill="#f8d92c"/>
<rect x="1907.6" y="3301.1" width="65.4" height="60.6" fill="#08bcbe"/>
<rect x="1972.5" y="3301.1" width="64.9" height="60.6" fill="#18addb"/>
<rect x="2036.9" y="3301.1" width="65.3" height="60.6" fill="#307ffb"/>
<rect x="2101.7" y="3301.1" width="64.9" height="60.6" fill="#2fc5a2"/>
<rect x="2166.1" y="3301.1" width="65.4" height="60.6" fill="#4367fd"/>
<rect x="2231" y="3301.1" width="65.5" height="60.6" fill="#2e83f9"/>
</g>
<g shape-rendering="crispEdges">
<rect x="432.8" y="105.3" width="595.2" height="4.3" fill="#000" fill-opacity="0.45"/>
<rect x="432.8" y="109.7" width="4.3" height="1051.7" fill="#000" fill-opacity="0.45"/>
<rect x="1023.7" y="105.3" width="4.3" height="1056" fill="#000" fill-opacity="0.62"/>
<rect x="432.8" y="1157" width="595.2" height="4.3" fill="#000" fill-opacity="0.72"/>
<rect x="432.8" y="101" width="595.2" height="4.3" fill="#969696"/>
<rect x="428.5" y="105.3" width="4.3" height="1056" fill="#adadad"/>
<rect x="428.5" y="101" width="4.3" height="4.3" fill="#cfcfcf"/>
<rect x="432.8" y="1161.4" width="595.2" height="4.3" fill="#c8c8c8"/>
</g>
<g shape-rendering="crispEdges">
<rect x="1071.3" y="105.3" width="595" height="4.3" fill="#000" fill-opacity="0.45"/>
<rect x="1071.3" y="109.7" width="4.3" height="1051.7" fill="#000" fill-opacity="0.45"/>
<rect x="1662" y="105.3" width="4.3" height="1056" fill="#000" fill-opacity="0.62"/>
<rect x="1071.3" y="1157" width="595" height="4.3" fill="#000" fill-opacity="0.72"/>
<rect x="1071.3" y="101" width="595" height="4.3" fill="#969696"/>
<rect x="1067" y="105.3" width="4.3" height="1056" fill="#adadad"/>
<rect x="1067" y="101" width="4.3" height="4.3" fill="#cfcfcf"/>
<rect x="1071.3" y="1161.4" width="595" height="4.3" fill="#c8c8c8"/>
</g>
<g shape-rendering="crispEdges">
<rect x="1713.3" y="105.3" width="582.7" height="4.3" fill="#000" fill-opacity="0.45"/>
<rect x="1713.3" y="109.7" width="4.3" height="1051.7" fill="#000" fill-opacity="0.45"/>
<rect x="2291.7" y="105.3" width="4.3" height="1056" fill="#000" fill-opacity="0.62"/>
<rect x="1713.3" y="1157" width="582.7" height="4.3" fill="#000" fill-opacity="0.72"/>
<rect x="1713.3" y="101" width="582.7" height="4.3" fill="#969696"/>
<rect x="1709" y="105.3" width="4.3" height="1056" fill="#adadad"/>
<rect x="1709" y="101" width="4.3" height="4.3" fill="#cfcfcf"/>
<rect x="1709" y="1161.4" width="587" height="4.3" fill="#262626"/>
<rect x="2296" y="101" width="4.3" height="1064.7" fill="#c8c8c8"/>
</g>
<g shape-rendering="crispEdges">
<rect x="432.8" y="1204.6" width="595.2" height="4.3" fill="#000" fill-opacity="0.45"/>
<rect x="432.8" y="1209" width="4.3" height="1052.3" fill="#000" fill-opacity="0.45"/>
<rect x="1023.7" y="1204.6" width="4.3" height="1056.6" fill="#000" fill-opacity="0.62"/>
<rect x="432.8" y="2256.9" width="595.2" height="4.3" fill="#000" fill-opacity="0.72"/>
<rect x="432.8" y="1200.3" width="595.2" height="4.3" fill="#969696"/>
<rect x="428.5" y="1204.6" width="4.3" height="1056.6" fill="#adadad"/>
<rect x="428.5" y="1200.3" width="4.3" height="4.3" fill="#cfcfcf"/>
<rect x="432.8" y="2261.3" width="595.2" height="4.3" fill="#c8c8c8"/>
</g>
<g shape-rendering="crispEdges">
<rect x="1071.3" y="1204.6" width="595" height="4.3" fill="#000" fill-opacity="0.45"/>
<rect x="1071.3" y="1209" width="4.3" height="1052.3" fill="#000" fill-opacity="0.45"/>
<rect x="1662" y="1204.6" width="4.3" height="1056.6" fill="#000" fill-opacity="0.62"/>
<rect x="1071.3" y="2256.9" width="595" height="4.3" fill="#000" fill-opacity="0.72"/>
<rect x="1071.3" y="1200.3" width="595" height="4.3" fill="#969696"/>
<rect x="1067" y="1204.6" width="4.3" height="1056.6" fill="#adadad"/>
<rect x="1067" y="1200.3" width="4.3" height="4.3" fill="#cfcfcf"/>
<rect x="1071.3" y="2261.3" width="595" height="4.3" fill="#c8c8c8"/>
</g>
<g shape-rendering="crispEdges">
<rect x="1713.3" y="1204.6" width="582.7" height="4.3" fill="#000" fill-opacity="0.45"/>
<rect x="1713.3" y="1209" width="4.3" height="1052.3" fill="#000" fill-opacity="0.45"/>
<rect x="2291.7" y="1204.6" width="4.3" height="1056.6" fill="#000" fill-opacity="0.62"/>
<rect x="1713.3" y="2256.9" width="582.7" height="4.3" fill="#000" fill-opacity="0.72"/>
<rect x="1713.3" y="1200.3" width="582.7" height="4.3" fill="#969696"/>
<rect x="1709" y="1204.6" width="4.3" height="1056.6" fill="#adadad"/>
<rect x="1709" y="1200.3" width="4.3" height="4.3" fill="#cfcfcf"/>
<rect x="1709" y="2261.3" width="587" height="4.3" fill="#262626"/>
<rect x="2296" y="1200.3" width="4.3" height="1065.3" fill="#c8c8c8"/>
</g>
<g shape-rendering="crispEdges">
<rect x="432.8" y="2304.9" width="595.2" height="4.3" fill="#000" fill-opacity="0.45"/>
<rect x="432.8" y="2309.3" width="4.3" height="1051.7" fill="#000" fill-opacity="0.45"/>
<rect x="1023.7" y="2304.9" width="4.3" height="1056" fill="#000" fill-opacity="0.62"/>
<rect x="432.8" y="3356.6" width="595.2" height="4.3" fill="#000" fill-opacity="0.72"/>
<rect x="432.8" y="2300.6" width="595.2" height="4.3" fill="#969696"/>
<rect x="428.5" y="2304.9" width="4.3" height="1056" fill="#adadad"/>
<rect x="428.5" y="2300.6" width="4.3" height="4.3" fill="#cfcfcf"/>
<rect x="432.8" y="3361" width="595.2" height="4.3" fill="#c8c8c8"/>
</g>
<g shape-rendering="crispEdges">
<rect x="1071.3" y="2304.9" width="595" height="4.3" fill="#000" fill-opacity="0.45"/>
<rect x="1071.3" y="2309.3" width="4.3" height="1051.7" fill="#000" fill-opacity="0.45"/>
<rect x="1662" y="2304.9" width="4.3" height="1056" fill="#000" fill-opacity="0.62"/>
<rect x="1071.3" y="3356.6" width="595" height="4.3" fill="#000" fill-opacity="0.72"/>
<rect x="1071.3" y="2300.6" width="595" height="4.3" fill="#969696"/>
<rect x="1067" y="2304.9" width="4.3" height="1056" fill="#adadad"/>
<rect x="1067" y="2300.6" width="4.3" height="4.3" fill="#cfcfcf"/>
<rect x="1071.3" y="3361" width="595" height="4.3" fill="#c8c8c8"/>
</g>
<g shape-rendering="crispEdges">
<rect x="1713.3" y="2304.9" width="582.7" height="4.3" fill="#000" fill-opacity="0.45"/>
<rect x="1713.3" y="2309.3" width="4.3" height="1051.7" fill="#000" fill-opacity="0.45"/>
<rect x="2291.7" y="2304.9" width="4.3" height="1056" fill="#000" fill-opacity="0.62"/>
<rect x="1713.3" y="3356.6" width="582.7" height="4.3" fill="#000" fill-opacity="0.72"/>
<rect x="1713.3" y="2300.6" width="582.7" height="4.3" fill="#969696"/>
<rect x="1709" y="2304.9" width="4.3" height="1056" fill="#adadad"/>
<rect x="1709" y="2300.6" width="4.3" height="4.3" fill="#cfcfcf"/>
<rect x="1709" y="3361" width="587" height="4.3" fill="#262626"/>
</g>
<defs><linearGradient id="cb0" x1="0" y1="1" x2="0" y2="0">
<stop offset="0%" stop-color="#3e26a8"/>
<stop offset="3.1%" stop-color="#422ebf"/>
<stop offset="6.2%" stop-color="#4536d5"/>
<stop offset="9.4%" stop-color="#4741e5"/>
<stop offset="12.5%" stop-color="#484cef"/>
<stop offset="15.6%" stop-color="#4757f7"/>
<stop offset="18.8%" stop-color="#4562fc"/>
<stop offset="21.9%" stop-color="#3f6efe"/>
<stop offset="25%" stop-color="#347afd"/>
<stop offset="28.1%" stop-color="#2e85f8"/>
<stop offset="31.2%" stop-color="#2c90f0"/>
<stop offset="34.4%" stop-color="#269ae9"/>
<stop offset="37.5%" stop-color="#21a3e3"/>
<stop offset="40.6%" stop-color="#1aacdd"/>
<stop offset="43.8%" stop-color="#0cb3d3"/>
<stop offset="46.9%" stop-color="#01b9c6"/>
<stop offset="50%" stop-color="#12beb9"/>
<stop offset="53.1%" stop-color="#28c2ab"/>
<stop offset="56.2%" stop-color="#34c79c"/>
<stop offset="59.4%" stop-color="#44ca8a"/>
<stop offset="62.5%" stop-color="#5ccc76"/>
<stop offset="65.6%" stop-color="#77cc60"/>
<stop offset="68.8%" stop-color="#94ca4a"/>
<stop offset="71.9%" stop-color="#afc637"/>
<stop offset="75%" stop-color="#c8c129"/>
<stop offset="78.1%" stop-color="#debc2a"/>
<stop offset="81.2%" stop-color="#f1ba37"/>
<stop offset="84.4%" stop-color="#febe3c"/>
<stop offset="87.5%" stop-color="#feca33"/>
<stop offset="90.6%" stop-color="#f9d62d"/>
<stop offset="93.8%" stop-color="#f5e327"/>
<stop offset="96.9%" stop-color="#f6ef20"/>
<stop offset="100%" stop-color="#f9fb15"/>
</linearGradient></defs>
<g shape-rendering="crispEdges">
<rect x="2313.3" y="105.3" width="43" height="1056" fill="url(#cb0)"/>
<rect x="2313.3" y="105.3" width="4.3" height="1056" fill="#000" fill-opacity="0.42"/>
<rect x="2313.3" y="105.3" width="43" height="4.3" fill="#000" fill-opacity="0.42"/>
<rect x="2309" y="101" width="4.3" height="1064.7" fill="#5c5c5c"/>
<rect x="2309" y="101" width="51.7" height="4.3" fill="#5c5c5c"/>
<rect x="2356.3" y="101" width="4.3" height="1064.7" fill="#2a2a2a"/>
<rect x="2309" y="1161.4" width="51.7" height="4.3" fill="#2a2a2a"/>
<rect x="2360.7" y="101" width="4.3" height="1060.4" fill="#b9b9b9"/>
<rect x="2348.1" y="1028.6" width="8.2" height="4.3" fill="#000" fill-opacity="0.7"/>
<rect x="2348.1" y="896" width="8.2" height="4.3" fill="#000" fill-opacity="0.7"/>
<rect x="2348.1" y="763.4" width="8.2" height="4.3" fill="#000" fill-opacity="0.7"/>
<rect x="2348.1" y="630.8" width="8.2" height="4.3" fill="#000" fill-opacity="0.7"/>
<rect x="2348.1" y="498.2" width="8.2" height="4.3" fill="#000" fill-opacity="0.7"/>
<rect x="2348.1" y="365.6" width="8.2" height="4.3" fill="#000" fill-opacity="0.7"/>
<rect x="2348.1" y="233" width="8.2" height="4.3" fill="#000" fill-opacity="0.7"/>
</g>
<text class="k" x="2371" y="1174.4">0</text>
<text class="k" x="2371" y="1041.8">10</text>
<text class="k" x="2371" y="909.2">20</text>
<text class="k" x="2371" y="776.6">30</text>
<text class="k" x="2371" y="644">40</text>
<text class="k" x="2371" y="511.4">50</text>
<text class="k" x="2371" y="378.8">60</text>
<text class="k" x="2371" y="246.2">70</text>
<text class="k" x="2371" y="113.6">80</text>
<defs><linearGradient id="cb1" x1="0" y1="1" x2="0" y2="0">
<stop offset="0%" stop-color="#3e26a8"/>
<stop offset="3.1%" stop-color="#422ebf"/>
<stop offset="6.2%" stop-color="#4536d5"/>
<stop offset="9.4%" stop-color="#4741e5"/>
<stop offset="12.5%" stop-color="#484cef"/>
<stop offset="15.6%" stop-color="#4757f7"/>
<stop offset="18.8%" stop-color="#4562fc"/>
<stop offset="21.9%" stop-color="#3f6efe"/>
<stop offset="25%" stop-color="#347afd"/>
<stop offset="28.1%" stop-color="#2e85f8"/>
<stop offset="31.2%" stop-color="#2c90f0"/>
<stop offset="34.4%" stop-color="#269ae9"/>
<stop offset="37.5%" stop-color="#21a3e3"/>
<stop offset="40.6%" stop-color="#1aacdd"/>
<stop offset="43.8%" stop-color="#0cb3d3"/>
<stop offset="46.9%" stop-color="#01b9c6"/>
<stop offset="50%" stop-color="#12beb9"/>
<stop offset="53.1%" stop-color="#28c2ab"/>
<stop offset="56.2%" stop-color="#34c79c"/>
<stop offset="59.4%" stop-color="#44ca8a"/>
<stop offset="62.5%" stop-color="#5ccc76"/>
<stop offset="65.6%" stop-color="#77cc60"/>
<stop offset="68.8%" stop-color="#94ca4a"/>
<stop offset="71.9%" stop-color="#afc637"/>
<stop offset="75%" stop-color="#c8c129"/>
<stop offset="78.1%" stop-color="#debc2a"/>
<stop offset="81.2%" stop-color="#f1ba37"/>
<stop offset="84.4%" stop-color="#febe3c"/>
<stop offset="87.5%" stop-color="#feca33"/>
<stop offset="90.6%" stop-color="#f9d62d"/>
<stop offset="93.8%" stop-color="#f5e327"/>
<stop offset="96.9%" stop-color="#f6ef20"/>
<stop offset="100%" stop-color="#f9fb15"/>
</linearGradient></defs>
<g shape-rendering="crispEdges">
<rect x="2317.5" y="1204.6" width="38.8" height="1056.6" fill="url(#cb1)"/>
<rect x="2317.5" y="1204.6" width="4.3" height="1056.6" fill="#000" fill-opacity="0.42"/>
<rect x="2317.5" y="1204.6" width="38.8" height="4.3" fill="#000" fill-opacity="0.42"/>
<rect x="2313.2" y="1200.3" width="4.3" height="1065.3" fill="#5c5c5c"/>
<rect x="2313.2" y="1200.3" width="47.5" height="4.3" fill="#5c5c5c"/>
<rect x="2356.3" y="1200.3" width="4.3" height="1065.3" fill="#2a2a2a"/>
<rect x="2313.2" y="2261.3" width="47.5" height="4.3" fill="#2a2a2a"/>
<rect x="2360.7" y="1200.3" width="4.3" height="1061" fill="#b9b9b9"/>
<rect x="2348.1" y="2084.2" width="8.2" height="4.3" fill="#000" fill-opacity="0.7"/>
<rect x="2348.1" y="1907.3" width="8.2" height="4.3" fill="#000" fill-opacity="0.7"/>
<rect x="2348.1" y="1730.4" width="8.2" height="4.3" fill="#000" fill-opacity="0.7"/>
<rect x="2348.1" y="1553.5" width="8.2" height="4.3" fill="#000" fill-opacity="0.7"/>
<rect x="2348.1" y="1376.6" width="8.2" height="4.3" fill="#000" fill-opacity="0.7"/>
</g>
<text class="k" x="2371" y="2274.3">0</text>
<text class="k" x="2371" y="2097.4">1</text>
<text class="k" x="2371" y="1920.5">2</text>
<text class="k" x="2371" y="1743.6">3</text>
<text class="k" x="2371" y="1566.7">4</text>
<text class="k" x="2371" y="1389.8">5</text>
<text class="k" x="2371" y="1212.9">6</text>
<defs><linearGradient id="cb2" x1="0" y1="1" x2="0" y2="0">
<stop offset="0%" stop-color="#3e26a8"/>
<stop offset="3.1%" stop-color="#422ebf"/>
<stop offset="6.2%" stop-color="#4536d5"/>
<stop offset="9.4%" stop-color="#4741e5"/>
<stop offset="12.5%" stop-color="#484cef"/>
<stop offset="15.6%" stop-color="#4757f7"/>
<stop offset="18.8%" stop-color="#4562fc"/>
<stop offset="21.9%" stop-color="#3f6efe"/>
<stop offset="25%" stop-color="#347afd"/>
<stop offset="28.1%" stop-color="#2e85f8"/>
<stop offset="31.2%" stop-color="#2c90f0"/>
<stop offset="34.4%" stop-color="#269ae9"/>
<stop offset="37.5%" stop-color="#21a3e3"/>
<stop offset="40.6%" stop-color="#1aacdd"/>
<stop offset="43.8%" stop-color="#0cb3d3"/>
<stop offset="46.9%" stop-color="#01b9c6"/>
<stop offset="50%" stop-color="#12beb9"/>
<stop offset="53.1%" stop-color="#28c2ab"/>
<stop offset="56.2%" stop-color="#34c79c"/>
<stop offset="59.4%" stop-color="#44ca8a"/>
<stop offset="62.5%" stop-color="#5ccc76"/>
<stop offset="65.6%" stop-color="#77cc60"/>
<stop offset="68.8%" stop-color="#94ca4a"/>
<stop offset="71.9%" stop-color="#afc637"/>
<stop offset="75%" stop-color="#c8c129"/>
<stop offset="78.1%" stop-color="#debc2a"/>
<stop offset="81.2%" stop-color="#f1ba37"/>
<stop offset="84.4%" stop-color="#febe3c"/>
<stop offset="87.5%" stop-color="#feca33"/>
<stop offset="90.6%" stop-color="#f9d62d"/>
<stop offset="93.8%" stop-color="#f5e327"/>
<stop offset="96.9%" stop-color="#f6ef20"/>
<stop offset="100%" stop-color="#f9fb15"/>
</linearGradient></defs>
<g shape-rendering="crispEdges">
<rect x="2322" y="2304.9" width="34.3" height="1056" fill="url(#cb2)"/>
<rect x="2322" y="2304.9" width="4.3" height="1056" fill="#000" fill-opacity="0.42"/>
<rect x="2322" y="2304.9" width="34.3" height="4.3" fill="#000" fill-opacity="0.42"/>
<rect x="2317.7" y="2300.6" width="4.3" height="1064.7" fill="#5c5c5c"/>
<rect x="2317.7" y="2300.6" width="43" height="4.3" fill="#5c5c5c"/>
<rect x="2356.3" y="2300.6" width="4.3" height="1064.7" fill="#2a2a2a"/>
<rect x="2317.7" y="3361" width="43" height="4.3" fill="#2a2a2a"/>
<rect x="2360.7" y="2300.6" width="4.3" height="1060.4" fill="#b9b9b9"/>
<rect x="2348.1" y="3148.7" width="8.2" height="4.3" fill="#000" fill-opacity="0.7"/>
<rect x="2348.1" y="2936.5" width="8.2" height="4.3" fill="#000" fill-opacity="0.7"/>
<rect x="2348.1" y="2724.4" width="8.2" height="4.3" fill="#000" fill-opacity="0.7"/>
<rect x="2348.1" y="2512.2" width="8.2" height="4.3" fill="#000" fill-opacity="0.7"/>
</g>
<text class="k" x="2371" y="3374">0</text>
<text class="k" x="2371" y="3161.8">40</text>
<text class="k" x="2371" y="2949.7">80</text>
<text class="k" x="2371" y="2737.5">120</text>
<text class="k" x="2371" y="2525.4">160</text>
<text class="k" x="2371" y="2313.2">200</text>
<text class="t" x="634" y="79" textLength="105" lengthAdjust="spacingAndGlyphs">3 m</text>
<text class="t" x="1272" y="79" textLength="140" lengthAdjust="spacingAndGlyphs">20 m</text>
<text class="t" x="1945" y="79" textLength="174" lengthAdjust="spacingAndGlyphs">300 m</text>
<text class="l" x="46" y="643.5" textLength="371" lengthAdjust="spacingAndGlyphs">LCC (µg.cm<tspan dy="-20" font-size="38">-2</tspan><tspan dy="20">)</tspan></text>
<text class="l" x="76" y="1760" textLength="302" lengthAdjust="spacingAndGlyphs">LAI (m.m<tspan dy="-20" font-size="38">-2</tspan><tspan dy="20">)</tspan></text>
<text class="l" x="14" y="2851.5" textLength="398" lengthAdjust="spacingAndGlyphs">CCC (µg.cm-2)</text>
</svg>
</body></html>
